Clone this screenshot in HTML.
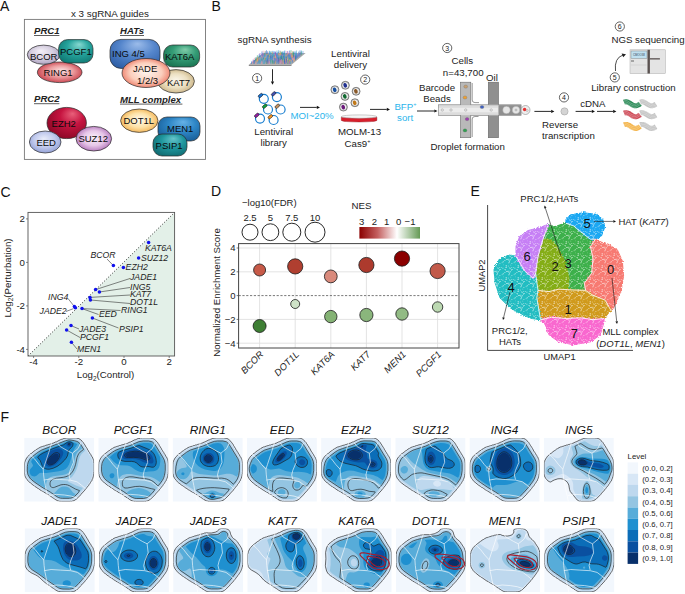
<!DOCTYPE html>
<html><head><meta charset="utf-8"><style>
html,body{margin:0;padding:0;background:#fff;width:685px;height:594px;overflow:hidden}
svg{display:block}
text{font-family:"Liberation Sans",sans-serif}
</style></head><body>
<svg width="685" height="594" viewBox="0 0 685 594">
<defs><radialGradient id="gBCOR" cx="0.5" cy="0.45" r="0.6" fx="0.4" fy="0.3"><stop offset="0" stop-color="#f4f0f8"/><stop offset="0.55" stop-color="#d6cfe0"/><stop offset="1" stop-color="#a89cbc"/></radialGradient>
<radialGradient id="gPCGF1" cx="0.55" cy="0.4" r="0.65" fx="0.6" fy="0.2"><stop offset="0" stop-color="#86d8d0"/><stop offset="0.5" stop-color="#26a49d"/><stop offset="1" stop-color="#107a74"/></radialGradient>
<radialGradient id="gRING1" cx="0.5" cy="0.5" r="0.55" fx="0.55" fy="0.4"><stop offset="0" stop-color="#fbe0e0"/><stop offset="0.5" stop-color="#ec9ea0"/><stop offset="1" stop-color="#c83c48"/></radialGradient>
<radialGradient id="gING" cx="0.55" cy="0.35" r="0.7" fx="0.55" fy="0.15"><stop offset="0" stop-color="#9cbcea"/><stop offset="0.5" stop-color="#5586cc"/><stop offset="1" stop-color="#2f60a8"/></radialGradient>
<radialGradient id="gKAT6A" cx="0.55" cy="0.4" r="0.65" fx="0.6" fy="0.2"><stop offset="0" stop-color="#80ccaa"/><stop offset="0.5" stop-color="#349c76"/><stop offset="1" stop-color="#1a7452"/></radialGradient>
<radialGradient id="gJADE" cx="0.5" cy="0.5" r="0.55" fx="0.5" fy="0.45"><stop offset="0" stop-color="#fff6f0"/><stop offset="0.6" stop-color="#fbcfbd"/><stop offset="1" stop-color="#ec7662"/></radialGradient>
<radialGradient id="gKAT7" cx="0.5" cy="0.5" r="0.55" fx="0.5" fy="0.45"><stop offset="0" stop-color="#fbf6ea"/><stop offset="0.55" stop-color="#ece0c2"/><stop offset="1" stop-color="#c8b080"/></radialGradient>
<radialGradient id="gEZH2" cx="0.6" cy="0.35" r="0.65" fx="0.65" fy="0.2"><stop offset="0" stop-color="#e8607a"/><stop offset="0.45" stop-color="#c61440"/><stop offset="1" stop-color="#900828"/></radialGradient>
<radialGradient id="gEED" cx="0.5" cy="0.45" r="0.6" fx="0.45" fy="0.35"><stop offset="0" stop-color="#e8ecfa"/><stop offset="0.55" stop-color="#c2cbee"/><stop offset="1" stop-color="#8c9ad2"/></radialGradient>
<radialGradient id="gSUZ12" cx="0.5" cy="0.5" r="0.55" fx="0.5" fy="0.45"><stop offset="0" stop-color="#fbf0fb"/><stop offset="0.55" stop-color="#e6c6e8"/><stop offset="1" stop-color="#b070b8"/></radialGradient>
<radialGradient id="gDOT1L" cx="0.5" cy="0.5" r="0.55" fx="0.5" fy="0.45"><stop offset="0" stop-color="#fffaf0"/><stop offset="0.55" stop-color="#fde2a8"/><stop offset="1" stop-color="#f2b04e"/></radialGradient>
<radialGradient id="gMEN1" cx="0.55" cy="0.4" r="0.65" fx="0.6" fy="0.2"><stop offset="0" stop-color="#66b2e6"/><stop offset="0.5" stop-color="#2e86c6"/><stop offset="1" stop-color="#185e98"/></radialGradient>
<radialGradient id="gPSIP1" cx="0.55" cy="0.4" r="0.65" fx="0.6" fy="0.2"><stop offset="0" stop-color="#66c4ca"/><stop offset="0.5" stop-color="#1f979e"/><stop offset="1" stop-color="#106c72"/></radialGradient>
<radialGradient id="gCell" cx="0.5" cy="0.5" r="0.5" fx="0.5" fy="0.5"><stop offset="0" stop-color="#ffffff"/><stop offset="0.6" stop-color="#f0f0f0"/><stop offset="1" stop-color="#a0a0a0"/></radialGradient>
<linearGradient id="gNES" x1="0" x2="1" y1="0" y2="0"><stop offset="0" stop-color="#8b0000"/><stop offset="0.3" stop-color="#c46060"/><stop offset="0.62" stop-color="#ffffff"/><stop offset="1" stop-color="#659a55"/></linearGradient>
<pattern id="spk" width="12" height="12" patternUnits="userSpaceOnUse"><rect x="3.9" y="1.8" width="0.8" height="0.5" fill="#fff"/><rect x="6.4" y="4.4" width="0.5" height="0.7" fill="#fff"/><rect x="0.4" y="5.2" width="0.5" height="0.5" fill="#fff"/><rect x="5.1" y="9.9" width="0.5" height="0.6" fill="#fff"/><rect x="7.5" y="11.4" width="0.7" height="0.7" fill="#fff"/><rect x="11.7" y="0.6" width="0.8" height="0.6" fill="#fff"/><rect x="1.7" y="1.4" width="0.6" height="0.8" fill="#fff"/><rect x="2.2" y="7" width="0.8" height="0.6" fill="#fff"/><rect x="6.6" y="0.8" width="0.5" height="0.6" fill="#fff"/><rect x="8.2" y="5.1" width="0.6" height="0.7" fill="#fff"/><rect x="5.4" y="3.6" width="0.8" height="0.8" fill="#fff"/><rect x="2.9" y="6.9" width="0.7" height="0.9" fill="#fff"/><rect x="8.8" y="3.5" width="0.9" height="0.5" fill="#fff"/><rect x="5" y="9.1" width="0.6" height="0.7" fill="#fff"/><rect x="0.5" y="8" width="0.8" height="0.7" fill="#fff"/><rect x="10.5" y="3.8" width="0.8" height="0.7" fill="#fff"/><rect x="7" y="5.5" width="0.8" height="0.9" fill="#fff"/><rect x="5.7" y="8" width="0.5" height="0.8" fill="#fff"/><rect x="7.8" y="11.9" width="0.8" height="0.6" fill="#fff"/><rect x="4.6" y="8" width="0.5" height="0.7" fill="#fff"/><rect x="2" y="1.4" width="0.5" height="0.8" fill="#fff"/><rect x="1.6" y="3" width="0.7" height="0.8" fill="#fff"/><rect x="1" y="5.4" width="0.7" height="0.9" fill="#fff"/><rect x="9.8" y="10.4" width="0.6" height="0.7" fill="#fff"/><rect x="4.3" y="10.6" width="0.9" height="0.6" fill="#fff"/><rect x="2.1" y="2.8" width="0.6" height="0.7" fill="#fff"/><rect x="7.1" y="3.2" width="0.5" height="0.7" fill="#fff"/><rect x="4.4" y="6.8" width="0.9" height="0.8" fill="#fff"/><rect x="6.2" y="7.4" width="0.8" height="0.5" fill="#fff"/><rect x="10.8" y="9.4" width="0.8" height="0.8" fill="#fff"/></pattern>
<clipPath id="eclip"><path d="M538 228.2L547.8 224.5L553.9 227L561.2 224.5L566 223.3L566 219.6L571 214.8L583.2 212.8L595.4 214.3L602.7 219.6L604.7 227L601.5 235.5L595.4 239.2L599 241.6L607.6 244L617.4 250.2L622.2 261.1L623.5 275.8L621 290.4L616.1 302.6L611.3 311.2L608.8 312.4L602.7 317.3L603.9 322.2L600.3 334.4L590.5 341.7L573.4 344.6L558.8 341.7L549 334.4L545.4 324.6L540.5 319.7L531.9 318.5L522.2 314.8L510 307.5L500.2 297.7L495.3 283.1L494.1 269.7L499 259.9L510 255L516.1 256.3L516.1 246.5L519.7 236.7L528.3 230.6Z"/></clipPath>
<filter id="efz" x="-5%" y="-5%" width="110%" height="110%"><feTurbulence type="fractalNoise" baseFrequency="0.8" numOctaves="2" seed="4" result="n"/><feDisplacementMap in="SourceGraphic" in2="n" scale="3.2" xChannelSelector="R" yChannelSelector="G"/></filter>
<clipPath id="fc0"><rect x="24.3" y="437.9" width="69.8" height="63.6"/></clipPath>
<clipPath id="fc1"><rect x="98.5" y="437.9" width="69.8" height="63.6"/></clipPath>
<clipPath id="fc2"><rect x="172.8" y="437.9" width="69.8" height="63.6"/></clipPath>
<clipPath id="fc3"><rect x="247" y="437.9" width="69.8" height="63.6"/></clipPath>
<clipPath id="fc4"><rect x="321.2" y="437.9" width="69.8" height="63.6"/></clipPath>
<clipPath id="fc5"><rect x="395.5" y="437.9" width="69.8" height="63.6"/></clipPath>
<clipPath id="fc6"><rect x="469.7" y="437.9" width="69.8" height="63.6"/></clipPath>
<clipPath id="fc7"><rect x="543.9" y="437.9" width="69.8" height="63.6"/></clipPath>
<clipPath id="fc8"><rect x="24.8" y="528.5" width="69.8" height="63.6"/></clipPath>
<clipPath id="fc9"><rect x="99" y="528.5" width="69.8" height="63.6"/></clipPath>
<clipPath id="fc10"><rect x="173.3" y="528.5" width="69.8" height="63.6"/></clipPath>
<clipPath id="fc11"><rect x="247.5" y="528.5" width="69.8" height="63.6"/></clipPath>
<clipPath id="fc12"><rect x="321.7" y="528.5" width="69.8" height="63.6"/></clipPath>
<clipPath id="fc13"><rect x="396" y="528.5" width="69.8" height="63.6"/></clipPath>
<clipPath id="fc14"><rect x="470.2" y="528.5" width="69.8" height="63.6"/></clipPath>
<clipPath id="fc15"><rect x="544.4" y="528.5" width="69.8" height="63.6"/></clipPath></defs>
<text x="0" y="11" font-size="14" text-anchor="start" fill="#111">A</text>
<text x="211.5" y="11" font-size="14" text-anchor="start" fill="#111">B</text>
<text x="0.5" y="197" font-size="14" text-anchor="start" fill="#111">C</text>
<text x="211" y="196" font-size="14" text-anchor="start" fill="#111">D</text>
<text x="470.5" y="196" font-size="14" text-anchor="start" fill="#111">E</text>
<text x="0.5" y="421.6" font-size="14" text-anchor="start" fill="#111">F</text>
<rect x="24.4" y="19.4" width="181.1" height="140" fill="none" stroke="#777" stroke-width="0.9"/>
<text x="71" y="17" font-size="9.8" text-anchor="start" fill="#222">x 3 sgRNA guides</text>
<text x="34" y="34" font-size="9.6" text-anchor="start" fill="#222" font-style="italic" font-weight="bold">PRC1</text>
<line x1="34" y1="35.5" x2="59.4" y2="35.5" stroke="#333" stroke-width="0.8"/>
<text x="120" y="34" font-size="9.6" text-anchor="start" fill="#222" font-style="italic" font-weight="bold">HATs</text>
<line x1="120" y1="35.5" x2="144" y2="35.5" stroke="#333" stroke-width="0.8"/>
<text x="34" y="102.2" font-size="9.6" text-anchor="start" fill="#222" font-style="italic" font-weight="bold">PRC2</text>
<line x1="34" y1="103.7" x2="59.4" y2="103.7" stroke="#333" stroke-width="0.8"/>
<text x="120" y="102.6" font-size="9.6" text-anchor="start" fill="#222" font-style="italic" font-weight="bold">MLL complex</text>
<line x1="120" y1="104.1" x2="182.4" y2="104.1" stroke="#333" stroke-width="0.8"/>
<ellipse cx="59.7" cy="72.3" rx="22.3" ry="10.3" fill="url(#gRING1)" stroke="#2a2a2a" stroke-width="0.7"/>
<ellipse cx="43.6" cy="54.7" rx="16.3" ry="9.6" fill="url(#gBCOR)" stroke="#2a2a2a" stroke-width="0.7"/>
<rect x="58.6" y="39.6" width="34.4" height="23.4" rx="9" fill="url(#gPCGF1)" stroke="#2a2a2a" stroke-width="0.7"/>
<text x="30" y="60" font-size="9.5" text-anchor="start" fill="#0a0a0a">BCOR</text>
<text x="60" y="55" font-size="9.5" text-anchor="start" fill="#0a0a0a">PCGF1</text>
<text x="43.6" y="76" font-size="9.5" text-anchor="start" fill="#0a0a0a">RING1</text>
<rect x="110" y="39.4" width="50" height="29" rx="11" fill="url(#gING)" stroke="#2a2a2a" stroke-width="0.7"/>
<rect x="163.6" y="45" width="36" height="22" rx="9" fill="url(#gKAT6A)" stroke="#2a2a2a" stroke-width="0.7"/>
<ellipse cx="176" cy="81.3" rx="18.4" ry="11.7" fill="url(#gKAT7)" stroke="#2a2a2a" stroke-width="0.7"/>
<ellipse cx="146" cy="73" rx="24" ry="14.5" fill="url(#gJADE)" stroke="#2a2a2a" stroke-width="0.7"/>
<text x="112" y="57" font-size="9.5" text-anchor="start" fill="#0a0a0a">ING 4/5</text>
<text x="165" y="60" font-size="9.5" text-anchor="start" fill="#0a0a0a">KAT6A</text>
<text x="133" y="72" font-size="9.5" text-anchor="start" fill="#0a0a0a">JADE</text>
<text x="137" y="83.6" font-size="9.5" text-anchor="start" fill="#0a0a0a">1/2/3</text>
<text x="167" y="86.4" font-size="9.5" text-anchor="start" fill="#0a0a0a">KAT7</text>
<ellipse cx="66.7" cy="123" rx="19.7" ry="15.6" fill="url(#gEZH2)" stroke="#2a2a2a" stroke-width="0.7"/>
<ellipse cx="45.2" cy="142" rx="15.8" ry="11" fill="url(#gEED)" stroke="#2a2a2a" stroke-width="0.7"/>
<ellipse cx="93.8" cy="138.7" rx="17.8" ry="12.3" fill="url(#gSUZ12)" stroke="#2a2a2a" stroke-width="0.7"/>
<text x="51.6" y="127" font-size="9.5" text-anchor="start" fill="#0a0a0a">EZH2</text>
<text x="36.4" y="146" font-size="9.5" text-anchor="start" fill="#0a0a0a">EED</text>
<text x="78.4" y="142" font-size="9.5" text-anchor="start" fill="#0a0a0a">SUZ12</text>
<ellipse cx="139.3" cy="120.7" rx="18.7" ry="11.7" fill="url(#gDOT1L)" stroke="#2a2a2a" stroke-width="0.7"/>
<rect x="158" y="117" width="42" height="24" rx="9" fill="url(#gMEN1)" stroke="#2a2a2a" stroke-width="0.7"/>
<rect x="153" y="134" width="34" height="22" rx="9" fill="url(#gPSIP1)" stroke="#2a2a2a" stroke-width="0.7"/>
<text x="123.4" y="124" font-size="9.5" text-anchor="start" fill="#0a0a0a">DOT1L</text>
<text x="167" y="131.6" font-size="9.5" text-anchor="start" fill="#0a0a0a">MEN1</text>
<text x="155.6" y="149" font-size="9.5" text-anchor="start" fill="#0a0a0a">PSIP1</text>
<text x="237.6" y="42.6" font-size="9.8" text-anchor="start" fill="#222">sgRNA synthesis</text>
<path d="M248.8 64.7L291.5 64.7L305.7 53.1L263 53.1Z" fill="#a9a9a9"/>
<path d="M248.8 64.7L291.5 64.7L291.5 66L248.8 66Z" fill="#8a8a8a"/>
<line x1="262.9" y1="54.2" x2="263.1" y2="50.8" stroke="#e890b0" stroke-width="0.6"/><line x1="265" y1="54.2" x2="265.2" y2="50.9" stroke="#f0a050" stroke-width="0.6"/><line x1="266.3" y1="54.2" x2="266.5" y2="50.3" stroke="#2c6cc0" stroke-width="0.6"/><line x1="267.5" y1="54.2" x2="267.7" y2="51.3" stroke="#2c6cc0" stroke-width="0.6"/><line x1="269.3" y1="54.2" x2="269.5" y2="50.8" stroke="#3aa0d0" stroke-width="0.6"/><line x1="270.9" y1="54.2" x2="271.1" y2="51.4" stroke="#2ea070" stroke-width="0.6"/><line x1="272.6" y1="54.2" x2="272.8" y2="50.9" stroke="#3b7dd8" stroke-width="0.6"/><line x1="273.9" y1="54.2" x2="274.1" y2="51.5" stroke="#3b7dd8" stroke-width="0.6"/><line x1="275.1" y1="54.2" x2="275.3" y2="51.6" stroke="#4a90e0" stroke-width="0.6"/><line x1="276.8" y1="54.2" x2="277" y2="50.6" stroke="#3aa0d0" stroke-width="0.6"/><line x1="278.5" y1="54.2" x2="278.7" y2="50.3" stroke="#3aa0d0" stroke-width="0.6"/><line x1="280" y1="54.2" x2="280.2" y2="50.8" stroke="#2ea070" stroke-width="0.6"/><line x1="281.7" y1="54.2" x2="281.9" y2="51.5" stroke="#2ea070" stroke-width="0.6"/><line x1="282.9" y1="54.2" x2="283.1" y2="51.2" stroke="#3aa0d0" stroke-width="0.6"/><line x1="284.6" y1="54.2" x2="284.8" y2="50.4" stroke="#3aa0d0" stroke-width="0.6"/><line x1="285.9" y1="54.2" x2="286.1" y2="51.1" stroke="#e890b0" stroke-width="0.6"/><line x1="287.5" y1="54.2" x2="287.7" y2="51" stroke="#9050c0" stroke-width="0.6"/><line x1="289.3" y1="54.2" x2="289.5" y2="50.6" stroke="#3b7dd8" stroke-width="0.6"/><line x1="290.8" y1="54.2" x2="291" y2="50.2" stroke="#2ea070" stroke-width="0.6"/><line x1="292.2" y1="54.2" x2="292.4" y2="51.1" stroke="#f0a050" stroke-width="0.6"/><line x1="293.7" y1="54.2" x2="293.9" y2="51.3" stroke="#4a90e0" stroke-width="0.6"/><line x1="294.9" y1="54.2" x2="295.1" y2="51.5" stroke="#2c6cc0" stroke-width="0.6"/><line x1="296.2" y1="54.2" x2="296.4" y2="50.5" stroke="#3aa0d0" stroke-width="0.6"/><line x1="298.4" y1="54.2" x2="298.6" y2="51.6" stroke="#3aa0d0" stroke-width="0.6"/><line x1="299.8" y1="54.2" x2="300" y2="50.4" stroke="#3b7dd8" stroke-width="0.6"/><line x1="301.2" y1="54.2" x2="301.4" y2="50.5" stroke="#3aa0d0" stroke-width="0.6"/><line x1="302.8" y1="54.2" x2="303" y2="51.1" stroke="#4a90e0" stroke-width="0.6"/><line x1="261.7" y1="55.4" x2="261.9" y2="51.4" stroke="#4a90e0" stroke-width="0.6"/><line x1="262.8" y1="55.4" x2="263" y2="52.7" stroke="#3b7dd8" stroke-width="0.6"/><line x1="265.1" y1="55.4" x2="265.3" y2="51.5" stroke="#4a90e0" stroke-width="0.6"/><line x1="266.3" y1="55.4" x2="266.5" y2="52.6" stroke="#3b7dd8" stroke-width="0.6"/><line x1="268.1" y1="55.4" x2="268.3" y2="52.3" stroke="#e890b0" stroke-width="0.6"/><line x1="269.6" y1="55.4" x2="269.8" y2="51.6" stroke="#3aa0d0" stroke-width="0.6"/><line x1="270.7" y1="55.4" x2="270.9" y2="51.6" stroke="#3aa0d0" stroke-width="0.6"/><line x1="272.4" y1="55.4" x2="272.6" y2="52" stroke="#f0a050" stroke-width="0.6"/><line x1="273.9" y1="55.4" x2="274.1" y2="51.5" stroke="#4a90e0" stroke-width="0.6"/><line x1="275.3" y1="55.4" x2="275.5" y2="51.8" stroke="#9050c0" stroke-width="0.6"/><line x1="277.2" y1="55.4" x2="277.4" y2="52.2" stroke="#4a90e0" stroke-width="0.6"/><line x1="278.4" y1="55.4" x2="278.6" y2="52.1" stroke="#3b7dd8" stroke-width="0.6"/><line x1="280.1" y1="55.4" x2="280.3" y2="51.4" stroke="#e890b0" stroke-width="0.6"/><line x1="281" y1="55.4" x2="281.2" y2="52" stroke="#2ea070" stroke-width="0.6"/><line x1="282.6" y1="55.4" x2="282.8" y2="51.9" stroke="#2c6cc0" stroke-width="0.6"/><line x1="284.3" y1="55.4" x2="284.5" y2="51.5" stroke="#4a90e0" stroke-width="0.6"/><line x1="286.1" y1="55.4" x2="286.3" y2="52.8" stroke="#3b7dd8" stroke-width="0.6"/><line x1="287.8" y1="55.4" x2="288" y2="52.8" stroke="#e890b0" stroke-width="0.6"/><line x1="288.8" y1="55.4" x2="289" y2="52.2" stroke="#e890b0" stroke-width="0.6"/><line x1="290.3" y1="55.4" x2="290.5" y2="52.6" stroke="#e890b0" stroke-width="0.6"/><line x1="292.3" y1="55.4" x2="292.5" y2="52.5" stroke="#3aa0d0" stroke-width="0.6"/><line x1="293.2" y1="55.4" x2="293.4" y2="51.7" stroke="#2ea070" stroke-width="0.6"/><line x1="294.9" y1="55.4" x2="295.1" y2="52.5" stroke="#4a90e0" stroke-width="0.6"/><line x1="296.4" y1="55.4" x2="296.6" y2="52.6" stroke="#3aa0d0" stroke-width="0.6"/><line x1="298.2" y1="55.4" x2="298.4" y2="52.7" stroke="#e890b0" stroke-width="0.6"/><line x1="300" y1="55.4" x2="300.2" y2="51.9" stroke="#9050c0" stroke-width="0.6"/><line x1="301.1" y1="55.4" x2="301.3" y2="51.6" stroke="#2ea070" stroke-width="0.6"/><line x1="259.8" y1="56.6" x2="260" y2="53" stroke="#9050c0" stroke-width="0.6"/><line x1="262" y1="56.6" x2="262.2" y2="53.4" stroke="#9050c0" stroke-width="0.6"/><line x1="263.4" y1="56.6" x2="263.6" y2="54" stroke="#9050c0" stroke-width="0.6"/><line x1="264.6" y1="56.6" x2="264.8" y2="52.9" stroke="#2ea070" stroke-width="0.6"/><line x1="266.5" y1="56.6" x2="266.7" y2="53.6" stroke="#f0a050" stroke-width="0.6"/><line x1="268" y1="56.6" x2="268.2" y2="53.6" stroke="#2ea070" stroke-width="0.6"/><line x1="269.2" y1="56.6" x2="269.4" y2="53.3" stroke="#4a90e0" stroke-width="0.6"/><line x1="270.8" y1="56.6" x2="271" y2="53.2" stroke="#4a90e0" stroke-width="0.6"/><line x1="272.3" y1="56.6" x2="272.5" y2="53.5" stroke="#3aa0d0" stroke-width="0.6"/><line x1="273.6" y1="56.6" x2="273.8" y2="54" stroke="#3aa0d0" stroke-width="0.6"/><line x1="275.4" y1="56.6" x2="275.6" y2="52.7" stroke="#9050c0" stroke-width="0.6"/><line x1="276.5" y1="56.6" x2="276.7" y2="53.4" stroke="#4a90e0" stroke-width="0.6"/><line x1="278.4" y1="56.6" x2="278.6" y2="52.8" stroke="#f0a050" stroke-width="0.6"/><line x1="280.2" y1="56.6" x2="280.4" y2="52.7" stroke="#f0a050" stroke-width="0.6"/><line x1="281.7" y1="56.6" x2="281.9" y2="54" stroke="#9050c0" stroke-width="0.6"/><line x1="283.3" y1="56.6" x2="283.5" y2="52.8" stroke="#3b7dd8" stroke-width="0.6"/><line x1="284.1" y1="56.6" x2="284.3" y2="53" stroke="#2ea070" stroke-width="0.6"/><line x1="286" y1="56.6" x2="286.2" y2="53.7" stroke="#3b7dd8" stroke-width="0.6"/><line x1="287.5" y1="56.6" x2="287.7" y2="53.5" stroke="#f0a050" stroke-width="0.6"/><line x1="288.9" y1="56.6" x2="289.1" y2="53.7" stroke="#2c6cc0" stroke-width="0.6"/><line x1="290.8" y1="56.6" x2="291" y2="54" stroke="#9050c0" stroke-width="0.6"/><line x1="291.8" y1="56.6" x2="292" y2="53.3" stroke="#f0a050" stroke-width="0.6"/><line x1="293.3" y1="56.6" x2="293.5" y2="52.9" stroke="#2ea070" stroke-width="0.6"/><line x1="295.4" y1="56.6" x2="295.6" y2="54" stroke="#3aa0d0" stroke-width="0.6"/><line x1="296.3" y1="56.6" x2="296.5" y2="53.7" stroke="#4a90e0" stroke-width="0.6"/><line x1="298.2" y1="56.6" x2="298.4" y2="53.3" stroke="#3b7dd8" stroke-width="0.6"/><line x1="299.6" y1="56.6" x2="299.8" y2="53" stroke="#3b7dd8" stroke-width="0.6"/><line x1="259" y1="57.9" x2="259.2" y2="54.2" stroke="#3b7dd8" stroke-width="0.6"/><line x1="259.9" y1="57.9" x2="260.1" y2="55.2" stroke="#3b7dd8" stroke-width="0.6"/><line x1="262" y1="57.9" x2="262.2" y2="55.1" stroke="#2c6cc0" stroke-width="0.6"/><line x1="263.1" y1="57.9" x2="263.3" y2="54.8" stroke="#e890b0" stroke-width="0.6"/><line x1="264.7" y1="57.9" x2="264.9" y2="54.7" stroke="#4a90e0" stroke-width="0.6"/><line x1="266.2" y1="57.9" x2="266.4" y2="55" stroke="#e890b0" stroke-width="0.6"/><line x1="267.7" y1="57.9" x2="267.9" y2="55.1" stroke="#3b7dd8" stroke-width="0.6"/><line x1="269.5" y1="57.9" x2="269.7" y2="54.7" stroke="#f0a050" stroke-width="0.6"/><line x1="270.9" y1="57.9" x2="271.1" y2="55.2" stroke="#2c6cc0" stroke-width="0.6"/><line x1="272.4" y1="57.9" x2="272.6" y2="54.2" stroke="#3aa0d0" stroke-width="0.6"/><line x1="274" y1="57.9" x2="274.2" y2="55.2" stroke="#3aa0d0" stroke-width="0.6"/><line x1="275" y1="57.9" x2="275.2" y2="54.4" stroke="#e890b0" stroke-width="0.6"/><line x1="276.8" y1="57.9" x2="277" y2="54.3" stroke="#2c6cc0" stroke-width="0.6"/><line x1="278" y1="57.9" x2="278.2" y2="55" stroke="#4a90e0" stroke-width="0.6"/><line x1="280.1" y1="57.9" x2="280.3" y2="55.2" stroke="#3aa0d0" stroke-width="0.6"/><line x1="281.2" y1="57.9" x2="281.4" y2="55.1" stroke="#3b7dd8" stroke-width="0.6"/><line x1="283.3" y1="57.9" x2="283.5" y2="54.7" stroke="#4a90e0" stroke-width="0.6"/><line x1="284.2" y1="57.9" x2="284.4" y2="54.3" stroke="#3aa0d0" stroke-width="0.6"/><line x1="286.1" y1="57.9" x2="286.3" y2="54.2" stroke="#f0a050" stroke-width="0.6"/><line x1="287.8" y1="57.9" x2="288" y2="54.3" stroke="#2c6cc0" stroke-width="0.6"/><line x1="288.8" y1="57.9" x2="289" y2="54.2" stroke="#3b7dd8" stroke-width="0.6"/><line x1="290.6" y1="57.9" x2="290.8" y2="54.5" stroke="#3aa0d0" stroke-width="0.6"/><line x1="291.8" y1="57.9" x2="292" y2="55.2" stroke="#f0a050" stroke-width="0.6"/><line x1="293.2" y1="57.9" x2="293.4" y2="55.1" stroke="#2c6cc0" stroke-width="0.6"/><line x1="295.4" y1="57.9" x2="295.6" y2="53.9" stroke="#4a90e0" stroke-width="0.6"/><line x1="296.9" y1="57.9" x2="297.1" y2="55.2" stroke="#9050c0" stroke-width="0.6"/><line x1="297.8" y1="57.9" x2="298" y2="54.2" stroke="#3b7dd8" stroke-width="0.6"/><line x1="257.2" y1="59.1" x2="257.4" y2="55.3" stroke="#2ea070" stroke-width="0.6"/><line x1="259" y1="59.1" x2="259.2" y2="56.1" stroke="#2ea070" stroke-width="0.6"/><line x1="260.3" y1="59.1" x2="260.5" y2="55.8" stroke="#3aa0d0" stroke-width="0.6"/><line x1="261.5" y1="59.1" x2="261.7" y2="55.6" stroke="#e890b0" stroke-width="0.6"/><line x1="263.3" y1="59.1" x2="263.5" y2="55.1" stroke="#3aa0d0" stroke-width="0.6"/><line x1="264.8" y1="59.1" x2="265" y2="55.1" stroke="#3aa0d0" stroke-width="0.6"/><line x1="266.6" y1="59.1" x2="266.8" y2="55.1" stroke="#3aa0d0" stroke-width="0.6"/><line x1="268" y1="59.1" x2="268.2" y2="55.4" stroke="#2c6cc0" stroke-width="0.6"/><line x1="269.1" y1="59.1" x2="269.3" y2="55.9" stroke="#2ea070" stroke-width="0.6"/><line x1="270.6" y1="59.1" x2="270.8" y2="55.8" stroke="#2c6cc0" stroke-width="0.6"/><line x1="272.7" y1="59.1" x2="272.9" y2="55.8" stroke="#2c6cc0" stroke-width="0.6"/><line x1="274" y1="59.1" x2="274.2" y2="55.3" stroke="#2ea070" stroke-width="0.6"/><line x1="275.2" y1="59.1" x2="275.4" y2="56.2" stroke="#e890b0" stroke-width="0.6"/><line x1="277.3" y1="59.1" x2="277.5" y2="55.3" stroke="#4a90e0" stroke-width="0.6"/><line x1="278.6" y1="59.1" x2="278.8" y2="55.3" stroke="#4a90e0" stroke-width="0.6"/><line x1="280.3" y1="59.1" x2="280.5" y2="56" stroke="#4a90e0" stroke-width="0.6"/><line x1="281.5" y1="59.1" x2="281.7" y2="55.9" stroke="#2ea070" stroke-width="0.6"/><line x1="283.1" y1="59.1" x2="283.3" y2="56.1" stroke="#2c6cc0" stroke-width="0.6"/><line x1="284.7" y1="59.1" x2="284.9" y2="56.3" stroke="#2c6cc0" stroke-width="0.6"/><line x1="286.2" y1="59.1" x2="286.4" y2="56.2" stroke="#3b7dd8" stroke-width="0.6"/><line x1="287.5" y1="59.1" x2="287.7" y2="55.5" stroke="#3aa0d0" stroke-width="0.6"/><line x1="289.3" y1="59.1" x2="289.5" y2="55.2" stroke="#3b7dd8" stroke-width="0.6"/><line x1="290.6" y1="59.1" x2="290.8" y2="56.2" stroke="#9050c0" stroke-width="0.6"/><line x1="292.2" y1="59.1" x2="292.4" y2="55.4" stroke="#f0a050" stroke-width="0.6"/><line x1="294" y1="59.1" x2="294.2" y2="55.3" stroke="#9050c0" stroke-width="0.6"/><line x1="295.5" y1="59.1" x2="295.7" y2="55.4" stroke="#2ea070" stroke-width="0.6"/><line x1="296.4" y1="59.1" x2="296.6" y2="55.5" stroke="#3b7dd8" stroke-width="0.6"/><line x1="256" y1="60.3" x2="256.2" y2="57.3" stroke="#3b7dd8" stroke-width="0.6"/><line x1="257.1" y1="60.3" x2="257.3" y2="57.1" stroke="#f0a050" stroke-width="0.6"/><line x1="258.4" y1="60.3" x2="258.6" y2="57.3" stroke="#4a90e0" stroke-width="0.6"/><line x1="259.9" y1="60.3" x2="260.1" y2="57.1" stroke="#e890b0" stroke-width="0.6"/><line x1="261.4" y1="60.3" x2="261.6" y2="57.2" stroke="#3aa0d0" stroke-width="0.6"/><line x1="263.2" y1="60.3" x2="263.4" y2="57.6" stroke="#2c6cc0" stroke-width="0.6"/><line x1="264.7" y1="60.3" x2="264.9" y2="56.9" stroke="#f0a050" stroke-width="0.6"/><line x1="266.6" y1="60.3" x2="266.8" y2="57.6" stroke="#3aa0d0" stroke-width="0.6"/><line x1="267.5" y1="60.3" x2="267.7" y2="56.5" stroke="#4a90e0" stroke-width="0.6"/><line x1="269" y1="60.3" x2="269.2" y2="56.4" stroke="#e890b0" stroke-width="0.6"/><line x1="271" y1="60.3" x2="271.2" y2="57.2" stroke="#2c6cc0" stroke-width="0.6"/><line x1="272.2" y1="60.3" x2="272.4" y2="56.8" stroke="#4a90e0" stroke-width="0.6"/><line x1="273.6" y1="60.3" x2="273.8" y2="56.4" stroke="#e890b0" stroke-width="0.6"/><line x1="275.6" y1="60.3" x2="275.8" y2="56.9" stroke="#f0a050" stroke-width="0.6"/><line x1="277.1" y1="60.3" x2="277.3" y2="57" stroke="#3b7dd8" stroke-width="0.6"/><line x1="278.6" y1="60.3" x2="278.8" y2="56.8" stroke="#2ea070" stroke-width="0.6"/><line x1="280.1" y1="60.3" x2="280.3" y2="56.7" stroke="#2ea070" stroke-width="0.6"/><line x1="281.2" y1="60.3" x2="281.4" y2="56.5" stroke="#2c6cc0" stroke-width="0.6"/><line x1="282.7" y1="60.3" x2="282.9" y2="56.4" stroke="#2ea070" stroke-width="0.6"/><line x1="284.9" y1="60.3" x2="285.1" y2="56.8" stroke="#3aa0d0" stroke-width="0.6"/><line x1="286.1" y1="60.3" x2="286.3" y2="56.8" stroke="#2c6cc0" stroke-width="0.6"/><line x1="287.6" y1="60.3" x2="287.8" y2="56.6" stroke="#f0a050" stroke-width="0.6"/><line x1="288.8" y1="60.3" x2="289" y2="57.4" stroke="#3aa0d0" stroke-width="0.6"/><line x1="290.5" y1="60.3" x2="290.7" y2="57.3" stroke="#3aa0d0" stroke-width="0.6"/><line x1="291.8" y1="60.3" x2="292" y2="57.5" stroke="#2c6cc0" stroke-width="0.6"/><line x1="293.7" y1="60.3" x2="293.9" y2="57.4" stroke="#e890b0" stroke-width="0.6"/><line x1="295.5" y1="60.3" x2="295.7" y2="56.4" stroke="#2c6cc0" stroke-width="0.6"/><line x1="254.2" y1="61.5" x2="254.4" y2="57.8" stroke="#e890b0" stroke-width="0.6"/><line x1="255.7" y1="61.5" x2="255.9" y2="57.5" stroke="#2ea070" stroke-width="0.6"/><line x1="257" y1="61.5" x2="257.2" y2="58.8" stroke="#f0a050" stroke-width="0.6"/><line x1="258.8" y1="61.5" x2="259" y2="57.6" stroke="#f0a050" stroke-width="0.6"/><line x1="260" y1="61.5" x2="260.2" y2="58.7" stroke="#3aa0d0" stroke-width="0.6"/><line x1="261.9" y1="61.5" x2="262.1" y2="58.4" stroke="#2ea070" stroke-width="0.6"/><line x1="263.4" y1="61.5" x2="263.6" y2="58.7" stroke="#3aa0d0" stroke-width="0.6"/><line x1="265.1" y1="61.5" x2="265.3" y2="58.2" stroke="#2ea070" stroke-width="0.6"/><line x1="266.4" y1="61.5" x2="266.6" y2="58.6" stroke="#4a90e0" stroke-width="0.6"/><line x1="267.8" y1="61.5" x2="268" y2="58.5" stroke="#2c6cc0" stroke-width="0.6"/><line x1="269.7" y1="61.5" x2="269.9" y2="57.6" stroke="#3aa0d0" stroke-width="0.6"/><line x1="270.7" y1="61.5" x2="270.9" y2="57.7" stroke="#4a90e0" stroke-width="0.6"/><line x1="272.5" y1="61.5" x2="272.7" y2="57.6" stroke="#4a90e0" stroke-width="0.6"/><line x1="274.3" y1="61.5" x2="274.5" y2="58" stroke="#3b7dd8" stroke-width="0.6"/><line x1="275.5" y1="61.5" x2="275.7" y2="57.9" stroke="#3b7dd8" stroke-width="0.6"/><line x1="276.7" y1="61.5" x2="276.9" y2="57.9" stroke="#9050c0" stroke-width="0.6"/><line x1="278.5" y1="61.5" x2="278.7" y2="58.2" stroke="#2c6cc0" stroke-width="0.6"/><line x1="279.8" y1="61.5" x2="280" y2="57.8" stroke="#9050c0" stroke-width="0.6"/><line x1="281.2" y1="61.5" x2="281.4" y2="58.2" stroke="#2c6cc0" stroke-width="0.6"/><line x1="282.7" y1="61.5" x2="282.9" y2="58.5" stroke="#2ea070" stroke-width="0.6"/><line x1="284.3" y1="61.5" x2="284.5" y2="57.8" stroke="#3b7dd8" stroke-width="0.6"/><line x1="285.7" y1="61.5" x2="285.9" y2="58.1" stroke="#f0a050" stroke-width="0.6"/><line x1="287.6" y1="61.5" x2="287.8" y2="58.9" stroke="#e890b0" stroke-width="0.6"/><line x1="289" y1="61.5" x2="289.2" y2="57.7" stroke="#2ea070" stroke-width="0.6"/><line x1="290.3" y1="61.5" x2="290.5" y2="57.7" stroke="#3b7dd8" stroke-width="0.6"/><line x1="292.3" y1="61.5" x2="292.5" y2="57.9" stroke="#e890b0" stroke-width="0.6"/><line x1="294.1" y1="61.5" x2="294.3" y2="58.6" stroke="#f0a050" stroke-width="0.6"/><line x1="253" y1="62.7" x2="253.2" y2="59.5" stroke="#9050c0" stroke-width="0.6"/><line x1="254.2" y1="62.7" x2="254.4" y2="60" stroke="#3b7dd8" stroke-width="0.6"/><line x1="255.7" y1="62.7" x2="255.9" y2="59" stroke="#2ea070" stroke-width="0.6"/><line x1="257.2" y1="62.7" x2="257.4" y2="59.5" stroke="#f0a050" stroke-width="0.6"/><line x1="258.8" y1="62.7" x2="259" y2="59.5" stroke="#2c6cc0" stroke-width="0.6"/><line x1="260.1" y1="62.7" x2="260.3" y2="59.5" stroke="#3aa0d0" stroke-width="0.6"/><line x1="261.8" y1="62.7" x2="262" y2="59.5" stroke="#3b7dd8" stroke-width="0.6"/><line x1="263.5" y1="62.7" x2="263.7" y2="59.6" stroke="#e890b0" stroke-width="0.6"/><line x1="264.8" y1="62.7" x2="265" y2="59.6" stroke="#3aa0d0" stroke-width="0.6"/><line x1="266.1" y1="62.7" x2="266.3" y2="60.1" stroke="#9050c0" stroke-width="0.6"/><line x1="267.7" y1="62.7" x2="267.9" y2="59.6" stroke="#2c6cc0" stroke-width="0.6"/><line x1="269.4" y1="62.7" x2="269.6" y2="59.9" stroke="#3b7dd8" stroke-width="0.6"/><line x1="270.7" y1="62.7" x2="270.9" y2="59.6" stroke="#2ea070" stroke-width="0.6"/><line x1="272.5" y1="62.7" x2="272.7" y2="59.9" stroke="#2ea070" stroke-width="0.6"/><line x1="273.9" y1="62.7" x2="274.1" y2="59.9" stroke="#3b7dd8" stroke-width="0.6"/><line x1="275.4" y1="62.7" x2="275.6" y2="59.7" stroke="#3b7dd8" stroke-width="0.6"/><line x1="277.2" y1="62.7" x2="277.4" y2="60.1" stroke="#3aa0d0" stroke-width="0.6"/><line x1="278.1" y1="62.7" x2="278.3" y2="59.4" stroke="#9050c0" stroke-width="0.6"/><line x1="279.8" y1="62.7" x2="280" y2="59.6" stroke="#9050c0" stroke-width="0.6"/><line x1="281.3" y1="62.7" x2="281.5" y2="59.3" stroke="#e890b0" stroke-width="0.6"/><line x1="283.4" y1="62.7" x2="283.6" y2="59.3" stroke="#4a90e0" stroke-width="0.6"/><line x1="284.4" y1="62.7" x2="284.6" y2="59" stroke="#2c6cc0" stroke-width="0.6"/><line x1="286.3" y1="62.7" x2="286.5" y2="58.8" stroke="#2c6cc0" stroke-width="0.6"/><line x1="287.4" y1="62.7" x2="287.6" y2="59.8" stroke="#e890b0" stroke-width="0.6"/><line x1="289.2" y1="62.7" x2="289.4" y2="59.7" stroke="#f0a050" stroke-width="0.6"/><line x1="290.3" y1="62.7" x2="290.5" y2="59.5" stroke="#f0a050" stroke-width="0.6"/><line x1="292.3" y1="62.7" x2="292.5" y2="60.1" stroke="#3b7dd8" stroke-width="0.6"/><line x1="251.4" y1="64" x2="251.6" y2="61.3" stroke="#3b7dd8" stroke-width="0.6"/><line x1="252.7" y1="64" x2="252.9" y2="61.1" stroke="#e890b0" stroke-width="0.6"/><line x1="254" y1="64" x2="254.2" y2="60" stroke="#2c6cc0" stroke-width="0.6"/><line x1="255.6" y1="64" x2="255.8" y2="60.7" stroke="#e890b0" stroke-width="0.6"/><line x1="257.6" y1="64" x2="257.8" y2="61.3" stroke="#4a90e0" stroke-width="0.6"/><line x1="259" y1="64" x2="259.2" y2="60.5" stroke="#3aa0d0" stroke-width="0.6"/><line x1="260" y1="64" x2="260.2" y2="60.9" stroke="#3aa0d0" stroke-width="0.6"/><line x1="261.5" y1="64" x2="261.7" y2="60.8" stroke="#e890b0" stroke-width="0.6"/><line x1="263.4" y1="64" x2="263.6" y2="60.3" stroke="#3aa0d0" stroke-width="0.6"/><line x1="264.6" y1="64" x2="264.8" y2="60.3" stroke="#3aa0d0" stroke-width="0.6"/><line x1="266.7" y1="64" x2="266.9" y2="60.6" stroke="#2ea070" stroke-width="0.6"/><line x1="267.8" y1="64" x2="268" y2="60.8" stroke="#9050c0" stroke-width="0.6"/><line x1="269.4" y1="64" x2="269.6" y2="60.4" stroke="#e890b0" stroke-width="0.6"/><line x1="270.8" y1="64" x2="271" y2="61.1" stroke="#3aa0d0" stroke-width="0.6"/><line x1="272.8" y1="64" x2="273" y2="61.3" stroke="#2ea070" stroke-width="0.6"/><line x1="274.2" y1="64" x2="274.4" y2="61.3" stroke="#2c6cc0" stroke-width="0.6"/><line x1="275.2" y1="64" x2="275.4" y2="60.4" stroke="#f0a050" stroke-width="0.6"/><line x1="276.9" y1="64" x2="277.1" y2="60.5" stroke="#3b7dd8" stroke-width="0.6"/><line x1="278.8" y1="64" x2="279" y2="60.1" stroke="#2c6cc0" stroke-width="0.6"/><line x1="280" y1="64" x2="280.2" y2="60.1" stroke="#e890b0" stroke-width="0.6"/><line x1="282" y1="64" x2="282.2" y2="61.4" stroke="#9050c0" stroke-width="0.6"/><line x1="283" y1="64" x2="283.2" y2="60" stroke="#f0a050" stroke-width="0.6"/><line x1="284.5" y1="64" x2="284.7" y2="60.9" stroke="#2c6cc0" stroke-width="0.6"/><line x1="285.8" y1="64" x2="286" y2="60.5" stroke="#9050c0" stroke-width="0.6"/><line x1="287.8" y1="64" x2="288" y2="60" stroke="#2ea070" stroke-width="0.6"/><line x1="289.2" y1="64" x2="289.4" y2="61.3" stroke="#9050c0" stroke-width="0.6"/><line x1="290.5" y1="64" x2="290.7" y2="61.1" stroke="#3aa0d0" stroke-width="0.6"/>
<line x1="272.5" y1="69.2" x2="272.5" y2="81.6" stroke="#111" stroke-width="0.9"/><path d="M272.5 84.8L270.9 81.6L274.1 81.6Z" fill="#111"/>
<circle cx="257.1" cy="78.2" r="4.6" fill="#fff" stroke="#222" stroke-width="0.7"/>
<text x="257.1" y="80.7" font-size="7" text-anchor="middle" fill="#222">1</text>
<circle cx="263.8" cy="98.8" r="4.5" fill="none" stroke="#1a7fd0" stroke-width="1.2"/>
<rect x="258" y="94.2" width="5" height="2.7" rx="1.2" fill="#1a70d0" stroke="#111" stroke-width="0.5" transform="rotate(-40 260.5 95.5)"/>
<circle cx="276.9" cy="97.1" r="4.5" fill="none" stroke="#1a7fd0" stroke-width="1.2"/>
<rect x="271.1" y="92.5" width="5" height="2.7" rx="1.2" fill="#4050b0" stroke="#111" stroke-width="0.5" transform="rotate(-40 273.6 93.8)"/>
<circle cx="268" cy="109.5" r="4.5" fill="none" stroke="#1a7fd0" stroke-width="1.2"/>
<rect x="262.2" y="104.9" width="5" height="2.7" rx="1.2" fill="#10a040" stroke="#111" stroke-width="0.5" transform="rotate(-40 264.7 106.2)"/>
<circle cx="280.6" cy="109.5" r="4.5" fill="none" stroke="#1a7fd0" stroke-width="1.2"/>
<rect x="274.8" y="104.9" width="5" height="2.7" rx="1.2" fill="#c09060" stroke="#111" stroke-width="0.5" transform="rotate(-40 277.3 106.2)"/>
<circle cx="260" cy="118.6" r="4.5" fill="none" stroke="#1a7fd0" stroke-width="1.2"/>
<rect x="254.2" y="114" width="5" height="2.7" rx="1.2" fill="#9020a0" stroke="#111" stroke-width="0.5" transform="rotate(-40 256.7 115.3)"/>
<circle cx="273.6" cy="120" r="4.5" fill="none" stroke="#1a7fd0" stroke-width="1.2"/>
<rect x="267.8" y="115.4" width="5" height="2.7" rx="1.2" fill="#f09020" stroke="#111" stroke-width="0.5" transform="rotate(-40 270.3 116.7)"/>
<line x1="300" y1="107.4" x2="316.8" y2="107.4" stroke="#111" stroke-width="0.9"/><path d="M320 107.4L316.8 109L316.8 105.8Z" fill="#111"/>
<text x="290.4" y="119.4" font-size="9.7" text-anchor="start" fill="#2bb5ec">MOI~20%</text>
<text x="273.7" y="135" font-size="9.7" text-anchor="middle" fill="#222">Lentiviral</text>
<text x="273.7" y="146.4" font-size="9.7" text-anchor="middle" fill="#222">library</text>
<text x="350.5" y="57" font-size="9.7" text-anchor="middle" fill="#222">Lentiviral</text>
<text x="350.5" y="68.4" font-size="9.7" text-anchor="middle" fill="#222">delivery</text>
<circle cx="365.2" cy="79.6" r="4.6" fill="#fff" stroke="#222" stroke-width="0.7"/>
<text x="365.2" y="82.1" font-size="7" text-anchor="middle" fill="#222">2</text>
<circle cx="334.9" cy="89.7" r="4" fill="url(#gCell)" stroke="#444" stroke-width="0.5"/>
<ellipse cx="334.7" cy="89.7" rx="1.8" ry="2.4" fill="#1850a0" transform="rotate(-20 334.9 89.7)"/>
<circle cx="345.4" cy="85.3" r="4" fill="url(#gCell)" stroke="#444" stroke-width="0.5"/>
<ellipse cx="345.2" cy="85.3" rx="1.8" ry="2.4" fill="#203090" transform="rotate(-20 345.4 85.3)"/>
<circle cx="356.1" cy="91.3" r="4" fill="url(#gCell)" stroke="#444" stroke-width="0.5"/>
<ellipse cx="355.9" cy="91.3" rx="1.8" ry="2.4" fill="#8a5a2a" transform="rotate(-20 356.1 91.3)"/>
<circle cx="345" cy="96.4" r="4" fill="url(#gCell)" stroke="#444" stroke-width="0.5"/>
<ellipse cx="344.8" cy="96.4" rx="1.8" ry="2.4" fill="#106a30" transform="rotate(-20 345 96.4)"/>
<circle cx="354.9" cy="102.7" r="4" fill="url(#gCell)" stroke="#444" stroke-width="0.5"/>
<ellipse cx="354.7" cy="102.7" rx="1.8" ry="2.4" fill="#c07818" transform="rotate(-20 354.9 102.7)"/>
<circle cx="343.4" cy="107.1" r="4" fill="url(#gCell)" stroke="#444" stroke-width="0.5"/>
<ellipse cx="343.2" cy="107.1" rx="1.8" ry="2.4" fill="#6a1a7a" transform="rotate(-20 343.4 107.1)"/>
<path d="M341.3 117.2L341.3 120.4A17.8 1.6 0 0 0 376.9 120.4L376.9 117.2Z" fill="#d81f2c" stroke="#8a1a20" stroke-width="0.4"/>
<ellipse cx="359.1" cy="116.6" rx="17.8" ry="1.7" fill="#f6f6f6" stroke="#999" stroke-width="0.5"/>
<line x1="370" y1="109.4" x2="386.8" y2="109.4" stroke="#111" stroke-width="0.9"/><path d="M390 109.4L386.8 111L386.8 107.8Z" fill="#111"/>
<text x="359.5" y="135" font-size="9.7" text-anchor="middle" fill="#222">MOLM-13</text>
<text x="357.5" y="147" font-size="9.7" text-anchor="middle" fill="#222">Cas9<tspan font-size="5.5" dy="-4">+</tspan></text>
<text x="394.4" y="110" font-size="9.7" text-anchor="start" fill="#2bb5ec">BFP<tspan font-size="5.5" dy="-4">+</tspan></text>
<text x="405.2" y="121" font-size="9.7" text-anchor="middle" fill="#2bb5ec">sort</text>
<line x1="417" y1="111" x2="434.3" y2="111" stroke="#111" stroke-width="0.9"/><path d="M437.5 111L434.3 112.6L434.3 109.4Z" fill="#111"/>
<circle cx="447.2" cy="48" r="4.6" fill="#fff" stroke="#222" stroke-width="0.7"/>
<text x="447.2" y="50.5" font-size="7" text-anchor="middle" fill="#222">3</text>
<text x="462.3" y="64.4" font-size="9.7" text-anchor="middle" fill="#222">Cells</text>
<text x="463.2" y="76" font-size="9.7" text-anchor="middle" fill="#222">n=43,700</text>
<text x="486" y="80.6" font-size="9.7" text-anchor="start" fill="#222">Oil</text>
<text x="437" y="90.6" font-size="9.7" text-anchor="middle" fill="#222">Barcode</text>
<text x="437" y="102" font-size="9.7" text-anchor="middle" fill="#222">Beads</text>
<rect x="460.5" y="82.2" width="10.3" height="55.5" fill="#b9b9b9" stroke="#6a6a6a" stroke-width="0.6"/>
<rect x="488.3" y="82.2" width="10.2" height="55.5" fill="#8f8f8f" stroke="#666" stroke-width="0.6"/>
<rect x="438.6" y="104.8" width="82.5" height="10.5" fill="#dcdcdc" stroke="#777" stroke-width="0.6"/>
<rect x="498.5" y="105.1" width="22.5" height="9.9" fill="#8f8f8f"/>
<rect x="438.9" y="107.8" width="59" height="4.5" fill="#ececec"/>
<rect x="461" y="104.6" width="9.3" height="0.8" fill="#dcdcdc"/><rect x="461" y="114.8" width="9.3" height="0.8" fill="#dcdcdc"/>
<rect x="488.8" y="104.6" width="9.2" height="0.8" fill="#bdbdbd"/><rect x="488.8" y="114.8" width="9.2" height="0.8" fill="#bdbdbd"/>
<circle cx="442.3" cy="110" r="1.2" fill="#e8e8e8" stroke="#888" stroke-width="0.4"/>
<circle cx="451" cy="110" r="1.2" fill="#e8e8e8" stroke="#888" stroke-width="0.4"/>
<circle cx="465.7" cy="110" r="1.2" fill="#e8e8e8" stroke="#888" stroke-width="0.4"/>
<circle cx="491.2" cy="110" r="1.2" fill="#e8e8e8" stroke="#888" stroke-width="0.4"/>
<circle cx="506.5" cy="110" r="3.8" fill="#e6e6e6" stroke="#999" stroke-width="0.4"/>
<circle cx="516" cy="110" r="3.8" fill="#e6e6e6" stroke="#999" stroke-width="0.4"/>
<circle cx="516" cy="110" r="1.1" fill="#ccc" stroke="#888" stroke-width="0.3"/>
<circle cx="525.5" cy="110" r="4.5" fill="#eee" stroke="#777" stroke-width="0.5"/>
<circle cx="524.6" cy="109.5" r="1.7" fill="#e83030"/><circle cx="527.2" cy="110.5" r="1.1" fill="#ddd" stroke="#888" stroke-width="0.3"/>
<ellipse cx="465.7" cy="86.6" rx="1.9" ry="1.6" fill="#c8a070" stroke="#666" stroke-width="0.3"/>
<ellipse cx="465" cy="97.5" rx="1.9" ry="1.6" fill="#f0a030" stroke="#666" stroke-width="0.3"/>
<ellipse cx="467.1" cy="119.1" rx="1.9" ry="1.6" fill="#a040b0" stroke="#666" stroke-width="0.3"/>
<ellipse cx="465" cy="130.4" rx="1.9" ry="1.6" fill="#30a050" stroke="#666" stroke-width="0.3"/>
<ellipse cx="482" cy="107" rx="1.9" ry="1.6" fill="#4060c0" stroke="#666" stroke-width="0.3"/>
<path d="M472.2 83L472.2 100Q472.2 102.6 475 102.6L479 102.6" fill="none" stroke="#333" stroke-width="0.5"/>
<path d="M472.2 137L472.2 119Q472.2 116.5 475 116.5L478.5 116.5" fill="none" stroke="#333" stroke-width="0.5"/>
<text x="467.7" y="150" font-size="9.7" text-anchor="middle" fill="#222">Droplet formation</text>
<line x1="534.4" y1="111.4" x2="551.2" y2="111.4" stroke="#111" stroke-width="0.9"/><path d="M554.4 111.4L551.2 113L551.2 109.8Z" fill="#111"/>
<circle cx="564" cy="97.4" r="4.6" fill="#fff" stroke="#222" stroke-width="0.7"/>
<text x="564" y="99.9" font-size="7" text-anchor="middle" fill="#222">4</text>
<circle cx="564.5" cy="111.4" r="3.6" fill="#d4d4d4" stroke="#999" stroke-width="0.5"/>
<line x1="575.6" y1="111.4" x2="591.8" y2="111.4" stroke="#111" stroke-width="0.9"/><path d="M595 111.4L591.8 113L591.8 109.8Z" fill="#111"/>
<line x1="597" y1="111.4" x2="613.2" y2="111.4" stroke="#111" stroke-width="0.9"/><path d="M616.4 111.4L613.2 113L613.2 109.8Z" fill="#111"/>
<text x="592.8" y="107" font-size="9.7" text-anchor="middle" fill="#222">cDNA</text>
<text x="542" y="128" font-size="9.7" text-anchor="start" fill="#222">Reverse</text>
<text x="542" y="139.4" font-size="9.7" text-anchor="start" fill="#222">transcription</text>
<path d="M624 102.2L624.5 102L625 101.9L625.5 101.8L626 101.8L626.5 101.8L627 101.9L627.5 102.1L628 102.2L628.6 102.5L629.1 102.7L629.6 103L630.1 103.4L630.6 103.7L631.1 104L631.6 104.4L632.1 104.7L632.6 105L633.1 105.2L633.6 105.4L634.1 105.6L634.6 105.7L635.1 105.8L635.6 105.8L636.2 105.8L636.7 105.7L637.2 105.5L637.7 105.3L638.2 105.1L638.7 104.8L639.2 104.5L639.7 104.2L640.2 103.8" fill="none" stroke="#2e8c5a" stroke-width="5"/>
<path d="M640.2 102.2L640.7 102L641.2 101.9L641.7 101.8L642.2 101.8L642.7 101.8L643.3 101.9L643.8 102.1L644.3 102.3L644.8 102.5L645.3 102.8L645.8 103.1L646.3 103.4L646.8 103.7L647.3 104.1L647.8 104.4L648.4 104.7L648.9 105L649.4 105.2L649.9 105.5L650.4 105.6L650.9 105.7L651.4 105.8L651.9 105.8L652.4 105.7L652.9 105.6L653.5 105.5L654 105.3L654.5 105L655 104.7L655.5 104.4L656 104.1" fill="none" stroke="#c4c4c4" stroke-width="5"/>
<path d="M624 100.2L624.5 100.2L625 100.2L625.5 100.3L626 100.4L626.5 100.6L627 100.8L627.5 101L628 101.3L628.5 101.6L629 102L629.5 102.3L630 102.6L630.5 102.9L631 103.2L631.5 103.5L632 103.7L632.5 103.9L633 104.1L633.5 104.2L634 104.2L634.5 104.2L635 104.1L635.5 104L636 103.8L636.5 103.6L637 103.4L637.5 103.1L638 102.8L638.5 102.4L639 102.1L639.5 101.8L640 101.5L640.5 101.2L641 100.9L641.5 100.7L642 100.5L642.5 100.3L643 100.2L643.5 100.2L644 100.2L644.5 100.3L645 100.4L645.5 100.6L646 100.8L646.5 101L647 101.3L647.5 101.6L648 102L648.5 102.3L649 102.6L649.5 102.9L650 103.2L650.5 103.5L651 103.7L651.5 103.9L652 104.1L652.5 104.2L653 104.2L653.5 104.2L654 104.1L654.5 104L655 103.8L655.5 103.6L656 103.4" fill="none" stroke="#fff" stroke-width="0.45" opacity="0.6"/>
<path d="M624 101.8L624.5 101.8L625 101.8L625.5 101.9L626 102L626.5 102.2L627 102.4L627.5 102.6L628 102.9L628.5 103.2L629 103.6L629.5 103.9L630 104.2L630.5 104.5L631 104.8L631.5 105.1L632 105.3L632.5 105.5L633 105.7L633.5 105.8L634 105.8L634.5 105.8L635 105.7L635.5 105.6L636 105.4L636.5 105.2L637 105L637.5 104.7L638 104.4L638.5 104L639 103.7L639.5 103.4L640 103.1L640.5 102.8L641 102.5L641.5 102.3L642 102.1L642.5 101.9L643 101.8L643.5 101.8L644 101.8L644.5 101.9L645 102L645.5 102.2L646 102.4L646.5 102.6L647 102.9L647.5 103.2L648 103.6L648.5 103.9L649 104.2L649.5 104.5L650 104.8L650.5 105.1L651 105.3L651.5 105.5L652 105.7L652.5 105.8L653 105.8L653.5 105.8L654 105.7L654.5 105.6L655 105.4L655.5 105.2L656 105" fill="none" stroke="#fff" stroke-width="0.45" opacity="0.6"/>
<path d="M624 103.4L624.5 103.4L625 103.4L625.5 103.5L626 103.6L626.5 103.8L627 104L627.5 104.2L628 104.5L628.5 104.8L629 105.2L629.5 105.5L630 105.8L630.5 106.1L631 106.4L631.5 106.7L632 106.9L632.5 107.1L633 107.3L633.5 107.4L634 107.4L634.5 107.4L635 107.3L635.5 107.2L636 107L636.5 106.8L637 106.6L637.5 106.3L638 106L638.5 105.6L639 105.3L639.5 105L640 104.7L640.5 104.4L641 104.1L641.5 103.9L642 103.7L642.5 103.5L643 103.4L643.5 103.4L644 103.4L644.5 103.5L645 103.6L645.5 103.8L646 104L646.5 104.2L647 104.5L647.5 104.8L648 105.2L648.5 105.5L649 105.8L649.5 106.1L650 106.4L650.5 106.7L651 106.9L651.5 107.1L652 107.3L652.5 107.4L653 107.4L653.5 107.4L654 107.3L654.5 107.2L655 107L655.5 106.8L656 106.6" fill="none" stroke="#fff" stroke-width="0.45" opacity="0.6"/>
<path d="M624 113.1L624.5 112.9L625 112.8L625.5 112.7L626 112.7L626.5 112.7L627 112.8L627.5 113L628 113.1L628.6 113.4L629.1 113.6L629.6 113.9L630.1 114.3L630.6 114.6L631.1 114.9L631.6 115.3L632.1 115.6L632.6 115.9L633.1 116.1L633.6 116.3L634.1 116.5L634.6 116.6L635.1 116.7L635.6 116.7L636.2 116.7L636.7 116.6L637.2 116.4L637.7 116.2L638.2 116L638.7 115.7L639.2 115.4L639.7 115.1L640.2 114.7" fill="none" stroke="#cf4d5a" stroke-width="5"/>
<path d="M640.2 113.1L640.7 112.9L641.2 112.8L641.7 112.7L642.2 112.7L642.7 112.7L643.3 112.8L643.8 113L644.3 113.2L644.8 113.4L645.3 113.7L645.8 114L646.3 114.3L646.8 114.6L647.3 115L647.8 115.3L648.4 115.6L648.9 115.9L649.4 116.1L649.9 116.4L650.4 116.5L650.9 116.6L651.4 116.7L651.9 116.7L652.4 116.6L652.9 116.5L653.5 116.4L654 116.2L654.5 115.9L655 115.6L655.5 115.3L656 115" fill="none" stroke="#c4c4c4" stroke-width="5"/>
<path d="M624 111.1L624.5 111.1L625 111.1L625.5 111.2L626 111.3L626.5 111.5L627 111.7L627.5 111.9L628 112.2L628.5 112.5L629 112.9L629.5 113.2L630 113.5L630.5 113.8L631 114.1L631.5 114.4L632 114.6L632.5 114.8L633 115L633.5 115.1L634 115.1L634.5 115.1L635 115L635.5 114.9L636 114.7L636.5 114.5L637 114.3L637.5 114L638 113.7L638.5 113.3L639 113L639.5 112.7L640 112.4L640.5 112.1L641 111.8L641.5 111.6L642 111.4L642.5 111.2L643 111.1L643.5 111.1L644 111.1L644.5 111.2L645 111.3L645.5 111.5L646 111.7L646.5 111.9L647 112.2L647.5 112.5L648 112.9L648.5 113.2L649 113.5L649.5 113.8L650 114.1L650.5 114.4L651 114.6L651.5 114.8L652 115L652.5 115.1L653 115.1L653.5 115.1L654 115L654.5 114.9L655 114.7L655.5 114.5L656 114.3" fill="none" stroke="#fff" stroke-width="0.45" opacity="0.6"/>
<path d="M624 112.7L624.5 112.7L625 112.7L625.5 112.8L626 112.9L626.5 113.1L627 113.3L627.5 113.5L628 113.8L628.5 114.1L629 114.5L629.5 114.8L630 115.1L630.5 115.4L631 115.7L631.5 116L632 116.2L632.5 116.4L633 116.6L633.5 116.7L634 116.7L634.5 116.7L635 116.6L635.5 116.5L636 116.3L636.5 116.1L637 115.9L637.5 115.6L638 115.3L638.5 114.9L639 114.6L639.5 114.3L640 114L640.5 113.7L641 113.4L641.5 113.2L642 113L642.5 112.8L643 112.7L643.5 112.7L644 112.7L644.5 112.8L645 112.9L645.5 113.1L646 113.3L646.5 113.5L647 113.8L647.5 114.1L648 114.5L648.5 114.8L649 115.1L649.5 115.4L650 115.7L650.5 116L651 116.2L651.5 116.4L652 116.6L652.5 116.7L653 116.7L653.5 116.7L654 116.6L654.5 116.5L655 116.3L655.5 116.1L656 115.9" fill="none" stroke="#fff" stroke-width="0.45" opacity="0.6"/>
<path d="M624 114.3L624.5 114.3L625 114.3L625.5 114.4L626 114.5L626.5 114.7L627 114.9L627.5 115.1L628 115.4L628.5 115.7L629 116.1L629.5 116.4L630 116.7L630.5 117L631 117.3L631.5 117.6L632 117.8L632.5 118L633 118.2L633.5 118.3L634 118.3L634.5 118.3L635 118.2L635.5 118.1L636 117.9L636.5 117.7L637 117.5L637.5 117.2L638 116.9L638.5 116.5L639 116.2L639.5 115.9L640 115.6L640.5 115.3L641 115L641.5 114.8L642 114.6L642.5 114.4L643 114.3L643.5 114.3L644 114.3L644.5 114.4L645 114.5L645.5 114.7L646 114.9L646.5 115.1L647 115.4L647.5 115.7L648 116.1L648.5 116.4L649 116.7L649.5 117L650 117.3L650.5 117.6L651 117.8L651.5 118L652 118.2L652.5 118.3L653 118.3L653.5 118.3L654 118.2L654.5 118.1L655 117.9L655.5 117.7L656 117.5" fill="none" stroke="#fff" stroke-width="0.45" opacity="0.6"/>
<path d="M624 124.8L624.5 124.6L625 124.5L625.5 124.4L626 124.4L626.5 124.4L627 124.5L627.5 124.7L628 124.8L628.6 125.1L629.1 125.3L629.6 125.6L630.1 126L630.6 126.3L631.1 126.6L631.6 127L632.1 127.3L632.6 127.6L633.1 127.8L633.6 128L634.1 128.2L634.6 128.3L635.1 128.4L635.6 128.4L636.2 128.4L636.7 128.3L637.2 128.1L637.7 127.9L638.2 127.7L638.7 127.4L639.2 127.1L639.7 126.8L640.2 126.4" fill="none" stroke="#f4b54c" stroke-width="5"/>
<path d="M640.2 124.8L640.7 124.6L641.2 124.5L641.7 124.4L642.2 124.4L642.7 124.4L643.3 124.5L643.8 124.7L644.3 124.9L644.8 125.1L645.3 125.4L645.8 125.7L646.3 126L646.8 126.3L647.3 126.7L647.8 127L648.4 127.3L648.9 127.6L649.4 127.8L649.9 128.1L650.4 128.2L650.9 128.3L651.4 128.4L651.9 128.4L652.4 128.3L652.9 128.2L653.5 128.1L654 127.9L654.5 127.6L655 127.3L655.5 127L656 126.7" fill="none" stroke="#c4c4c4" stroke-width="5"/>
<path d="M624 122.8L624.5 122.8L625 122.8L625.5 122.9L626 123L626.5 123.2L627 123.4L627.5 123.6L628 123.9L628.5 124.2L629 124.6L629.5 124.9L630 125.2L630.5 125.5L631 125.8L631.5 126.1L632 126.3L632.5 126.5L633 126.7L633.5 126.8L634 126.8L634.5 126.8L635 126.7L635.5 126.6L636 126.4L636.5 126.2L637 126L637.5 125.7L638 125.4L638.5 125L639 124.7L639.5 124.4L640 124.1L640.5 123.8L641 123.5L641.5 123.3L642 123.1L642.5 122.9L643 122.8L643.5 122.8L644 122.8L644.5 122.9L645 123L645.5 123.2L646 123.4L646.5 123.6L647 123.9L647.5 124.2L648 124.6L648.5 124.9L649 125.2L649.5 125.5L650 125.8L650.5 126.1L651 126.3L651.5 126.5L652 126.7L652.5 126.8L653 126.8L653.5 126.8L654 126.7L654.5 126.6L655 126.4L655.5 126.2L656 126" fill="none" stroke="#fff" stroke-width="0.45" opacity="0.6"/>
<path d="M624 124.4L624.5 124.4L625 124.4L625.5 124.5L626 124.6L626.5 124.8L627 125L627.5 125.2L628 125.5L628.5 125.8L629 126.2L629.5 126.5L630 126.8L630.5 127.1L631 127.4L631.5 127.7L632 127.9L632.5 128.1L633 128.3L633.5 128.4L634 128.4L634.5 128.4L635 128.3L635.5 128.2L636 128L636.5 127.8L637 127.6L637.5 127.3L638 127L638.5 126.6L639 126.3L639.5 126L640 125.7L640.5 125.4L641 125.1L641.5 124.9L642 124.7L642.5 124.5L643 124.4L643.5 124.4L644 124.4L644.5 124.5L645 124.6L645.5 124.8L646 125L646.5 125.2L647 125.5L647.5 125.8L648 126.2L648.5 126.5L649 126.8L649.5 127.1L650 127.4L650.5 127.7L651 127.9L651.5 128.1L652 128.3L652.5 128.4L653 128.4L653.5 128.4L654 128.3L654.5 128.2L655 128L655.5 127.8L656 127.6" fill="none" stroke="#fff" stroke-width="0.45" opacity="0.6"/>
<path d="M624 126L624.5 126L625 126L625.5 126.1L626 126.2L626.5 126.4L627 126.6L627.5 126.8L628 127.1L628.5 127.4L629 127.8L629.5 128.1L630 128.4L630.5 128.7L631 129L631.5 129.3L632 129.5L632.5 129.7L633 129.9L633.5 130L634 130L634.5 130L635 129.9L635.5 129.8L636 129.6L636.5 129.4L637 129.2L637.5 128.9L638 128.6L638.5 128.2L639 127.9L639.5 127.6L640 127.3L640.5 127L641 126.7L641.5 126.5L642 126.3L642.5 126.1L643 126L643.5 126L644 126L644.5 126.1L645 126.2L645.5 126.4L646 126.6L646.5 126.8L647 127.1L647.5 127.4L648 127.8L648.5 128.1L649 128.4L649.5 128.7L650 129L650.5 129.3L651 129.5L651.5 129.7L652 129.9L652.5 130L653 130L653.5 130L654 129.9L654.5 129.8L655 129.6L655.5 129.4L656 129.2" fill="none" stroke="#fff" stroke-width="0.45" opacity="0.6"/>
<circle cx="614.8" cy="77.4" r="4.6" fill="#fff" stroke="#222" stroke-width="0.7"/>
<text x="614.8" y="79.9" font-size="7" text-anchor="middle" fill="#222">5</text>
<text x="633.5" y="90.5" font-size="9.7" text-anchor="middle" fill="#222">Library construction</text>
<path d="M615.5 71Q614 58 623 55" fill="none" stroke="#222" stroke-width="0.8"/>
<path d="M626 54.2L621.6 53.6L623.2 57.2Z" fill="#222"/>
<rect x="630" y="49.8" width="35.3" height="23.7" fill="#e4e4e4" stroke="#aaa" stroke-width="0.5"/>
<rect x="631" y="51" width="16" height="7.5" fill="#bfe0f0" stroke="#777" stroke-width="0.4"/>
<rect x="647.5" y="49.8" width="2.4" height="23.7" fill="#5a5250"/>
<rect x="649.9" y="58.2" width="10" height="1.3" fill="#5a5250"/>
<rect x="631" y="60.6" width="3" height="0.8" fill="#444"/>
<line x1="631" y1="65" x2="646.5" y2="65" stroke="#bbb" stroke-width="0.4"/>
<text x="633" y="55.7" font-size="2.8" text-anchor="start" fill="#345">CMOO38</text>
<circle cx="619.8" cy="26.5" r="4.6" fill="#fff" stroke="#222" stroke-width="0.7"/>
<text x="619.8" y="29" font-size="7" text-anchor="middle" fill="#222">6</text>
<text x="611.4" y="43.4" font-size="9.7" text-anchor="start" fill="#222">NGS sequencing</text>
<path d="M28 356L174.6 212.4L174.6 356Z" fill="#e3f0e8"/>
<line x1="28" y1="356" x2="174.6" y2="212.4" stroke="#333" stroke-width="0.7" stroke-dasharray="1.4 1.4"/>
<rect x="28" y="212.4" width="146.6" height="143.6" fill="none" stroke="#555" stroke-width="0.9"/>
<line x1="26" y1="218.9" x2="28" y2="218.9" stroke="#555" stroke-width="0.7"/>
<text x="25" y="222.4" font-size="9.7" text-anchor="end" fill="#222">2</text>
<line x1="26" y1="262.4" x2="28" y2="262.4" stroke="#555" stroke-width="0.7"/>
<text x="25" y="265.9" font-size="9.7" text-anchor="end" fill="#222">0</text>
<line x1="26" y1="305.9" x2="28" y2="305.9" stroke="#555" stroke-width="0.7"/>
<text x="25" y="309.4" font-size="9.7" text-anchor="end" fill="#222">-2</text>
<line x1="26" y1="349.4" x2="28" y2="349.4" stroke="#555" stroke-width="0.7"/>
<text x="25" y="352.9" font-size="9.7" text-anchor="end" fill="#222">-4</text>
<line x1="33.6" y1="356" x2="33.6" y2="358" stroke="#555" stroke-width="0.7"/>
<text x="33.6" y="365.2" font-size="9.7" text-anchor="middle" fill="#222">-4</text>
<line x1="78.8" y1="356" x2="78.8" y2="358" stroke="#555" stroke-width="0.7"/>
<text x="78.8" y="365.2" font-size="9.7" text-anchor="middle" fill="#222">-2</text>
<line x1="124" y1="356" x2="124" y2="358" stroke="#555" stroke-width="0.7"/>
<text x="124" y="365.2" font-size="9.7" text-anchor="middle" fill="#222">0</text>
<line x1="169.2" y1="356" x2="169.2" y2="358" stroke="#555" stroke-width="0.7"/>
<text x="169.2" y="365.2" font-size="9.7" text-anchor="middle" fill="#222">2</text>
<text x="105.5" y="378" font-size="9.7" text-anchor="middle" fill="#222">Log<tspan font-size="6.5" dy="2.5">2</tspan><tspan dy="-2.5">(Control)</tspan></text>
<g transform="translate(10.5 278) rotate(-90)"><text x="0" y="0" font-size="9.7" text-anchor="middle" fill="#222">Log<tspan font-size="6.5" dy="2.5">2</tspan><tspan dy="-2.5">(Perturbation)</tspan></text></g>
<line x1="107" y1="259" x2="113.4" y2="265.6" stroke="#222" stroke-width="0.55"/>
<line x1="95.6" y1="289.6" x2="130" y2="278.5" stroke="#222" stroke-width="0.55"/>
<line x1="99.4" y1="292" x2="130" y2="287.5" stroke="#222" stroke-width="0.55"/>
<line x1="90" y1="297.4" x2="130" y2="295" stroke="#222" stroke-width="0.55"/>
<line x1="90.4" y1="300" x2="130" y2="303.5" stroke="#222" stroke-width="0.55"/>
<line x1="82" y1="308.6" x2="120.5" y2="310.5" stroke="#222" stroke-width="0.55"/>
<line x1="82" y1="308.6" x2="98.5" y2="314.5" stroke="#222" stroke-width="0.55"/>
<line x1="92.4" y1="318" x2="118.5" y2="328" stroke="#222" stroke-width="0.55"/>
<line x1="68" y1="298.5" x2="74.4" y2="306.6" stroke="#222" stroke-width="0.55"/>
<line x1="66" y1="311.5" x2="73.5" y2="308.6" stroke="#222" stroke-width="0.55"/>
<line x1="71" y1="325.6" x2="79" y2="329" stroke="#222" stroke-width="0.55"/>
<line x1="66.6" y1="330" x2="80" y2="337.5" stroke="#222" stroke-width="0.55"/>
<line x1="71.4" y1="342.2" x2="77" y2="349" stroke="#222" stroke-width="0.55"/>
<circle cx="148.6" cy="242.6" r="1.75" fill="#1010ee"/>
<circle cx="138.6" cy="258" r="1.75" fill="#1010ee"/>
<circle cx="123.4" cy="267.4" r="1.75" fill="#1010ee"/>
<circle cx="113.4" cy="265.6" r="1.75" fill="#1010ee"/>
<circle cx="95.6" cy="289.6" r="1.75" fill="#1010ee"/>
<circle cx="99.4" cy="292" r="1.75" fill="#1010ee"/>
<circle cx="90" cy="297.4" r="1.75" fill="#1010ee"/>
<circle cx="90.4" cy="300" r="1.75" fill="#1010ee"/>
<circle cx="74.4" cy="306.6" r="1.75" fill="#1010ee"/>
<circle cx="75.4" cy="307.8" r="1.75" fill="#1010ee"/>
<circle cx="82" cy="308.6" r="1.75" fill="#1010ee"/>
<circle cx="92.4" cy="318" r="1.75" fill="#1010ee"/>
<circle cx="71" cy="325.6" r="1.75" fill="#1010ee"/>
<circle cx="66.6" cy="330" r="1.75" fill="#1010ee"/>
<circle cx="71.4" cy="342.2" r="1.75" fill="#1010ee"/>
<text x="145" y="251" font-size="8.7" text-anchor="start" fill="#222" font-style="italic">KAT6A</text>
<text x="141" y="261" font-size="8.7" text-anchor="start" fill="#222" font-style="italic">SUZ12</text>
<text x="125.6" y="270.4" font-size="8.7" text-anchor="start" fill="#222" font-style="italic">EZH2</text>
<text x="90.4" y="257.6" font-size="8.7" text-anchor="start" fill="#222" font-style="italic">BCOR</text>
<text x="130" y="280.4" font-size="8.7" text-anchor="start" fill="#222" font-style="italic">JADE1</text>
<text x="130" y="289.6" font-size="8.7" text-anchor="start" fill="#222" font-style="italic">ING5</text>
<text x="130" y="297" font-size="8.7" text-anchor="start" fill="#222" font-style="italic">KAT7</text>
<text x="130" y="305.4" font-size="8.7" text-anchor="start" fill="#222" font-style="italic">DOT1L</text>
<text x="121" y="313" font-size="8.7" text-anchor="start" fill="#222" font-style="italic">RING1</text>
<text x="99" y="317" font-size="8.7" text-anchor="start" fill="#222" font-style="italic">EED</text>
<text x="119" y="331.6" font-size="8.7" text-anchor="start" fill="#222" font-style="italic">PSIP1</text>
<text x="48" y="300.4" font-size="8.7" text-anchor="start" fill="#222" font-style="italic">ING4</text>
<text x="39.6" y="314" font-size="8.7" text-anchor="start" fill="#222" font-style="italic">JADE2</text>
<text x="79" y="331.6" font-size="8.7" text-anchor="start" fill="#222" font-style="italic">JADE3</text>
<text x="80" y="340.4" font-size="8.7" text-anchor="start" fill="#222" font-style="italic">PCGF1</text>
<text x="77" y="351.6" font-size="8.7" text-anchor="start" fill="#222" font-style="italic">MEN1</text>
<rect x="238.6" y="243.6" width="220.4" height="104.4" fill="#fff"/>
<line x1="238.6" y1="248" x2="459" y2="248" stroke="#dcdcdc" stroke-width="0.8"/>
<line x1="238.6" y1="271.8" x2="459" y2="271.8" stroke="#dcdcdc" stroke-width="0.8"/>
<line x1="238.6" y1="319.4" x2="459" y2="319.4" stroke="#dcdcdc" stroke-width="0.8"/>
<line x1="238.6" y1="343.2" x2="459" y2="343.2" stroke="#dcdcdc" stroke-width="0.8"/>
<line x1="259.6" y1="243.6" x2="259.6" y2="348" stroke="#dcdcdc" stroke-width="0.8"/>
<line x1="295.2" y1="243.6" x2="295.2" y2="348" stroke="#dcdcdc" stroke-width="0.8"/>
<line x1="330.8" y1="243.6" x2="330.8" y2="348" stroke="#dcdcdc" stroke-width="0.8"/>
<line x1="366.4" y1="243.6" x2="366.4" y2="348" stroke="#dcdcdc" stroke-width="0.8"/>
<line x1="402" y1="243.6" x2="402" y2="348" stroke="#dcdcdc" stroke-width="0.8"/>
<line x1="437.6" y1="243.6" x2="437.6" y2="348" stroke="#dcdcdc" stroke-width="0.8"/>
<line x1="238.6" y1="295.6" x2="459" y2="295.6" stroke="#555" stroke-width="0.8" stroke-dasharray="2.2 1.6"/>
<rect x="238.6" y="243.6" width="220.4" height="104.4" fill="none" stroke="#444" stroke-width="1"/>
<line x1="236.6" y1="248" x2="238.6" y2="248" stroke="#444" stroke-width="0.7"/>
<text x="235.6" y="251.4" font-size="9.5" text-anchor="end" fill="#222">4</text>
<line x1="236.6" y1="271.8" x2="238.6" y2="271.8" stroke="#444" stroke-width="0.7"/>
<text x="235.6" y="275.2" font-size="9.5" text-anchor="end" fill="#222">2</text>
<line x1="236.6" y1="295.6" x2="238.6" y2="295.6" stroke="#444" stroke-width="0.7"/>
<text x="235.6" y="299" font-size="9.5" text-anchor="end" fill="#222">0</text>
<line x1="236.6" y1="319.4" x2="238.6" y2="319.4" stroke="#444" stroke-width="0.7"/>
<text x="235.6" y="322.8" font-size="9.5" text-anchor="end" fill="#222">−2</text>
<line x1="236.6" y1="343.2" x2="238.6" y2="343.2" stroke="#444" stroke-width="0.7"/>
<text x="235.6" y="346.6" font-size="9.5" text-anchor="end" fill="#222">−4</text>
<circle cx="259.6" cy="270" r="6.0" fill="#c75a48" stroke="#1a1a1a" stroke-width="0.8"/>
<circle cx="295.2" cy="266.4" r="7.6" fill="#b03f30" stroke="#1a1a1a" stroke-width="0.8"/>
<circle cx="330.8" cy="276.4" r="6.4" fill="#d98a7c" stroke="#1a1a1a" stroke-width="0.8"/>
<circle cx="366.4" cy="265" r="7.6" fill="#ad3a2d" stroke="#1a1a1a" stroke-width="0.8"/>
<circle cx="402" cy="258.6" r="7.6" fill="#8b0000" stroke="#1a1a1a" stroke-width="0.8"/>
<circle cx="437.6" cy="271" r="7.6" fill="#c25a4a" stroke="#1a1a1a" stroke-width="0.8"/>
<circle cx="259.6" cy="326" r="6.5" fill="#3e7f34" stroke="#1a1a1a" stroke-width="0.8"/>
<circle cx="295.2" cy="304" r="4.5" fill="#cfe3c8" stroke="#1a1a1a" stroke-width="0.8"/>
<circle cx="330.8" cy="316.6" r="6.2" fill="#84b274" stroke="#1a1a1a" stroke-width="0.8"/>
<circle cx="366.4" cy="315" r="6.6" fill="#8ab67c" stroke="#1a1a1a" stroke-width="0.8"/>
<circle cx="402" cy="314" r="6.2" fill="#92bb84" stroke="#1a1a1a" stroke-width="0.8"/>
<circle cx="437.6" cy="307" r="5.2" fill="#bcd9b2" stroke="#1a1a1a" stroke-width="0.8"/>
<text x="264.1" y="355" font-size="9.5" text-anchor="end" font-style="italic" fill="#222" transform="rotate(-45 264.1 355)">BCOR</text>
<text x="299.7" y="355" font-size="9.5" text-anchor="end" font-style="italic" fill="#222" transform="rotate(-45 299.7 355)">DOT1L</text>
<text x="335.3" y="355" font-size="9.5" text-anchor="end" font-style="italic" fill="#222" transform="rotate(-45 335.3 355)">KAT6A</text>
<text x="370.9" y="355" font-size="9.5" text-anchor="end" font-style="italic" fill="#222" transform="rotate(-45 370.9 355)">KAT7</text>
<text x="406.5" y="355" font-size="9.5" text-anchor="end" font-style="italic" fill="#222" transform="rotate(-45 406.5 355)">MEN1</text>
<text x="442.1" y="355" font-size="9.5" text-anchor="end" font-style="italic" fill="#222" transform="rotate(-45 442.1 355)">PCGF1</text>
<g transform="translate(219.5 292.5) rotate(-90)"><text x="0" y="0" font-size="9.7" text-anchor="middle" fill="#222">Normalized Enrichment Score</text></g>
<text x="242" y="205.6" font-size="9.5" text-anchor="start" fill="#222">−log10(FDR)</text>
<circle cx="250" cy="232.2" r="8" fill="#fff" stroke="#111" stroke-width="0.9"/>
<text x="250" y="221" font-size="9.5" text-anchor="middle" fill="#222">2.5</text>
<circle cx="270.4" cy="232.2" r="8.4" fill="#fff" stroke="#111" stroke-width="0.9"/>
<text x="270.4" y="221" font-size="9.5" text-anchor="middle" fill="#222">5</text>
<circle cx="291.8" cy="232.2" r="9" fill="#fff" stroke="#111" stroke-width="0.9"/>
<text x="291.8" y="221" font-size="9.5" text-anchor="middle" fill="#222">7.5</text>
<circle cx="315" cy="232.2" r="10" fill="#fff" stroke="#111" stroke-width="0.9"/>
<text x="315" y="221" font-size="9.5" text-anchor="middle" fill="#222">10</text>
<text x="351.6" y="209" font-size="9.7" text-anchor="start" fill="#222">NES</text>
<rect x="359.4" y="227" width="60.6" height="11.6" fill="url(#gNES)"/>
<text x="361.6" y="225" font-size="9.5" text-anchor="middle" fill="#222">3</text>
<text x="374.4" y="225" font-size="9.5" text-anchor="middle" fill="#222">2</text>
<text x="386.6" y="225" font-size="9.5" text-anchor="middle" fill="#222">1</text>
<text x="398.6" y="225" font-size="9.5" text-anchor="middle" fill="#222">0</text>
<text x="410" y="225" font-size="9.5" text-anchor="middle" fill="#222">−1</text>
<g filter="url(#efz)"><path d="M547.8 224.5L553.9 227L561.2 224.5L566 223.3L573.4 225.7L580.7 231.8L590.5 239.2L595.4 239.2L590.5 246.5L593 258.7L591.7 273.3L584.4 283.1L585.6 290.4L584.4 290.4L571 289.9L558.8 289.2L549 291.6L538 290.4L535.6 273.3L538 256.3L542.9 239.2L547.8 225.7Z" fill="#3cb04c" stroke="#3cb04c" stroke-width="1.2" stroke-linejoin="round"/><path d="M542.9 239.2L551 240L558 248L565 262L569 278L568 289.5L558.8 289.2L549 291.6L538 290.4L535.6 273.3L538 256.3Z" fill="#84ad18" stroke="#84ad18" stroke-width="1.2" stroke-linejoin="round"/><path d="M566 223.3L566 219.6L571 214.8L583.2 212.8L595.4 214.3L602.7 219.6L604.7 227L601.5 235.5L595.4 239.2L590.5 239.2L580.7 231.8L573.4 225.7Z" fill="#1aa8f2" stroke="#1aa8f2" stroke-width="1.2" stroke-linejoin="round"/><path d="M595.4 239.2L599 241.6L607.6 244L617.4 250.2L622.2 261.1L623.5 275.8L621 290.4L616.1 302.6L611.3 311.2L605.2 300.2L593 295.3L585.6 290.4L584.4 283.1L591.7 273.3L593 258.7L590.5 246.5Z" fill="#f77a72" stroke="#f77a72" stroke-width="1.2" stroke-linejoin="round"/><path d="M538 290.4L549 291.6L558.8 289.2L571 289.9L584.4 290.4L585.6 290.4L593 295.3L605.2 300.2L611.3 311.2L608.8 312.4L604 318.5L593 319.7L580.7 317.8L566.1 318.5L551.5 317.3L540.5 319.7L536.8 297.7Z" fill="#d09a1c" stroke="#d09a1c" stroke-width="1.2" stroke-linejoin="round"/><path d="M540.5 319.7L551.5 317.3L566.1 318.5L580.7 317.8L593 319.7L604 318.5L603.9 322.2L600.3 334.4L590.5 341.7L573.4 344.6L558.8 341.7L549 334.4L545.4 324.6Z" fill="#f968cf" stroke="#f968cf" stroke-width="1.2" stroke-linejoin="round"/><path d="M540.5 319.7L531.9 318.5L522.2 314.8L510 307.5L500.2 297.7L495.3 283.1L494.1 269.7L499 259.9L510 255L516.1 256.3L524.6 270.9L533.2 278.2L535.6 273.3L538 290.4L536.8 297.7Z" fill="#22bdc2" stroke="#22bdc2" stroke-width="1.2" stroke-linejoin="round"/><path d="M538 228.2L547.8 224.5L547.8 225.7L542.9 239.2L538 256.3L535.6 273.3L533.2 278.2L524.6 270.9L516.1 256.3L516.1 246.5L519.7 236.7L528.3 230.6Z" fill="#c67ff5" stroke="#c67ff5" stroke-width="1.2" stroke-linejoin="round"/></g>
<path d="M538 228.2L547.8 224.5L553.9 227L561.2 224.5L566 223.3L566 219.6L571 214.8L583.2 212.8L595.4 214.3L602.7 219.6L604.7 227L601.5 235.5L595.4 239.2L599 241.6L607.6 244L617.4 250.2L622.2 261.1L623.5 275.8L621 290.4L616.1 302.6L611.3 311.2L608.8 312.4L602.7 317.3L603.9 322.2L600.3 334.4L590.5 341.7L573.4 344.6L558.8 341.7L549 334.4L545.4 324.6L540.5 319.7L531.9 318.5L522.2 314.8L510 307.5L500.2 297.7L495.3 283.1L494.1 269.7L499 259.9L510 255L516.1 256.3L516.1 246.5L519.7 236.7L528.3 230.6Z" fill="url(#spk)"/>
<path d="M566 223.3L573.4 225.7L580.7 231.8L590.5 239.2L595.4 239.2" fill="none" stroke="#fff" stroke-width="0.9" stroke-linejoin="round" opacity="0.9"/>
<path d="M595.4 239.2L590.5 246.5L593 258.7L591.7 273.3L584.4 283.1L585.6 290.4" fill="none" stroke="#fff" stroke-width="0.9" stroke-linejoin="round" opacity="0.9"/>
<path d="M585.6 290.4L593 295.3L605.2 300.2L611.3 311.2" fill="none" stroke="#fff" stroke-width="0.9" stroke-linejoin="round" opacity="0.9"/>
<path d="M538 290.4L549 291.6L558.8 289.2L571 289.9L585.6 290.4" fill="none" stroke="#fff" stroke-width="0.9" stroke-linejoin="round" opacity="0.9"/>
<path d="M540.5 319.7L551.5 317.3L566.1 318.5L580.7 317.8L593 319.7L604 318.5" fill="none" stroke="#fff" stroke-width="0.9" stroke-linejoin="round" opacity="0.9"/>
<path d="M547.8 225.7L542.9 239.2L538 256.3L535.6 273.3L538 290.4L536.8 297.7L540.5 319.7" fill="none" stroke="#fff" stroke-width="0.9" stroke-linejoin="round" opacity="0.9"/>
<path d="M516.1 256.3L524.6 270.9L533.2 278.2L535.6 273.3" fill="none" stroke="#fff" stroke-width="0.9" stroke-linejoin="round" opacity="0.9"/>
<text x="587" y="228.2" font-size="13" text-anchor="middle" fill="#111">5</text>
<text x="527" y="260.6" font-size="13" text-anchor="middle" fill="#111">6</text>
<text x="555" y="270.6" font-size="13" text-anchor="middle" fill="#111">2</text>
<text x="568" y="267.6" font-size="13" text-anchor="middle" fill="#111">3</text>
<text x="511" y="292.2" font-size="13" text-anchor="middle" fill="#111">4</text>
<text x="610.6" y="273.6" font-size="13" text-anchor="middle" fill="#111">0</text>
<text x="568" y="313.6" font-size="13" text-anchor="middle" fill="#111">1</text>
<text x="574.4" y="338.2" font-size="13" text-anchor="middle" fill="#111">7</text>
<line x1="487.6" y1="205" x2="487.6" y2="350.4" stroke="#333" stroke-width="0.9"/>
<line x1="487.6" y1="350.4" x2="633" y2="350.4" stroke="#333" stroke-width="0.9"/>
<text x="559.6" y="360" font-size="9.3" text-anchor="middle" fill="#222">UMAP1</text>
<g transform="translate(484.6 275.5) rotate(-90)"><text x="0" y="0" font-size="9.3" text-anchor="middle" fill="#222">UMAP2</text></g>
<text x="549.3" y="202" font-size="9.5" text-anchor="middle" fill="#222">PRC1/2,HATs</text>
<line x1="561" y1="256" x2="545.3" y2="208" stroke="#111" stroke-width="0.6"/><path d="M544.5 205.5L546.5 207.6L544.1 208.4Z" fill="#111"/>
<line x1="594" y1="221.4" x2="613.4" y2="221.4" stroke="#111" stroke-width="0.6"/><path d="M616 221.4L613.4 222.7L613.4 220.1Z" fill="#111"/>
<text x="618.4" y="225" font-size="9.5" text-anchor="start" fill="#222">HAT (<tspan font-style="italic">KAT7</tspan>)</text>
<line x1="510" y1="292" x2="503.6" y2="317.5" stroke="#111" stroke-width="0.6"/><path d="M503 320L502.4 317.2L504.9 317.8Z" fill="#111"/>
<text x="509.8" y="333.6" font-size="9.5" text-anchor="middle" fill="#222">PRC1/2,</text>
<text x="510" y="345" font-size="9.5" text-anchor="middle" fill="#222">HATs</text>
<line x1="612" y1="278" x2="616.7" y2="321.4" stroke="#111" stroke-width="0.6"/><path d="M617 324L615.4 321.6L618 321.3Z" fill="#111"/>
<text x="630.5" y="335" font-size="9.5" text-anchor="middle" fill="#222">MLL complex</text>
<text x="630.5" y="347" font-size="9.5" text-anchor="middle" fill="#222">(<tspan font-style="italic">DOT1L</tspan>, <tspan font-style="italic">MEN1</tspan>)</text>
<rect x="24.3" y="437.9" width="69.8" height="63.6" fill="#f2f7fd"/>
<g clip-path="url(#fc0)"><path d="M70 501.4L61.5 501.4L61.3 501.3L59.5 501.3L59.3 501L58.5 501L58.3 500.8L57.8 500.8L55.3 499.5L54.8 499L53.8 498.5L53 497.8L52.8 497.8L50.8 496.3L50.5 496.3L48.5 494.8L46.5 493.8L46 493.3L45.3 493L44.8 492.5L44 492.3L43.5 491.8L42.8 491.5L42.3 491L41.5 490.8L41 490.3L40.3 490L38.3 488.5L38 488.5L36 487L35.8 487L35 486.3L34.8 486.3L34.3 485.8L33.3 485.3L30.6 483L30.3 483L27.2 479.9L27.2 479.6L26.2 478.4L24.9 475.9L24.7 474.1L24.4 473.9L24.4 472.4L24.3 472.1L24.4 463.6L24.7 463.4L24.7 462.4L24.9 462.1L25.2 460.9L26.7 457.9L27.4 457.1L27.4 456.9L30.3 454L30.6 454L31.6 453L31.8 453L34.5 450.8L35.5 450.3L36.3 449.5L37.8 448.8L38.3 448.3L40.8 447L42 446.7L42.3 446.5L42.8 446.5L43 446.2L43.5 446.2L43.8 446L44.3 446L45.3 445.5L46 445.4L47 444.9L47.8 444.9L48.8 444.4L49.5 444.4L49.8 444.2L50.3 444.2L50.5 443.9L51 443.9L51.3 443.7L53.3 443.1L55.8 441.9L56.3 441.9L60.5 439.7L61 439.7L61.8 439.2L62.3 439.2L63.8 438.5L64.5 438.5L64.8 438.2L65.8 438.2L66 438L68 437.9L75.3 437.9L76.8 438L77 438.3L77.8 438.3L78 438.5L78.5 438.5L80 439.3L82.2 441.1L82.2 441.4L83.4 442.6L83.4 442.9L84.9 444.9L85.9 446.9L86.4 447.4L86.7 448.1L87.2 448.6L87.7 449.9L88.2 450.4L88.4 451.1L89.4 452.4L89.7 453.1L90.7 454.4L91.7 456.4L92.2 456.9L92.9 458.4L92.9 458.9L93.4 459.6L93.4 460.1L93.7 460.4L93.7 461.4L93.9 461.6L93.9 463.1L94.1 463.4L94.1 471.6L93.9 471.9L93.9 473.9L93.7 474.1L93.7 475.4L93.4 475.6L93.4 476.4L93.2 476.6L92.9 477.9L92.7 478.1L92.7 478.6L92.2 479.4L92.2 479.9L91.7 480.9L91.2 481.4L90.9 482.1L90.4 482.6L89.9 483.6L89.2 484.4L88.7 485.4L86.9 487.4L86.9 487.6L86.2 488.4L86.2 488.6L84.9 489.9L84.9 490.1L81.2 494.1L81.2 494.4L76.5 499L76.3 499L75.5 499.8L73.5 500.8L73 500.8L72.8 501L72 501L71.8 501.3L70.3 501.3L70 501.4Z" fill="#d8e7f6" fill-rule="evenodd"/><path d="M69.8 500.2L69.3 500.3L62.3 500.3L61.5 500.1L60 500.1L58.3 499.6L55.8 498.3L49.3 493.8L40.8 488.8L36.3 485.8L30.8 481.8L28.4 479.4L27.3 477.7L26.1 475.4L25.4 471.4L25.4 466.1L25.6 465.6L25.9 462.9L26.4 461.4L27.8 458.6L28.7 457.4L30.8 455.3L35 452L38.8 449.4L41.3 448.1L45.8 446.4L53.5 443.9L63.5 439.8L66.5 438.9L68.5 438.7L74.8 438.9L75.3 439.2L76.3 439.2L78 439.7L79 440.2L80.9 441.6L82.2 443.1L83.7 445.4L87.5 451.9L91 457.6L92.4 460.9L92.9 464.1L92.9 470.9L92.7 471.6L92.4 474.9L90.9 479.4L89.7 481.6L87.4 484.9L83.7 489.6L80.3 493.3L79.9 493.9L76 497.8L75 498.5L73 499.6L71.3 500.1L69.8 500.2Z" fill="#bed8ee" fill-rule="evenodd"/><path d="M69.3 498.9L62.5 499L60.5 498.8L58.5 498.2L56.5 497.2L50 492.6L41.6 487.6L34.6 482.9L31.6 480.6L29.6 478.6L27.5 475.1L26.7 471.1L26.7 466.6L27 464.6L27.7 461.9L28.8 459.6L29.8 458.1L31.6 456.4L35.8 453.1L38.3 451.3L41.5 449.4L46 447.6L54 444.8L64.5 440.6L66.8 439.9L69 439.5L74.3 440.1L77.5 441L78.8 441.6L81.1 443.9L84.2 448.9L85 450.6L84.8 451.1L83 452.4L81.5 453.9L80 456.4L79.1 458.9L78 464.6L77.2 467.4L76.1 470.4L74.7 473.1L72.5 476.3L71 477.8L68.6 479.9L68 480.9L68.2 481.4L68.8 481.9L72 483.6L76 485.4L82.5 487.8L82.7 488.1L82.5 488.6L78.8 493.1L75.3 496.7L74 497.6L72.5 498.3L69.3 498.9Z" fill="#94c5e2" fill-rule="evenodd"/><path d="M46 488.3L45 488.1L42.5 486.6L35.5 481.9L32.3 479.5L30.7 477.9L29.4 476.1L28.7 474.6L28.2 472.6L28 470.9L28 466.9L28.7 463.1L30.1 460.1L30.9 458.9L33.7 456.4L39 452.4L42 450.6L48 448.1L62.3 442.8L67 440.7L69 440.3L70.8 440.5L74 441.3L77.9 442.6L80 444.8L81.6 447.1L82 448.4L78.5 451L77.3 452.4L76.4 453.9L75.2 457.1L73.2 465.6L72.2 468.1L71 470.2L70 471.5L68.8 472.6L67.3 473.6L65.8 474.3L62.8 475L53.3 476.3L50.8 477.1L49 478.1L47.5 479.6L46.6 481.6L46.1 484.1L46 488.3ZM68.8 497.7L62.8 497.7L59.6 497.1L56.7 495.6L54.8 494.1L54 493.3L55.5 492.1L58.2 488.9L60.3 487.4L61.8 486.8L63.3 486.5L65 486.4L66.5 486.7L68 487.3L69.3 488.1L70.6 489.4L73 492.4L74 493.2L75.5 493.9L75.3 494.4L74.5 495.4L73.3 496.4L71.5 497.2L68.8 497.7Z" fill="#57acd9" fill-rule="evenodd"/><path d="M34.3 476.4L32.3 476.1L31.3 475.5L30.6 474.8L29.8 473.1L29.6 470.6L30.4 468.9L32.6 466.4L33 465.6L32.7 464.4L31.2 461.9L31.4 460.9L32 459.8L33.1 458.6L37.5 455.1L39.8 453.5L42.5 451.8L50 448.6L62.8 443.8L67.3 441.5L69 441.1L70.8 441.3L74 442.4L77 443.9L77.3 444.4L77.2 444.6L74.5 448.7L73.2 451.4L70.3 461.1L69 464.5L67.5 467.1L65.8 468.8L64.5 469.6L63 470.3L58.8 471.2L46.5 473L44 473.1L41 472.8L40 472.9L39.3 473.3L36.5 475.7L35.3 476.2L34.3 476.4Z" fill="#1f90d0" fill-rule="evenodd"/><path d="M49.5 469.2L47.5 469.2L45.8 468.9L44.3 468.1L43.2 467.1L42.1 465.4L40.2 460.6L37.7 457.4L37.7 457.1L38.2 456.4L40.4 454.6L43 453L53 448.6L63.3 444.9L67.3 442.3L69 441.8L69.8 441.8L71.1 442.1L72.6 442.9L73 443.4L73.1 443.9L72.7 445.9L71.5 447.5L68.9 449.9L68.5 450.9L67.9 454.1L67.4 455.9L66.2 458.1L64.6 460.1L61 463.6L57.2 466.4L53.3 468.2L49.5 469.2Z" fill="#0b6db8" fill-rule="evenodd"/><path d="M69.3 446.7L68.3 446.7L67.3 446.2L66.7 445.4L66.5 444.4L66.6 443.9L67.4 443.1L69.5 442.5L70.5 442.8L71.2 443.1L71.5 443.6L71.5 444.1L71.3 445L70.8 445.8L70 446.4L69.3 446.7ZM50.3 466.7L48.3 466.7L46.8 466.1L45.7 464.9L45.1 463.1L45.2 461.4L45.7 459.4L48.9 452.1L50.4 451.1L53.1 449.9L57.3 448.4L59 448.6L61.1 449.4L62 450.1L62.6 450.9L63.1 451.9L63.3 452.9L62.9 455.1L61.7 457.6L59.1 461.1L56.2 463.9L53.3 465.7L50.3 466.7Z" fill="#0a50a0" fill-rule="evenodd"/><path d="M51.3 464.4L50.3 464.5L49.3 464.3L48.5 463.9L48 463.1L47.8 462.1L48 461.1L48.9 458.9L51 456.3L53.5 454.4L55.8 453.6L56.8 453.5L57.8 453.9L58.5 454.7L58.8 456.1L58.5 457.6L57.7 459.4L56.4 461.1L54.8 462.7L53 463.8L51.3 464.4Z" fill="#08306b" fill-rule="evenodd"/><path d="M70 501.4L61.5 501.4L61.3 501.3L59.5 501.3L59.3 501L58.5 501L58.3 500.8L57.8 500.8L55.3 499.5L54.8 499L53.8 498.5L53 497.8L52.8 497.8L50.8 496.3L50.5 496.3L48.5 494.8L46.5 493.8L46 493.3L45.3 493L44.8 492.5L44 492.3L43.5 491.8L42.8 491.5L42.3 491L41.5 490.8L41 490.3L40.3 490L38.3 488.5L38 488.5L36 487L35.8 487L35 486.3L34.8 486.3L34.3 485.8L33.3 485.3L30.6 483L30.3 483L27.2 479.9L27.2 479.6L26.2 478.4L24.9 475.9L24.7 474.1L24.4 473.9L24.4 472.4L24.3 472.1L24.4 463.6L24.7 463.4L24.7 462.4L24.9 462.1L25.2 460.9L26.7 457.9L27.4 457.1L27.4 456.9L30.3 454L30.6 454L31.6 453L31.8 453L34.5 450.8L35.5 450.3L36.3 449.5L37.8 448.8L38.3 448.3L40.8 447L42 446.7L42.3 446.5L42.8 446.5L43 446.2L43.5 446.2L43.8 446L44.3 446L45.3 445.5L46 445.4L47 444.9L47.8 444.9L48.8 444.4L49.5 444.4L49.8 444.2L50.3 444.2L50.5 443.9L51 443.9L51.3 443.7L53.3 443.1L55.8 441.9L56.3 441.9L60.5 439.7L61 439.7L61.8 439.2L62.3 439.2L63.8 438.5L64.5 438.5L64.8 438.2L65.8 438.2L66 438L68 437.9L75.3 437.9L76.8 438L77 438.3L77.8 438.3L78 438.5L78.5 438.5L80 439.3L82.2 441.1L82.2 441.4L83.4 442.6L83.4 442.9L84.9 444.9L85.9 446.9L86.4 447.4L86.7 448.1L87.2 448.6L87.7 449.9L88.2 450.4L88.4 451.1L89.4 452.4L89.7 453.1L90.7 454.4L91.7 456.4L92.2 456.9L92.9 458.4L92.9 458.9L93.4 459.6L93.4 460.1L93.7 460.4L93.7 461.4L93.9 461.6L93.9 463.1L94.1 463.4L94.1 471.6L93.9 471.9L93.9 473.9L93.7 474.1L93.7 475.4L93.4 475.6L93.4 476.4L93.2 476.6L92.9 477.9L92.7 478.1L92.7 478.6L92.2 479.4L92.2 479.9L91.7 480.9L91.2 481.4L90.9 482.1L90.4 482.6L89.9 483.6L89.2 484.4L88.7 485.4L86.9 487.4L86.9 487.6L86.2 488.4L86.2 488.6L84.9 489.9L84.9 490.1L81.2 494.1L81.2 494.4L76.5 499L76.3 499L75.5 499.8L73.5 500.8L73 500.8L72.8 501L72 501L71.8 501.3L70.3 501.3L70 501.4Z" fill="none" stroke="#1a1a1a" stroke-width="0.65"/><path d="M69.5 498.2L69 498.3L62.5 498.3L60.5 498.1L58.8 497.6L57 496.7L50.3 492.1L42 487.2L35 482.4L32 480.1L30.1 478.2L28.1 474.9L27.6 472.9L27.3 470.9L27.4 466.6L27.6 464.6L28.3 462.1L29.4 459.9L30.3 458.6L32 456.9L36.3 453.6L38.8 451.8L41.8 450L65.5 440.8L67 440.3L69 439.9L71 440.1L74.3 440.7L76.8 441.4L78.3 442.1L80.6 444.4L82.8 447.9L83.5 449.1L83.4 449.6L80.1 452.1L79 453.4L78.1 454.9L77 457.7L75.6 464.4L74.6 467.6L73 471L71 473.7L68.8 475.5L66 476.7L63.3 477.3L56.3 478.2L53 479.2L51.6 480.1L50.7 481.1L50.2 482.4L50 483.9L50.1 485.1L50.6 486.4L51.3 487.1L52.3 487.5L53.3 487.6L54.5 487.3L58.8 485.6L61 484.8L63.3 484.5L65.3 484.5L67.3 484.9L69.3 485.6L75.3 489L79.5 490.6L78.3 492.7L74.8 496.2L73.8 496.9L72.4 497.6L70.8 498.1L69.5 498.2Z" fill="none" stroke="#1a1a1a" stroke-width="0.65"/><path d="M49.5 469.2L47.5 469.2L45.8 468.9L44.3 468.1L43.2 467.1L42.1 465.4L40.2 460.6L37.7 457.4L37.7 457.1L38.2 456.4L40.4 454.6L43 453L53 448.6L63.3 444.9L67.3 442.3L69 441.8L69.8 441.8L71.1 442.1L72.6 442.9L73 443.4L73.1 443.9L72.7 445.9L71.5 447.5L68.9 449.9L68.5 450.9L67.9 454.1L67.4 455.9L66.2 458.1L64.6 460.1L61 463.6L57.2 466.4L53.3 468.2L49.5 469.2Z" fill="none" stroke="#1a1a1a" stroke-width="0.65"/><path d="M69.3 445L68.5 444.8L68.2 444.1L68.5 443.6L69.3 443.4L69.9 443.6L70 444.1L69.8 444.7L69.3 445ZM50.8 464.9L49.5 464.9L48.5 464.6L47.8 463.9L47.4 463.1L47.3 462.1L47.5 460.9L48.7 458.4L51.3 455.3L54 453.3L55.3 452.8L56.5 452.5L57.5 452.6L58.5 453L59.4 454.1L59.6 455.6L59.1 457.6L58 459.6L56.4 461.6L54.8 463.1L52.8 464.3L50.8 464.9Z" fill="none" stroke="#1a1a1a" stroke-width="0.65"/><path d="M51.8 442.9L50.6 446.3L48.8 452.4L46.6 458.9L44.8 464.4L43.2 469.2L43.6 474.9L44.3 480.7L45.3 485.4L46.1 489.9L47.8 496.7L48.8 501.9" fill="none" stroke="#fff" stroke-width="0.7" opacity="0.9" stroke-linejoin="round"/><path d="M28.3 452.9L34.6 458.9L38.8 464.4L43.2 469.2" fill="none" stroke="#fff" stroke-width="0.7" opacity="0.9" stroke-linejoin="round"/><path d="M57.3 442.4L59.8 446.3L67.8 450.9L72.4 453.2L78.1 448.6L80.8 442.9" fill="none" stroke="#fff" stroke-width="0.7" opacity="0.9" stroke-linejoin="round"/><path d="M72.4 453.2L73.5 462.3L70.1 470.4L69 475L70.1 479.5" fill="none" stroke="#fff" stroke-width="0.7" opacity="0.9" stroke-linejoin="round"/><path d="M43.8 480.1L50.6 478.9L59.8 479.5L70.1 480.1L77 481.8L81.6 485.3L85.3 488.4" fill="none" stroke="#fff" stroke-width="0.7" opacity="0.9" stroke-linejoin="round"/><path d="M48.3 495.6L56.3 494.4L64.4 495L71.3 496.1L77 497.9" fill="none" stroke="#fff" stroke-width="0.7" opacity="0.9" stroke-linejoin="round"/></g>
<text x="59.2" y="433.6" font-size="11.8" text-anchor="middle" fill="#111" font-style="italic">BCOR</text>
<rect x="98.5" y="437.9" width="69.8" height="63.6" fill="#f2f7fd"/>
<g clip-path="url(#fc1)"><path d="M144.3 501.4L135.8 501.4L135.5 501.3L133.8 501.3L133.5 501L132.8 501L132.5 500.8L132 500.8L129.5 499.5L128.3 498.5L128 498.5L127.3 497.8L127 497.8L125 496.3L124.8 496.3L122.8 494.8L120.8 493.8L120.3 493.3L119.5 493L119 492.5L118.3 492.3L117.8 491.8L117 491.5L116.5 491L115.8 490.8L115.3 490.3L114.5 490L112.5 488.5L112.3 488.5L111.8 488L111.5 488L111 487.5L110 487L109.3 486.3L109 486.3L108.5 485.8L107.5 485.3L104.8 483L104.5 483L101.4 479.9L100.9 478.9L100.4 478.4L99.2 475.9L98.9 474.1L98.7 473.9L98.7 472.4L98.5 472.1L98.7 463.6L98.9 463.4L98.9 462.4L99.2 462.1L99.4 460.9L100.9 457.9L101.7 457.1L101.7 456.9L104.5 454L104.8 454L105.8 453L106 453L108.8 450.8L109.8 450.3L110.5 449.5L112 448.8L112.5 448.3L115 447L115.5 447L115.8 446.8L116.3 446.8L116.5 446.5L117 446.5L117.3 446.3L117.8 446.3L118 446L118.5 446L119.5 445.5L120.3 445.5L121.3 445L122 445L123 444.5L123.8 444.5L124.8 444L125.3 444L125.5 443.8L126 443.8L126.3 443.5L126.8 443.5L127 443.3L127.5 443.3L130 442L130.5 442L134.8 439.8L135.3 439.8L136 439.3L136.5 439.3L138 438.5L138.8 438.5L139 438.3L140 438.3L140.3 438L142 438L142.3 437.9L149.5 437.9L149.8 438L151 438L151.3 438.3L152 438.3L152.3 438.5L152.8 438.5L154.3 439.3L156.4 441.1L156.4 441.4L157.7 442.6L158.2 443.6L159.2 444.9L159.4 445.6L159.9 446.1L160.2 446.9L161.4 448.6L161.9 449.9L162.4 450.4L162.7 451.1L163.7 452.4L163.9 453.1L164.9 454.4L165.9 456.4L166.4 456.9L167.2 458.4L167.2 458.9L167.7 459.6L167.7 460.1L167.9 460.4L167.9 461.4L168.2 461.6L168.2 463.1L168.3 463.4L168.3 471.6L168.2 471.9L168.2 473.9L167.9 474.1L167.9 475.4L167.7 475.6L167.7 476.4L167.4 476.6L167.2 477.9L166.9 478.1L166.9 478.6L166.4 479.4L166.4 479.9L165.9 480.9L165.4 481.4L165.2 482.1L164.7 482.6L164.2 483.6L163.4 484.4L162.9 485.4L161.2 487.4L161.2 487.6L160.4 488.4L160.4 488.6L159.2 489.9L159.2 490.1L155.4 494.1L155.4 494.4L150.8 499L150.5 499L149.8 499.8L147.8 500.8L147.3 500.8L147 501L146.3 501L146 501.3L144.5 501.3L144.3 501.4Z" fill="#d8e7f6" fill-rule="evenodd"/><path d="M144 500.2L143.5 500.4L136.3 500.4L135.8 500.2L134.3 500.1L132.5 499.6L130 498.4L123.5 493.8L115 488.8L108 484L105 481.8L102.7 479.4L101.5 477.7L100.4 475.4L99.6 471.6L99.6 466.1L99.8 465.6L100.1 462.9L100.6 461.4L102 458.6L102.9 457.4L106.3 454.3L111 450.8L113.2 449.4L115.5 448.2L118.5 447.2L128 444.3L131 443.1L135.3 441L138.5 439.7L142.8 439L149 439L152.3 439.7L153.8 440.5L155.2 441.6L157.9 445.4L165.3 457.6L166.7 460.9L167 463.4L167.2 463.9L167.2 471.1L167 471.6L166.7 474.9L165.2 479.4L162.9 483.1L159.2 488.1L154.5 493.3L154.2 493.9L150.3 497.8L149.3 498.6L147.3 499.6L145.5 500.1L144 500.2Z" fill="#bed8ee" fill-rule="evenodd"/><path d="M144 498.9L143.3 499.1L136.8 499.1L134.5 498.8L132.8 498.3L130.8 497.4L124.1 492.6L115.8 487.6L107.8 482.2L105.8 480.7L103.8 478.6L101.7 475.1L100.9 471.1L100.9 466.6L101.4 463.4L101.9 461.9L103.1 459.4L104 458.1L107 455.4L111.8 451.9L114.1 450.4L115.8 449.5L119.8 448.1L129.8 445L135.5 442.4L138.8 441.1L143.3 440.3L148.5 440.3L151.3 440.9L152.6 441.4L154 442.5L155.3 443.9L164.2 458.4L165.3 461.1L165.9 464.4L165.9 470.6L165.3 474.6L163.8 479.1L161.8 482.4L159.8 485.1L153.1 493.1L149.5 496.8L147 498.3L145.3 498.8L144 498.9ZM133.3 482.1L132.8 481.9L132.3 482.1L133.3 482.1Z" fill="#94c5e2" fill-rule="evenodd"/><path d="M116.8 486.3L115 485.4L112.2 483.6L106.5 479.7L104.8 477.8L103 474.6L102.3 470.9L102.3 466.9L102.5 464.9L103.2 462.1L104.2 460.1L105.2 458.9L106.5 457.6L110.9 454.1L113.3 452.4L116.3 450.6L120.5 449L130.3 446.1L138.8 442.5L143.5 441.6L148.3 441.6L150.8 442.1L152.3 442.8L154.2 444.6L155.8 447L163 459L164 461.5L164.5 464.6L164.5 470.4L164.3 472.6L163.8 475.1L162.6 478.6L160.8 481.3L159.8 482.1L156.5 479.7L154.4 478.4L152.2 477.4L150 476.7L147.5 476.4L139.8 475.8L130.8 473.9L126.8 473.9L124.5 474.4L122.5 475L121.1 475.9L120.1 476.9L119 478.6L117.8 481.4L117.2 483.6L117 486.1L116.8 486.3ZM142.3 497.9L137 497.9L134.8 497.7L133.3 497.2L131.6 496.4L130 495.4L127.5 493.4L126.9 492.6L129.5 490.6L132.3 489.3L135.5 488.4L138.8 488.1L142 488.5L145 489.4L147.4 490.6L150.8 493.1L150.6 493.6L149.5 494.9L147.5 496.6L146.5 497.1L145 497.6L142.3 497.9Z" fill="#57acd9" fill-rule="evenodd"/><path d="M143.8 472.2L140.5 472L137.6 471.1L134.9 469.6L131 466.7L129.3 465.9L127.3 465.6L120.8 465.3L119 464.9L117.3 464.3L115.3 463.1L113.5 461.6L110 457.4L110 456.9L111.8 455.2L114 453.4L116.8 451.7L120.8 450.1L129.3 447.7L132.5 446.6L139.3 443.7L143.8 443L148 443L151 443.6L153 445.4L154.6 447.6L157 451.4L160.1 457.1L160.3 458.6L160.3 461.4L159.7 465.4L159 467.4L158 468.9L157 469.9L155.5 470.8L153.5 471.3L149 471.4L143.8 472.2ZM112.5 478.2L111.5 478.3L110.5 477.9L109.9 477.1L109.5 476.1L109.6 475.1L110 474.2L110.8 473.5L111.8 473.2L112.8 473.3L113.5 473.6L114 474.2L114.4 475.1L114.3 476.1L114 477L113.5 477.6L112.5 478.2Z" fill="#1f90d0" fill-rule="evenodd"/><path d="M153.3 467.2L151.8 467.2L148 466.5L143.8 467L142 466.9L140 466L136.5 462.9L134.3 461.8L131.5 461.4L125 461.4L122 460.8L120 459.6L118.4 457.9L117.8 455.9L117.8 454.6L118 453.6L118.5 452.6L119.1 452.1L122.3 450.6L131.2 448.1L137 446L138.5 445.6L139.5 445.6L147.3 448.7L149.8 449.9L152.1 451.6L154 453.9L155 455.9L155.8 458.1L156.2 460.4L156.3 462.4L156 464.1L155.4 465.6L154.5 466.6L153.3 467.2Z" fill="#0b6db8" fill-rule="evenodd"/><path d="M152.5 463.2L151.3 463.4L144.5 462.5L143 461.9L139.3 460.1L136 459.3L132.5 459L127 459.3L124.8 459L123.3 458.4L122.2 457.4L121.6 456.1L121.7 454.9L122.5 453.3L124.4 451.9L127 450.7L130.8 449.7L133.5 449.2L136 449.2L138.8 449.5L142 450.2L145.5 451.3L148 452.3L149.8 453.4L151.3 454.9L152.6 457.1L153.4 459.9L153.5 461.1L153.3 462.1L153 462.8L152.5 463.2Z" fill="#0a50a0" fill-rule="evenodd"/><path d="M147.5 459L145.5 459L141.5 457.7L139 457.2L134 456.9L127.5 456.9L126 456.3L125.6 455.6L125.6 455.1L126 454.4L126.9 453.6L130 452.5L134.3 451.7L138 451.9L140.2 452.4L143.2 453.4L145.8 454.4L147.1 455.1L148.2 456.1L148.7 457.4L148.5 458.4L147.5 459Z" fill="#08306b" fill-rule="evenodd"/><path d="M144.3 501.4L135.8 501.4L135.5 501.3L133.8 501.3L133.5 501L132.8 501L132.5 500.8L132 500.8L129.5 499.5L128.3 498.5L128 498.5L127.3 497.8L127 497.8L125 496.3L124.8 496.3L122.8 494.8L120.8 493.8L120.3 493.3L119.5 493L119 492.5L118.3 492.3L117.8 491.8L117 491.5L116.5 491L115.8 490.8L115.3 490.3L114.5 490L112.5 488.5L112.3 488.5L111.8 488L111.5 488L111 487.5L110 487L109.3 486.3L109 486.3L108.5 485.8L107.5 485.3L104.8 483L104.5 483L101.4 479.9L100.9 478.9L100.4 478.4L99.2 475.9L98.9 474.1L98.7 473.9L98.7 472.4L98.5 472.1L98.7 463.6L98.9 463.4L98.9 462.4L99.2 462.1L99.4 460.9L100.9 457.9L101.7 457.1L101.7 456.9L104.5 454L104.8 454L105.8 453L106 453L108.8 450.8L109.8 450.3L110.5 449.5L112 448.8L112.5 448.3L115 447L115.5 447L115.8 446.8L116.3 446.8L116.5 446.5L117 446.5L117.3 446.3L117.8 446.3L118 446L118.5 446L119.5 445.5L120.3 445.5L121.3 445L122 445L123 444.5L123.8 444.5L124.8 444L125.3 444L125.5 443.8L126 443.8L126.3 443.5L126.8 443.5L127 443.3L127.5 443.3L130 442L130.5 442L134.8 439.8L135.3 439.8L136 439.3L136.5 439.3L138 438.5L138.8 438.5L139 438.3L140 438.3L140.3 438L142 438L142.3 437.9L149.5 437.9L149.8 438L151 438L151.3 438.3L152 438.3L152.3 438.5L152.8 438.5L154.3 439.3L156.4 441.1L156.4 441.4L157.7 442.6L158.2 443.6L159.2 444.9L159.4 445.6L159.9 446.1L160.2 446.9L161.4 448.6L161.9 449.9L162.4 450.4L162.7 451.1L163.7 452.4L163.9 453.1L164.9 454.4L165.9 456.4L166.4 456.9L167.2 458.4L167.2 458.9L167.7 459.6L167.7 460.1L167.9 460.4L167.9 461.4L168.2 461.6L168.2 463.1L168.3 463.4L168.3 471.6L168.2 471.9L168.2 473.9L167.9 474.1L167.9 475.4L167.7 475.6L167.7 476.4L167.4 476.6L167.2 477.9L166.9 478.1L166.9 478.6L166.4 479.4L166.4 479.9L165.9 480.9L165.4 481.4L165.2 482.1L164.7 482.6L164.2 483.6L163.4 484.4L162.9 485.4L161.2 487.4L161.2 487.6L160.4 488.4L160.4 488.6L159.2 489.9L159.2 490.1L155.4 494.1L155.4 494.4L150.8 499L150.5 499L149.8 499.8L147.8 500.8L147.3 500.8L147 501L146.3 501L146 501.3L144.5 501.3L144.3 501.4Z" fill="none" stroke="#1a1a1a" stroke-width="0.65"/><path d="M143.3 498.5L136.8 498.5L134.8 498.3L132.5 497.5L130.3 496.3L123.3 491.4L116.3 487.2L107.3 481L106.1 480.1L104.3 478.2L102.4 474.9L101.6 471.1L101.6 466.6L102.1 463.4L102.5 462.1L103.8 459.6L104.5 458.6L107.5 455.9L112.3 452.3L114.5 450.9L116 450.1L120.5 448.4L130 445.6L135.8 443L139 441.7L143.3 441L148.5 441L151 441.5L152.5 442.1L154.8 444.3L162.1 456.1L163.7 458.9L164.5 460.9L165.2 464.4L165.2 470.6L165 471.6L164.9 472.9L164.4 475.4L163.8 477.4L163.2 478.9L162.3 480.4L159.3 484.6L157.8 485.9L155.4 483.4L153.3 481.6L151.3 480.4L148.9 479.4L146.3 478.8L139.5 478L133 476.9L129.5 476.8L126.5 477.4L124.3 478.6L123 480.4L122.5 481.6L122.3 482.9L122.4 484.9L122.9 486.4L123.8 487.5L125 488L127.3 488L135.3 486.5L139.8 486.3L144.8 487L151.8 488.8L154.6 489.4L154.7 489.6L154.4 490.4L152.5 492.8L149.2 496.1L148 497.1L146.8 497.7L143.3 498.5Z" fill="none" stroke="#1a1a1a" stroke-width="0.65"/><path d="M153.3 467.2L151.8 467.2L148 466.5L143.8 467L142 466.9L140 466L136.5 462.9L134.3 461.8L131.5 461.4L125 461.4L122 460.8L120 459.6L118.4 457.9L117.8 455.9L117.8 454.6L118 453.6L118.5 452.6L119.1 452.1L122.3 450.6L131.2 448.1L137 446L138.5 445.6L139.5 445.6L147.3 448.7L149.8 449.9L152.1 451.6L154 453.9L155 455.9L155.8 458.1L156.2 460.4L156.3 462.4L156 464.1L155.4 465.6L154.5 466.6L153.3 467.2Z" fill="none" stroke="#1a1a1a" stroke-width="0.65"/><path d="M148 459.9L146.8 460L145.5 459.8L141 458.2L138.3 457.7L133.8 457.4L128.5 457.5L126.8 457.4L125.8 457.1L125 456.6L124.6 455.9L124.6 455.1L125.1 454.1L126.1 453.4L127.6 452.6L130 451.9L134.8 451.2L136.8 451.3L139 451.6L145.1 453.4L146.8 454.1L148.3 455.1L149.5 456.6L149.9 458.1L149.7 458.9L149.3 459.4L148 459.9Z" fill="none" stroke="#1a1a1a" stroke-width="0.65"/><path d="M126 442.9L124.8 446.3L123 452.4L120.8 458.9L119 464.4L117.4 469.2L117.8 474.9L118.5 480.7L119.5 485.4L120.3 489.9L122 496.7L123 501.9" fill="none" stroke="#fff" stroke-width="0.7" opacity="0.9" stroke-linejoin="round"/><path d="M102.5 452.9L108.8 458.9L113 464.4L117.4 469.2" fill="none" stroke="#fff" stroke-width="0.7" opacity="0.9" stroke-linejoin="round"/><path d="M131.5 442.4L134 446.3L142 450.9L146.6 453.2L152.3 448.6L155 442.9" fill="none" stroke="#fff" stroke-width="0.7" opacity="0.9" stroke-linejoin="round"/><path d="M146.6 453.2L147.7 462.3L144.3 470.4L143.2 475L144.3 479.5" fill="none" stroke="#fff" stroke-width="0.7" opacity="0.9" stroke-linejoin="round"/><path d="M118 480.1L124.8 478.9L134 479.5L144.3 480.1L151.2 481.8L155.8 485.3L159.5 488.4" fill="none" stroke="#fff" stroke-width="0.7" opacity="0.9" stroke-linejoin="round"/><path d="M122.5 495.6L130.5 494.4L138.6 495L145.5 496.1L151.2 497.9" fill="none" stroke="#fff" stroke-width="0.7" opacity="0.9" stroke-linejoin="round"/></g>
<text x="133.4" y="433.6" font-size="11.8" text-anchor="middle" fill="#111" font-style="italic">PCGF1</text>
<rect x="172.8" y="437.9" width="69.8" height="63.6" fill="#f2f7fd"/>
<g clip-path="url(#fc2)"><path d="M218.5 501.4L210 501.4L208 501.3L207.8 501L207 501L206.8 500.8L206.3 500.8L203.8 499.5L203.3 499L202.3 498.5L201.5 497.8L200.5 497.3L200 496.8L199.8 496.8L199.3 496.3L199 496.3L198.5 495.8L198.3 495.8L197.8 495.3L197.5 495.3L197 494.8L196.3 494.5L195.8 494L195 493.8L194.5 493.3L193.8 493L193.3 492.5L192.5 492.3L192 491.8L191.3 491.5L189.5 490.3L188.8 490L186 488L185.8 488L184.5 487L184.3 487L183.5 486.3L183.3 486.3L182.8 485.8L181.8 485.3L179 483L178.8 483L175.6 479.9L175.6 479.6L174.6 478.4L173.4 475.9L173.1 474.1L172.9 473.9L172.7 472.1L172.9 463.6L173.1 463.4L173.1 462.4L173.6 461.4L173.6 460.9L175.1 457.9L175.9 457.1L175.9 456.9L178.8 454L179 454L180 453L180.3 453L183 450.8L183.3 450.8L184.8 449.5L186.3 448.8L186.8 448.3L189.3 447L189.8 447L190 446.8L190.5 446.8L190.8 446.5L191.3 446.5L191.5 446.3L192 446.3L192.3 446L192.8 446L193.8 445.5L194.5 445.5L195.5 445L196.3 445L197.3 444.5L198 444.5L198.3 444.3L199.5 444L199.8 443.8L201 443.5L201.3 443.3L201.8 443.3L204.3 442L204.8 442L209 439.8L209.5 439.8L210.3 439.3L210.8 439.3L212.3 438.5L213 438.5L213.3 438.3L214.3 438.3L214.5 438L216.3 438L216.5 437.9L223.8 437.9L224 438L225.3 438L225.5 438.3L226.3 438.3L226.5 438.5L227 438.5L228.5 439.3L230.6 441.1L230.6 441.4L231.9 442.6L231.9 442.9L233.4 444.9L233.6 445.6L234.1 446.1L234.4 446.9L235.6 448.6L236.1 449.9L236.6 450.4L236.9 451.1L237.9 452.4L238.1 453.1L239.1 454.4L240.1 456.4L240.6 456.9L241.4 458.4L241.4 458.9L241.9 459.6L241.9 460.1L242.1 460.4L242.1 461.4L242.4 461.6L242.4 463.1L242.5 463.4L242.5 471.6L242.4 471.9L242.4 473.9L242.1 474.1L242.1 475.4L241.9 475.6L241.9 476.4L241.6 476.6L241.4 477.9L241.1 478.1L241.1 478.6L240.6 479.4L240.6 479.9L240.1 480.9L239.6 481.4L239.4 482.1L238.4 483.4L238.4 483.6L237.6 484.4L237.1 485.4L235.4 487.4L235.4 487.6L234.6 488.4L234.6 488.6L233.4 489.9L233.4 490.1L229.6 494.1L229.6 494.4L225 499L224.8 499L224 499.8L222 500.8L221.5 500.8L221.3 501L220.5 501L220.3 501.3L218.8 501.3L218.5 501.4Z" fill="#d8e7f6" fill-rule="evenodd"/><path d="M213.8 500.7L210.5 500.6L209.9 500.4L208.5 500.2L206.8 499.6L204.4 498.4L197.8 493.8L189.3 488.8L179.3 481.9L176.7 479.4L175.6 477.9L174.4 475.4L173.7 471.6L173.8 466.4L174.1 465.6L174.1 464.1L174.9 461.4L176.3 458.6L177.1 457.4L180.5 454.3L185.3 450.7L187.8 449.2L189.8 448.2L194.3 446.7L198.3 445.6L202.3 444.3L205.3 443L209.5 441L212.8 439.7L215 439.2L216.5 439.2L217 439L223.3 439L226.5 439.7L228 440.5L229.4 441.6L230.6 443.1L232.1 445.4L239.7 457.9L240.9 460.9L241.2 463.4L241.4 463.9L241.4 470.9L241.2 471.6L241.2 473.4L240.7 475.9L239.4 479.4L237.1 483.1L232.1 489.6L228.8 493.3L228.4 493.9L224.5 497.8L223.3 498.6L220.8 499.8L218.5 500.1L218 500.4L213.8 500.7Z" fill="#bed8ee" fill-rule="evenodd"/><path d="M214.8 499.7L212.8 499.9L210.8 499.8L208.8 499.2L207 498.4L198.4 492.6L190 487.6L179.8 480.7L177.6 478.6L176.5 477.1L175.5 475.1L175.1 473.1L174.9 471.1L175.1 466.6L175.7 463.4L176.1 461.9L177.4 459.4L178.3 458.1L181.3 455.4L186 451.9L188.3 450.4L190.3 449.4L194 448.1L202.8 445.4L212.5 441.2L215.5 440.5L217.5 440.3L222.8 440.3L225.5 440.9L226.8 441.4L228.3 442.5L229.5 443.9L238.5 458.6L239.5 461.1L240.1 464.4L240.1 470.6L239.9 471.6L239.8 472.9L239.4 475.4L238.6 477.6L238 479.1L237 480.9L232.3 487.4L227.2 493.1L223.8 496.6L222.3 497.6L221 498.3L219.5 498.7L214.8 499.7Z" fill="#94c5e2" fill-rule="evenodd"/><path d="M183.8 479.2L181.3 479.1L180 478.7L179 478.1L177.5 476.3L176.9 474.9L176.7 473.9L176.8 472.6L177.3 471.4L178.1 470.4L179.2 469.4L181.5 468.3L186 467.5L186.7 466.9L186.6 465.6L185.8 463.9L181.4 457.6L182 456.6L187.5 452.4L190.5 450.7L203 446.7L212.8 442.5L215.5 441.9L217.8 441.6L222.5 441.6L225 442.1L226.3 442.6L228.4 444.6L230 447.1L237.2 459.1L238 461.1L238.6 464.6L238.6 470.4L238 474.4L237 476.8L232.8 474.5L229.8 473.7L226.3 473.8L217.8 475.4L213.3 475.5L199.3 473.9L196.8 473.2L192.8 471.6L191.5 471.4L191 471.4L190.5 471.9L189.2 475.1L187.7 477.1L186 478.4L183.8 479.2ZM214 498.9L212.5 499.1L211.3 499L209 498.3L205.8 496.1L203.5 494.1L203.3 493.6L205.3 493L209.5 490.9L211 490.5L212.5 490.4L215.3 490.9L220 493L224 493.7L224 494.1L223 495.4L221.8 496.4L220.8 496.9L214 498.9Z" fill="#57acd9" fill-rule="evenodd"/><path d="M215.5 470.9L213.8 471L211.5 470.8L205 469.4L201.3 468L198.3 466L196.9 464.6L195.5 462.9L194.5 461.1L193.6 459.1L193.1 457.4L192.8 455.4L192.8 453.4L193.2 451.6L195 450.6L203.5 447.8L213.6 443.6L215.8 443.2L218 443.1L220.5 443.4L221 443.8L222.4 445.1L223.3 446.4L224 447.9L224.3 449.4L224.5 451.9L224.3 456.4L223.8 462.1L222.6 465.6L221 468.1L219.9 469.1L218.5 470L217 470.6L215.5 470.9ZM183.3 475.2L182.2 475.1L181.4 474.4L181.3 473.4L182 472.6L183.3 472.5L183.8 472.6L184.3 473.1L184.5 473.6L184.3 474.4L183.9 474.9L183.3 475.2ZM213.8 498.2L212.3 498.4L211 498.2L209.4 497.4L208.8 496.9L208.6 496.4L208.8 495.1L209.3 494.1L210 493.3L211.3 492.7L212.8 492.6L214.3 493L215.3 493.9L216 495.4L216 496.9L215.2 497.6L213.8 498.2Z" fill="#1f90d0" fill-rule="evenodd"/><path d="M212.3 466.4L210.3 466.6L208.3 466.5L206.5 466.1L204.8 465.4L203.3 464.5L202 463.3L201 461.9L200.4 460.4L200.2 458.9L200.2 457.1L200.6 455.4L201.4 453.6L202.5 451.9L204 450.3L205.5 449.2L207 448.6L208.5 448.4L210.3 448.6L212 449.1L213.8 450L215.3 451.1L216.5 452.3L217.5 453.9L218.1 455.4L218.5 457.4L218.5 459.4L218.2 461.1L217.5 462.9L216.7 464.1L215.5 465.2L214 466L212.3 466.4ZM213.3 497.5L211.8 497.5L211.2 497.4L210.6 496.9L210.4 496.4L210.4 495.6L210.7 494.9L211.3 494.4L212 494.1L212.8 494.1L213.5 494.4L214 494.9L214.3 495.6L214.3 496.6L213.9 497.1L213.3 497.5Z" fill="#0b6db8" fill-rule="evenodd"/><path d="M210 463.9L207.8 464L205.5 463.2L204 461.9L202.9 459.9L202.8 457.6L203.6 455.6L205 454L207 453L209.3 452.8L211.5 453.6L213.2 455.1L214.2 457.1L214.3 459.4L213.6 461.4L212.9 462.4L212 463.1L210 463.9Z" fill="#0a50a0" fill-rule="evenodd"/><path d="M208.8 461.9L207.5 461.8L206.3 461.3L205.4 460.4L204.9 459.1L205 457.9L205.6 456.6L206.5 455.8L207.8 455.4L209 455.4L210.3 456L211.1 456.9L211.6 458.1L211.6 459.4L211 460.6L210 461.5L208.8 461.9Z" fill="#08306b" fill-rule="evenodd"/><path d="M218.5 501.4L210 501.4L208 501.3L207.8 501L207 501L206.8 500.8L206.3 500.8L203.8 499.5L203.3 499L202.3 498.5L201.5 497.8L200.5 497.3L200 496.8L199.8 496.8L199.3 496.3L199 496.3L198.5 495.8L198.3 495.8L197.8 495.3L197.5 495.3L197 494.8L196.3 494.5L195.8 494L195 493.8L194.5 493.3L193.8 493L193.3 492.5L192.5 492.3L192 491.8L191.3 491.5L189.5 490.3L188.8 490L186 488L185.8 488L184.5 487L184.3 487L183.5 486.3L183.3 486.3L182.8 485.8L181.8 485.3L179 483L178.8 483L175.6 479.9L175.6 479.6L174.6 478.4L173.4 475.9L173.1 474.1L172.9 473.9L172.7 472.1L172.9 463.6L173.1 463.4L173.1 462.4L173.6 461.4L173.6 460.9L175.1 457.9L175.9 457.1L175.9 456.9L178.8 454L179 454L180 453L180.3 453L183 450.8L183.3 450.8L184.8 449.5L186.3 448.8L186.8 448.3L189.3 447L189.8 447L190 446.8L190.5 446.8L190.8 446.5L191.3 446.5L191.5 446.3L192 446.3L192.3 446L192.8 446L193.8 445.5L194.5 445.5L195.5 445L196.3 445L197.3 444.5L198 444.5L198.3 444.3L199.5 444L199.8 443.8L201 443.5L201.3 443.3L201.8 443.3L204.3 442L204.8 442L209 439.8L209.5 439.8L210.3 439.3L210.8 439.3L212.3 438.5L213 438.5L213.3 438.3L214.3 438.3L214.5 438L216.3 438L216.5 437.9L223.8 437.9L224 438L225.3 438L225.5 438.3L226.3 438.3L226.5 438.5L227 438.5L228.5 439.3L230.6 441.1L230.6 441.4L231.9 442.6L231.9 442.9L233.4 444.9L233.6 445.6L234.1 446.1L234.4 446.9L235.6 448.6L236.1 449.9L236.6 450.4L236.9 451.1L237.9 452.4L238.1 453.1L239.1 454.4L240.1 456.4L240.6 456.9L241.4 458.4L241.4 458.9L241.9 459.6L241.9 460.1L242.1 460.4L242.1 461.4L242.4 461.6L242.4 463.1L242.5 463.4L242.5 471.6L242.4 471.9L242.4 473.9L242.1 474.1L242.1 475.4L241.9 475.6L241.9 476.4L241.6 476.6L241.4 477.9L241.1 478.1L241.1 478.6L240.6 479.4L240.6 479.9L240.1 480.9L239.6 481.4L239.4 482.1L238.4 483.4L238.4 483.6L237.6 484.4L237.1 485.4L235.4 487.4L235.4 487.6L234.6 488.4L234.6 488.6L233.4 489.9L233.4 490.1L229.6 494.1L229.6 494.4L225 499L224.8 499L224 499.8L222 500.8L221.5 500.8L221.3 501L220.5 501L220.3 501.3L218.8 501.3L218.5 501.4Z" fill="none" stroke="#1a1a1a" stroke-width="0.65"/><path d="M233.3 484.2L230.9 481.9L228.8 480.3L226.6 479.1L224.5 478.5L221.8 478.1L214 478.2L204 477.4L197 477.6L193.8 478.1L191.8 479.2L186.8 483.5L186.5 483.7L186 483.7L183.5 482.4L179.8 479.9L178.1 478.4L177 476.9L176.2 475.1L175.7 472.9L175.6 471.1L176 466.6L177 462L178.1 459.6L178.8 458.6L180.5 456.9L186.5 452.3L190.3 450.1L202.8 446.1L206 444.8L210 442.9L214.3 441.4L217.5 441L222.8 441L226 441.7L226.8 442.1L227.9 443.1L229 444.4L230.5 446.6L237.8 458.6L238.8 460.9L239.2 462.6L239.4 464.4L239.4 470.6L238.7 475.4L237.4 478.9L236.5 480.4L234.3 483.4L233.3 484.2ZM213.5 499.4L210.8 499.3L209 498.8L207.3 497.9L198.1 491.6L196.8 490.6L196.5 490.1L199.8 489.1L203 488.4L206.3 488L210.8 487.7L214.3 487.7L219.8 488.1L229.2 489.1L228.6 490.4L226.8 492.7L223.3 496.1L222.3 496.9L220.3 497.8L213.5 499.4Z" fill="none" stroke="#1a1a1a" stroke-width="0.65"/><path d="M212.3 466.4L210.3 466.6L208.3 466.5L206.5 466.1L204.8 465.4L203.3 464.5L202 463.3L201 461.9L200.4 460.4L200.2 458.9L200.2 457.1L200.6 455.4L201.4 453.6L202.5 451.9L204 450.3L205.5 449.2L207 448.6L208.5 448.4L210.3 448.6L212 449.1L213.8 450L215.3 451.1L216.5 452.3L217.5 453.9L218.1 455.4L218.5 457.4L218.5 459.4L218.2 461.1L217.5 462.9L216.7 464.1L215.5 465.2L214 466L212.3 466.4ZM213.3 497.5L211.8 497.5L211.2 497.4L210.6 496.9L210.4 496.4L210.4 495.6L210.7 494.9L211.3 494.4L212 494.1L212.8 494.1L213.5 494.4L214 494.9L214.3 495.6L214.3 496.6L213.9 497.1L213.3 497.5Z" fill="none" stroke="#1a1a1a" stroke-width="0.65"/><path d="M209.5 462.2L208 462.4L206.5 461.9L205.5 461.1L204.7 459.9L204.5 458.4L204.9 456.9L205.8 455.8L207 455L208.5 454.8L210 455.2L211.2 456.1L212 457.4L212.2 458.9L211.8 460.4L210.8 461.6L209.5 462.2Z" fill="none" stroke="#1a1a1a" stroke-width="0.65"/><path d="M200.3 442.9L199.1 446.3L197.3 452.4L195.1 458.9L193.3 464.4L191.7 469.2L192.1 474.9L192.8 480.7L193.8 485.4L194.6 489.9L196.3 496.7L197.3 501.9" fill="none" stroke="#fff" stroke-width="0.7" opacity="0.9" stroke-linejoin="round"/><path d="M176.8 452.9L183.1 458.9L187.3 464.4L191.7 469.2" fill="none" stroke="#fff" stroke-width="0.7" opacity="0.9" stroke-linejoin="round"/><path d="M205.8 442.4L208.3 446.3L216.3 450.9L220.9 453.2L226.6 448.6L229.3 442.9" fill="none" stroke="#fff" stroke-width="0.7" opacity="0.9" stroke-linejoin="round"/><path d="M220.9 453.2L222 462.3L218.6 470.4L217.5 475L218.6 479.5" fill="none" stroke="#fff" stroke-width="0.7" opacity="0.9" stroke-linejoin="round"/><path d="M192.3 480.1L199.1 478.9L208.3 479.5L218.6 480.1L225.5 481.8L230.1 485.3L233.8 488.4" fill="none" stroke="#fff" stroke-width="0.7" opacity="0.9" stroke-linejoin="round"/><path d="M196.8 495.6L204.8 494.4L212.9 495L219.8 496.1L225.5 497.9" fill="none" stroke="#fff" stroke-width="0.7" opacity="0.9" stroke-linejoin="round"/></g>
<text x="207.7" y="433.6" font-size="11.8" text-anchor="middle" fill="#111" font-style="italic">RING1</text>
<rect x="247" y="437.9" width="69.8" height="63.6" fill="#f2f7fd"/>
<g clip-path="url(#fc3)"><path d="M292.7 501.4L284.2 501.4L284 501.3L282.2 501.3L282 501L281.2 501L281 500.8L280.5 500.8L278 499.5L277.5 499L276.5 498.5L275.7 497.8L274.7 497.3L274.2 496.8L274 496.8L271.2 494.8L269.2 493.8L268.7 493.3L268 493L267.5 492.5L266.7 492.3L266.2 491.8L265.5 491.5L265 491L264.2 490.8L263.7 490.3L263 490L261 488.5L260.7 488.5L259.5 487.5L258.5 487L257.7 486.3L257.5 486.3L257 485.8L256 485.3L253.2 483L253 483L249.9 479.9L249.4 478.9L248.9 478.4L247.6 475.9L247.6 475.1L247.4 474.9L247.4 474.1L247.1 473.9L247 472.1L247.1 463.6L247.4 463.4L247.4 462.4L247.9 461.4L247.9 460.9L249.4 457.9L250.1 457.1L250.1 456.9L253 454L253.2 454L254.2 453L254.5 453L257.2 450.8L258.2 450.3L259 449.5L260.5 448.8L261 448.3L263.5 447L264 447L264.2 446.8L264.7 446.8L265 446.5L266.2 446.3L266.5 446L267 446L268 445.5L268.7 445.5L269.7 445L270.5 445L271.5 444.5L272.2 444.5L272.5 444.3L273 444.3L273.2 444L273.7 444L274 443.8L274.5 443.8L274.7 443.5L276 443.3L278.5 442L279 442L283.2 439.8L283.7 439.8L284.5 439.3L285 439.3L286.5 438.5L287.2 438.5L287.5 438.3L288.5 438.3L288.7 438L290.5 438L290.7 437.9L298 437.9L298.2 438L299.5 438L299.7 438.3L300.5 438.3L300.7 438.5L301.2 438.5L302.7 439.3L304.9 441.1L304.9 441.4L306.1 442.6L306.6 443.6L307.6 444.9L307.9 445.6L308.4 446.1L309.4 448.1L309.9 448.6L311.1 451.1L312.1 452.4L312.4 453.1L313.4 454.4L314.4 456.4L314.9 456.9L315.6 458.4L315.6 458.9L316.1 459.6L316.1 460.1L316.4 460.4L316.4 461.4L316.6 461.6L316.6 463.1L316.8 463.4L316.8 471.6L316.6 471.9L316.6 473.9L316.4 474.1L316.4 475.4L316.1 475.6L316.1 476.4L315.9 476.6L315.6 477.9L315.4 478.1L315.4 478.6L314.9 479.4L314.9 479.9L314.4 480.9L313.9 481.4L313.6 482.1L313.1 482.6L312.6 483.6L311.9 484.4L311.4 485.4L309.6 487.4L309.6 487.6L308.9 488.4L308.9 488.6L307.6 489.9L307.6 490.1L303.9 494.1L303.9 494.4L299.2 499L299 499L298.2 499.8L296.2 500.8L295.7 500.8L295.5 501L294.7 501L294.5 501.3L293 501.3L292.7 501.4Z" fill="#d8e7f6" fill-rule="evenodd"/><path d="M292.5 500.2L292 500.3L285 500.3L284.2 500.1L282.7 500.1L281 499.6L278.5 498.3L272 493.8L263.5 488.8L259 485.8L253.5 481.8L251.1 479.4L250 477.7L248.8 475.4L247.9 471.6L247.9 466.1L248.1 465.6L248.6 462.9L249.1 461.4L250.5 458.6L251.4 457.4L254.7 454.3L259.5 450.8L261.7 449.4L264 448.3L276.5 444.4L279.5 443.1L283.7 441L287 439.7L291.2 439L297.5 439L300.7 439.8L302.2 440.5L303.6 441.6L304.9 443.1L306.4 445.4L310.1 451.9L313.7 457.6L315.1 460.9L315.4 463.4L315.6 463.9L315.6 471.1L315.4 471.6L315.1 474.9L313.6 479.4L311.4 483.1L307.6 488.1L303 493.3L302.6 493.9L298.7 497.8L297.7 498.5L295.7 499.5L294 500L292.5 500.2Z" fill="#bed8ee" fill-rule="evenodd"/><path d="M292 498.9L285.2 499L283.2 498.8L281.2 498.3L278.5 496.8L272.6 492.6L264.3 487.6L257.3 482.9L254.2 480.6L252.3 478.6L251.1 476.9L250.2 475.1L249 471.4L248.8 467.9L249 466.4L250.3 461.9L251.6 459.4L252.5 458.2L255.5 455.4L260.3 451.9L262.5 450.5L264.5 449.5L277 445.6L286.7 441.3L289.7 440.6L291.7 440.3L297 440.3L299.5 440.8L301 441.4L302.5 442.5L303.7 443.9L312.7 458.4L313.8 461.1L314.3 464.4L314.3 470.6L313.8 474.6L312.3 479.1L310.2 482.4L306.5 487.4L301.5 493.1L298 496.6L296.7 497.5L295.2 498.3L292 498.9Z" fill="#94c5e2" fill-rule="evenodd"/><path d="M268.5 487.9L268.2 488.1L267.7 488L265.2 486.6L258.2 481.9L255 479.5L253.4 477.9L252.2 476.1L251.3 474.6L250 471.1L249.7 468.6L250 466.6L251.7 462.1L252.7 460.1L255 457.6L259.4 454.1L263.2 451.6L265 450.8L277.5 446.9L280.7 445.5L284.5 443.6L287.2 442.5L292 441.6L296.7 441.6L299.2 442.1L300.5 442.6L302.6 444.6L304.2 447.1L311.5 458.9L312.5 461.4L313 464.6L313 470.4L312.7 472.6L312.3 475.1L311.5 477.4L311 478.6L309.2 481.5L308 483L307.5 483.3L304 480.8L301.5 479.4L298.7 478.1L296.2 477.2L293.5 476.7L282 475.2L279.2 475.1L276.7 475.3L274.7 475.8L273 476.6L271.6 477.6L270.6 478.9L269.8 480.4L269.3 482.1L268.5 487.9ZM297.2 488.4L296 488.2L295 487.6L294.3 486.4L294.1 485.1L294.4 483.9L295.2 482.7L296.5 481.9L297.7 481.7L298.7 482L299.7 482.9L300.2 483.9L300.3 485.1L300 486.4L299.3 487.4L298.2 488.1L297.2 488.4ZM283 495.2L281.7 495.4L280.5 495.2L279.2 494.7L278.4 493.9L277.9 492.9L277.9 491.9L278.2 490.9L279.1 489.9L280.5 489.2L282.2 489.1L283.8 489.6L285 490.6L285.5 491.9L285.3 493.4L284.5 494.4L283 495.2Z" fill="#57acd9" fill-rule="evenodd"/><path d="M310.5 474.5L307.5 473.1L304 472.3L298.7 471.8L291.7 471.9L288.2 471.6L285.6 470.9L280.7 469.1L279 468.6L277.2 468.7L271.7 469.4L270.1 469.4L268.7 469.1L266.7 468.1L262.2 464.6L259.5 461.8L256.9 458.6L256.8 458.4L257.4 457.6L260.2 455.3L262.5 453.6L265.2 452.1L277.7 448.2L281.2 446.7L285 444.8L287.7 443.7L292.2 443L296.5 443L299 443.4L299.9 443.9L301.7 445.6L306.6 453.6L309 457.1L310.7 460.1L311.2 461.7L311.7 464.9L311.5 470.1L311.2 472.4L310.7 474.2L310.5 474.5ZM253.5 473.4L252.7 473.6L251.9 472.6L251 470.9L250.7 469.4L250.7 468.1L251 466.9L252 464.9L252.7 464.1L254.5 464.5L255.7 465.4L256.5 466.6L256.9 468.1L256.8 469.9L256.1 471.4L255 472.6L253.5 473.4Z" fill="#1f90d0" fill-rule="evenodd"/><path d="M276.2 464.9L274.5 465L273.3 464.4L272.7 463.1L272.9 461.4L273.6 459.6L274.8 457.4L280.9 448.6L285 446.4L288.2 445.3L289.5 445.1L291 445.9L291.7 446.7L292.2 447.7L292.5 448.9L292.5 450.4L292.3 452.1L291.7 454.4L291 456.1L290.2 457.4L288.7 458.6L281 463L278.2 464.3L276.2 464.9ZM303 467.4L300.7 467.4L298.7 466.6L296.7 465.1L295.5 463.4L295.1 461.6L295.5 459.9L296.7 458.4L298.5 457.2L301 456.6L303.5 457L304.7 457.5L305.7 458.3L306.5 459.1L307.1 460.1L307.5 461.4L307.5 462.6L307.3 463.9L306.8 464.9L306.1 465.9L305.2 466.6L304.2 467.1L303 467.4Z" fill="#0b6db8" fill-rule="evenodd"/><path d="M277.7 462.5L276.7 462.6L276 462.4L275.5 461.9L275.3 461.1L275.5 460.1L275.9 458.9L277.7 456.1L280 453.7L282.5 451.9L283.7 451.4L284.7 451.2L285.5 451.2L286.2 451.6L286.7 452.6L286.7 453.9L286 455.6L284.8 457.4L283.2 459.1L281.4 460.6L279.5 461.8L277.7 462.5ZM302.5 465.2L301.2 465L300.2 464.5L299.5 463.6L299.1 462.6L299.2 461.4L299.7 460.4L300.7 459.6L301.7 459.3L303 459.4L304 459.9L304.7 460.7L305.2 461.9L305.1 463.1L304.5 464.1L303.5 464.9L302.5 465.2Z" fill="#0a50a0" fill-rule="evenodd"/><path d="M278.7 460.2L278 460L277.8 459.1L278.2 457.9L279 456.8L280.2 455.5L281.5 454.6L282.7 454.2L283.4 454.4L283.7 454.9L283.6 455.6L282.5 457.6L280.6 459.4L278.7 460.2Z" fill="#08306b" fill-rule="evenodd"/><path d="M292.7 501.4L284.2 501.4L284 501.3L282.2 501.3L282 501L281.2 501L281 500.8L280.5 500.8L278 499.5L277.5 499L276.5 498.5L275.7 497.8L274.7 497.3L274.2 496.8L274 496.8L271.2 494.8L269.2 493.8L268.7 493.3L268 493L267.5 492.5L266.7 492.3L266.2 491.8L265.5 491.5L265 491L264.2 490.8L263.7 490.3L263 490L261 488.5L260.7 488.5L259.5 487.5L258.5 487L257.7 486.3L257.5 486.3L257 485.8L256 485.3L253.2 483L253 483L249.9 479.9L249.4 478.9L248.9 478.4L247.6 475.9L247.6 475.1L247.4 474.9L247.4 474.1L247.1 473.9L247 472.1L247.1 463.6L247.4 463.4L247.4 462.4L247.9 461.4L247.9 460.9L249.4 457.9L250.1 457.1L250.1 456.9L253 454L253.2 454L254.2 453L254.5 453L257.2 450.8L258.2 450.3L259 449.5L260.5 448.8L261 448.3L263.5 447L264 447L264.2 446.8L264.7 446.8L265 446.5L266.2 446.3L266.5 446L267 446L268 445.5L268.7 445.5L269.7 445L270.5 445L271.5 444.5L272.2 444.5L272.5 444.3L273 444.3L273.2 444L273.7 444L274 443.8L274.5 443.8L274.7 443.5L276 443.3L278.5 442L279 442L283.2 439.8L283.7 439.8L284.5 439.3L285 439.3L286.5 438.5L287.2 438.5L287.5 438.3L288.5 438.3L288.7 438L290.5 438L290.7 437.9L298 437.9L298.2 438L299.5 438L299.7 438.3L300.5 438.3L300.7 438.5L301.2 438.5L302.7 439.3L304.9 441.1L304.9 441.4L306.1 442.6L306.6 443.6L307.6 444.9L307.9 445.6L308.4 446.1L309.4 448.1L309.9 448.6L311.1 451.1L312.1 452.4L312.4 453.1L313.4 454.4L314.4 456.4L314.9 456.9L315.6 458.4L315.6 458.9L316.1 459.6L316.1 460.1L316.4 460.4L316.4 461.4L316.6 461.6L316.6 463.1L316.8 463.4L316.8 471.6L316.6 471.9L316.6 473.9L316.4 474.1L316.4 475.4L316.1 475.6L316.1 476.4L315.9 476.6L315.6 477.9L315.4 478.1L315.4 478.6L314.9 479.4L314.9 479.9L314.4 480.9L313.9 481.4L313.6 482.1L313.1 482.6L312.6 483.6L311.9 484.4L311.4 485.4L309.6 487.4L309.6 487.6L308.9 488.4L308.9 488.6L307.6 489.9L307.6 490.1L303.9 494.1L303.9 494.4L299.2 499L299 499L298.2 499.8L296.2 500.8L295.7 500.8L295.5 501L294.7 501L294.5 501.3L293 501.3L292.7 501.4Z" fill="none" stroke="#1a1a1a" stroke-width="0.65"/><path d="M272.7 491.5L269.7 490.2L264.7 487.2L257.7 482.4L254.5 479.9L252.7 478.2L251.7 476.6L250.7 474.9L249.4 471.1L249.2 468.6L249.4 466.6L250.5 463.4L252.2 459.6L254.7 456.9L260.7 452.4L263 451L264.7 450.1L277.2 446.2L287 441.9L289.7 441.2L291.7 441L296.7 441L299.5 441.5L301 442.1L303.2 444.4L304.8 446.6L312.1 458.6L313.2 461.4L313.7 464.4L313.7 470.6L312.9 475.4L311.5 479.1L307.8 484.6L306 486.4L305.7 486.5L304 485.4L303 485.3L302.5 485.7L301 487.9L300 489L298.5 489.9L297 490.2L295.7 490L294.7 489.5L293.7 488.6L293.1 487.4L292.8 486.1L292.8 484.6L294 480.6L293.9 480.1L293.3 479.6L290.5 478.9L283 478L279.7 478L277.2 478.4L275.7 479.1L274.6 479.9L273.7 481L273.1 482.4L272.7 483.9L272.5 485.9L272.6 488.6L272.9 491.4L272.7 491.5ZM286.2 497.9L283.2 497.9L282.2 497.7L280.5 497.1L279 496.4L276.3 494.4L274.5 492.6L275.1 491.1L275.9 490.1L277 489.1L278.3 488.4L279.7 487.9L281 487.7L282.5 487.7L284 488.1L285.2 488.7L286.5 489.6L287.3 490.6L287.9 491.9L288.2 493.1L288.2 494.6L287.8 495.9L287 497.3L286.2 497.9Z" fill="none" stroke="#1a1a1a" stroke-width="0.65"/><path d="M276.2 464.9L274.5 465L273.3 464.4L272.7 463.1L272.9 461.4L273.6 459.6L274.8 457.4L280.9 448.6L285 446.4L288.2 445.3L289.5 445.1L291 445.9L291.7 446.7L292.2 447.7L292.5 448.9L292.5 450.4L292.3 452.1L291.7 454.4L291 456.1L290.2 457.4L288.7 458.6L281 463L278.2 464.3L276.2 464.9ZM303 467.4L300.7 467.4L298.7 466.6L296.7 465.1L295.5 463.4L295.1 461.6L295.5 459.9L296.7 458.4L298.5 457.2L301 456.6L303.5 457L304.7 457.5L305.7 458.3L306.5 459.1L307.1 460.1L307.5 461.4L307.5 462.6L307.3 463.9L306.8 464.9L306.1 465.9L305.2 466.6L304.2 467.1L303 467.4Z" fill="none" stroke="#1a1a1a" stroke-width="0.65"/><path d="M278.5 460.7L277.5 460.5L277.2 459.6L277.7 458.1L278.7 456.6L280.2 455.1L281.7 454L283 453.6L284 453.8L284.3 454.4L284.2 455.4L283.8 456.4L282.9 457.6L280.7 459.7L279.5 460.4L278.5 460.7Z" fill="none" stroke="#1a1a1a" stroke-width="0.65"/><path d="M274.5 442.9L273.3 446.3L271.5 452.4L269.3 458.9L267.5 464.4L265.9 469.2L266.3 474.9L267 480.7L268 485.4L268.8 489.9L270.5 496.7L271.5 501.9" fill="none" stroke="#fff" stroke-width="0.7" opacity="0.9" stroke-linejoin="round"/><path d="M251 452.9L257.3 458.9L261.5 464.4L265.9 469.2" fill="none" stroke="#fff" stroke-width="0.7" opacity="0.9" stroke-linejoin="round"/><path d="M280 442.4L282.5 446.3L290.5 450.9L295.1 453.2L300.8 448.6L303.5 442.9" fill="none" stroke="#fff" stroke-width="0.7" opacity="0.9" stroke-linejoin="round"/><path d="M295.1 453.2L296.2 462.3L292.8 470.4L291.7 475L292.8 479.5" fill="none" stroke="#fff" stroke-width="0.7" opacity="0.9" stroke-linejoin="round"/><path d="M266.5 480.1L273.3 478.9L282.5 479.5L292.8 480.1L299.7 481.8L304.3 485.3L308 488.4" fill="none" stroke="#fff" stroke-width="0.7" opacity="0.9" stroke-linejoin="round"/><path d="M271 495.6L279 494.4L287.1 495L294 496.1L299.7 497.9" fill="none" stroke="#fff" stroke-width="0.7" opacity="0.9" stroke-linejoin="round"/></g>
<text x="281.9" y="433.6" font-size="11.8" text-anchor="middle" fill="#111" font-style="italic">EED</text>
<rect x="321.2" y="437.9" width="69.8" height="63.6" fill="#f2f7fd"/>
<g clip-path="url(#fc4)"><path d="M367 501.4L358.5 501.4L358.2 501.3L356.5 501.3L356.2 501L355.5 501L355.2 500.8L354.7 500.8L352.2 499.5L351 498.5L350.7 498.5L350 497.8L349 497.3L348.5 496.8L348.2 496.8L347.7 496.3L347.5 496.3L347 495.8L346.7 495.8L346.2 495.3L346 495.3L345.5 494.8L343.5 493.8L343 493.3L342.2 493L341.7 492.5L341 492.3L340.5 491.8L339.7 491.5L339.2 491L338.5 490.8L338 490.3L337.2 490L334.5 488L334.2 488L333 487L332.7 487L332 486.3L331.7 486.3L330.5 485.3L330.2 485.3L327.5 483L327.2 483L324.1 479.9L324.1 479.6L323.1 478.4L321.8 475.9L321.5 474.1L321.3 473.9L321.2 472.1L321.3 463.6L321.6 463.4L321.6 462.4L322.1 461.4L322.1 460.9L323.6 457.9L324.3 457.1L324.3 456.9L327.2 454L327.5 454L328.5 453L328.7 453L331.5 450.8L332.5 450.3L333.2 449.5L334.7 448.8L335.2 448.3L337.7 447L338.2 447L338.5 446.8L339 446.8L339.2 446.5L339.7 446.5L340 446.3L340.5 446.2L340.7 446L341.2 446L342.2 445.5L343 445.5L344 445L344.7 445L345.7 444.5L346.5 444.5L346.7 444.2L348 444L348.2 443.7L350.2 443.2L352.7 442L353.2 442L357.5 439.8L358 439.8L358.7 439.3L359.2 439.3L360.7 438.5L361.5 438.5L361.7 438.3L362.7 438.3L363 438L364.7 438L365 437.9L372.2 437.9L372.5 438L373.7 438L374 438.3L374.7 438.3L375 438.5L375.5 438.5L377 439.3L379.1 441.1L379.1 441.4L380.3 442.6L380.3 442.9L381.8 444.9L382.1 445.6L383.3 447.4L383.6 448.1L384.1 448.6L384.6 449.9L385.1 450.4L385.3 451.1L386.3 452.4L386.6 453.1L387.6 454.4L387.8 455.1L389.1 456.9L389.8 458.4L389.8 458.9L390.3 459.6L390.3 460.1L390.6 460.4L390.6 461.4L390.8 461.6L390.8 463.1L391 463.4L391 471.6L390.8 471.9L390.8 473.9L390.6 474.1L390.6 475.4L390.3 475.6L390.3 476.4L390.1 476.6L389.8 477.9L389.6 478.1L389.6 478.6L389.1 479.4L389.1 479.9L388.6 480.9L388.1 481.4L387.8 482.1L386.8 483.4L386.8 483.6L386.1 484.4L385.6 485.4L383.8 487.4L383.8 487.6L383.1 488.4L383.1 488.6L381.8 489.9L381.8 490.1L378.1 494.1L378.1 494.4L373.5 499L373.2 499L372.5 499.8L370.5 500.8L370 500.8L369.7 501L369 501L368.7 501.3L367.2 501.3L367 501.4Z" fill="#d8e7f6" fill-rule="evenodd"/><path d="M366.7 500.2L366.2 500.3L359.2 500.3L358.5 500.1L357 500.1L355.2 499.6L352.7 498.3L346.2 493.8L337.7 488.8L327.7 481.9L325.1 479.4L324 477.9L322.7 475.4L322.1 471.6L322.3 466.1L322.5 465.6L322.8 462.9L323.3 461.4L324.7 458.6L325.6 457.4L329 454.3L333.7 450.7L335.8 449.4L338.2 448.1L342.7 446.6L346.7 445.5L352 443.7L358 440.8L361.2 439.6L363.5 439.1L365 439.1L365.5 438.9L371.7 439L375 439.8L376.5 440.5L377.8 441.6L379.1 443.1L380.6 445.4L384.4 451.9L388 457.6L389.4 460.9L389.7 463.4L389.9 463.9L389.9 471.1L389.7 471.6L389.4 474.9L387.9 479.4L385.6 483.1L381.8 488.1L377.2 493.3L376.8 493.9L373 497.8L372 498.5L370 499.5L368.2 500.1L366.7 500.2Z" fill="#bed8ee" fill-rule="evenodd"/><path d="M366.2 498.9L359.5 499.1L357.2 498.8L355.5 498.3L353.5 497.2L346.9 492.6L338.5 487.6L328.5 480.9L326.1 478.9L325 477.4L323.7 475.1L323.3 473.1L323.1 471.4L323.5 466.6L324.1 463.4L324.6 461.9L325.8 459.4L326.7 458.1L329.7 455.4L334.5 451.8L336.7 450.4L338.5 449.4L343 447.8L352.5 444.8L354.7 443.8L358.2 442L361.5 440.7L366 440.2L371.2 440.3L374 440.9L375.3 441.4L376.7 442.5L378 443.9L386.9 458.4L388 461.1L388.6 464.4L388.6 470.6L388 474.6L386.5 479.1L384.5 482.4L380.7 487.4L375.7 493.1L372.2 496.6L371 497.5L369.5 498.3L366.2 498.9Z" fill="#94c5e2" fill-rule="evenodd"/><path d="M343.7 488.9L342 488.2L339.4 486.6L329 479.7L327 478.2L325.4 476.1L324.7 474.9L324.5 473.9L324.2 471.1L324.8 466.9L325.5 463.5L325.9 462.1L327 460.1L327.9 458.9L330.6 456.4L336 452.4L339 450.6L343.2 448.9L354.5 445.3L358.5 443L361 441.9L364 441.4L371 441.6L373.5 442.1L374.8 442.6L376.8 444.6L378.5 447.1L385.7 459.1L386.7 461.4L387.2 464.6L387.2 470.4L387 472.6L386.5 475.1L385.8 477.4L385.3 478.6L383.8 480.9L381.5 484.1L380.5 484.7L377.2 482.2L374.9 480.6L372.5 479.4L370 478.5L366.7 477.7L356.2 475.9L353.5 475.8L351 476L349.2 476.5L347.7 477.3L346.5 478.4L345.6 479.6L344.6 482.4L344 488.6L343.7 488.9ZM362.2 497.7L359.5 497.8L357.5 497.5L356 496.9L355.1 496.1L354.5 495.1L354.4 493.9L354.8 492.9L355.5 492.1L356.5 491.5L359 490.7L361.7 490.8L364 491.7L364.8 492.4L365.4 493.1L365.7 494.1L365.6 495.1L365 496.1L364.2 496.9L363.3 497.4L362.2 497.7Z" fill="#57acd9" fill-rule="evenodd"/><path d="M335.7 481.9L333.9 481.1L329.8 478.9L328 477.6L326.3 475.6L325.7 474.6L325.5 473.6L325.3 470.9L326 467.1L326.9 463.6L328.1 460.9L330 458.6L336.7 453.4L339.5 451.7L345.2 449.4L355.2 446.2L359 443.9L361.5 442.7L364.2 442.4L370.7 443L373.7 443.6L375 444.6L375.9 445.6L377.2 447.6L383 457.1L384.7 459.9L385.4 461.9L385.9 464.9L385.9 470.1L385.6 472.6L385.2 474.9L384.5 476.9L384 478.1L383 479.6L382.5 479.9L382.2 479.9L377.5 476.8L375.5 475.9L373.2 475.1L370.5 474.5L362.5 473.3L353.5 470.7L349.7 470.4L347.2 470.7L344.5 471.5L342 472.5L340 473.8L338.9 474.9L337.8 476.6L335.7 481.9ZM361 495.7L359.2 495.7L358 495.2L357.3 494.1L357.7 493.1L358.5 492.6L359.7 492.3L361 492.4L362.1 492.9L362.6 493.6L362.6 494.4L362.1 495.1L361 495.7Z" fill="#1f90d0" fill-rule="evenodd"/><path d="M375.5 470.9L373.5 471.1L371.2 471L366 470.1L362.5 468.9L357.9 466.6L355.4 465.6L346 463.5L343 462.6L340.7 461.5L338.9 460.1L337.1 458.1L335.9 456.1L337.3 454.6L340 452.8L345.5 450.5L355.7 447.2L357.5 446.3L360.5 444.2L361.7 443.7L363 443.5L364.5 443.5L370.7 444.3L373 444.8L373.9 445.4L375.1 446.9L378.2 452.2L378.6 453.6L378.2 454.9L378.3 456.1L381.1 460.9L381.6 462.1L381.9 463.6L381.7 466.1L381.2 467.4L380.5 468.4L379.5 469.3L378.5 470L377 470.6L375.5 470.9ZM329.2 476.7L328.2 476.3L327.2 475.2L326.7 474.4L326.3 472.6L326.5 470.9L326.7 470.3L327.2 469.9L328.2 469.6L329.7 469.7L331 470.4L331.8 471.4L332.2 472.6L332.1 474.1L331.5 475.3L330.5 476.2L329.2 476.7Z" fill="#0b6db8" fill-rule="evenodd"/><path d="M373 468.4L370.7 468.2L368.5 467.1L366.9 465.6L365.2 463L364.5 462.5L363.2 462.3L358.2 462.4L354.5 462L350.6 461.1L347.6 459.9L345.6 458.4L344.4 456.6L344.2 455.6L344.1 454.6L344.8 452.6L345.4 451.9L347.3 450.9L357.2 447.7L361 445.3L362.2 444.7L364.5 444.6L366.5 445.2L366.8 445.6L366.8 446.1L365.8 449.1L365.8 450.1L366.8 453.6L367.4 457.4L367.7 458.4L368.7 459L372.5 459.5L374.7 460.3L376.5 461.6L377.4 463.4L377.5 465.1L377.1 466.1L376.5 466.9L375 468L373 468.4Z" fill="#0a50a0" fill-rule="evenodd"/><path d="M357.2 459.2L355.2 459.3L353.2 459L351.5 458.5L350.1 457.6L349.2 456.6L348.8 455.4L349 454.1L349.6 453.1L350.5 452.3L351.7 451.6L353 451.1L354.5 450.8L357.2 451L358.5 451.5L359.5 452.1L360.5 453.1L361 454.1L361.3 455.4L361.1 456.4L360.6 457.4L359.8 458.1L358.7 458.8L357.2 459.2ZM373.2 465.5L372.2 465.5L371.3 464.9L371.1 464.1L371.5 463.4L372 463.1L372.7 463L373.5 463.3L373.9 463.6L374.1 464.1L374.1 464.6L373.8 465.1L373.2 465.5Z" fill="#08306b" fill-rule="evenodd"/><path d="M367 501.4L358.5 501.4L358.2 501.3L356.5 501.3L356.2 501L355.5 501L355.2 500.8L354.7 500.8L352.2 499.5L351 498.5L350.7 498.5L350 497.8L349 497.3L348.5 496.8L348.2 496.8L347.7 496.3L347.5 496.3L347 495.8L346.7 495.8L346.2 495.3L346 495.3L345.5 494.8L343.5 493.8L343 493.3L342.2 493L341.7 492.5L341 492.3L340.5 491.8L339.7 491.5L339.2 491L338.5 490.8L338 490.3L337.2 490L334.5 488L334.2 488L333 487L332.7 487L332 486.3L331.7 486.3L330.5 485.3L330.2 485.3L327.5 483L327.2 483L324.1 479.9L324.1 479.6L323.1 478.4L321.8 475.9L321.5 474.1L321.3 473.9L321.2 472.1L321.3 463.6L321.6 463.4L321.6 462.4L322.1 461.4L322.1 460.9L323.6 457.9L324.3 457.1L324.3 456.9L327.2 454L327.5 454L328.5 453L328.7 453L331.5 450.8L332.5 450.3L333.2 449.5L334.7 448.8L335.2 448.3L337.7 447L338.2 447L338.5 446.8L339 446.8L339.2 446.5L339.7 446.5L340 446.3L340.5 446.2L340.7 446L341.2 446L342.2 445.5L343 445.5L344 445L344.7 445L345.7 444.5L346.5 444.5L346.7 444.2L348 444L348.2 443.7L350.2 443.2L352.7 442L353.2 442L357.5 439.8L358 439.8L358.7 439.3L359.2 439.3L360.7 438.5L361.5 438.5L361.7 438.3L362.7 438.3L363 438L364.7 438L365 437.9L372.2 437.9L372.5 438L373.7 438L374 438.3L374.7 438.3L375 438.5L375.5 438.5L377 439.3L379.1 441.1L379.1 441.4L380.3 442.6L380.3 442.9L381.8 444.9L382.1 445.6L383.3 447.4L383.6 448.1L384.1 448.6L384.6 449.9L385.1 450.4L385.3 451.1L386.3 452.4L386.6 453.1L387.6 454.4L387.8 455.1L389.1 456.9L389.8 458.4L389.8 458.9L390.3 459.6L390.3 460.1L390.6 460.4L390.6 461.4L390.8 461.6L390.8 463.1L391 463.4L391 471.6L390.8 471.9L390.8 473.9L390.6 474.1L390.6 475.4L390.3 475.6L390.3 476.4L390.1 476.6L389.8 477.9L389.6 478.1L389.6 478.6L389.1 479.4L389.1 479.9L388.6 480.9L388.1 481.4L387.8 482.1L386.8 483.4L386.8 483.6L386.1 484.4L385.6 485.4L383.8 487.4L383.8 487.6L383.1 488.4L383.1 488.6L381.8 489.9L381.8 490.1L378.1 494.1L378.1 494.4L373.5 499L373.2 499L372.5 499.8L370.5 500.8L370 500.8L369.7 501L369 501L368.7 501.3L367.2 501.3L367 501.4Z" fill="none" stroke="#1a1a1a" stroke-width="0.65"/><path d="M364 498.4L359.5 498.5L357.5 498.2L355.2 497.5L354 496.8L348 492.5L339 487.2L328.7 480.3L326.5 478.4L325.3 476.9L324.3 475.1L323.8 473.1L323.7 471.1L324.1 466.6L324.8 463.4L325.2 462.1L326.4 459.6L327.2 458.6L330.2 455.9L335 452.3L337.2 450.8L338.7 450L342.5 448.6L351.2 445.8L354.4 444.6L358.5 442.4L361 441.4L364 440.9L371.2 441L373.7 441.5L375.2 442.1L377.5 444.4L386.4 458.9L387.4 461.4L387.9 464.4L387.9 470.6L387.6 471.6L387.6 472.9L387.1 475.4L385.7 479.1L382 484.7L380.2 486.9L378.7 488.2L378.4 488.1L375.9 485.1L373.5 483.1L370.7 481.5L367.6 480.4L359.5 478.9L355 478.5L353.2 478.6L351.7 479L350.5 479.5L349.4 480.4L348.7 481.4L348.2 482.6L347.9 484.1L348 485.9L348.3 487.4L348.7 488.6L349.5 489.7L350.5 490.4L351.5 490.6L352.5 490.6L357.7 489.4L361 489.2L364 489.7L369.2 491.3L375.1 491.9L375 492.5L374.3 493.4L371.9 495.9L370.7 496.9L369.2 497.6L367.7 498L364 498.4Z" fill="none" stroke="#1a1a1a" stroke-width="0.65"/><path d="M375.5 470.9L373.5 471.1L371.2 471L366 470.1L362.5 468.9L357.9 466.6L355.4 465.6L346 463.5L343 462.6L340.7 461.5L338.9 460.1L337.1 458.1L335.9 456.1L337.3 454.6L340 452.8L345.5 450.5L355.7 447.2L357.5 446.3L360.5 444.2L361.7 443.7L363 443.5L364.5 443.5L370.7 444.3L373 444.8L373.9 445.4L375.1 446.9L378.2 452.2L378.6 453.6L378.2 454.9L378.3 456.1L381.1 460.9L381.6 462.1L381.9 463.6L381.7 466.1L381.2 467.4L380.5 468.4L379.5 469.3L378.5 470L377 470.6L375.5 470.9ZM329.2 476.7L328.2 476.3L327.2 475.2L326.7 474.4L326.3 472.6L326.5 470.9L326.7 470.3L327.2 469.9L328.2 469.6L329.7 469.7L331 470.4L331.8 471.4L332.2 472.6L332.1 474.1L331.5 475.3L330.5 476.2L329.2 476.7Z" fill="none" stroke="#1a1a1a" stroke-width="0.65"/><path d="M362.5 446.7L361.7 446.9L361.4 446.6L362.5 445.9L363 445.9L363.2 446.1L362.5 446.7ZM356 459.9L353.7 459.7L351.6 459.1L349.7 458.2L348.6 457.1L348 455.9L348 454.4L348.7 452.9L350 451.7L351.2 451L352.7 450.4L354.5 450.1L356.5 450L358 450.3L359.2 450.8L360.4 451.6L361.3 452.6L362 453.9L362.3 455.1L362.2 456.4L361.7 457.6L360.7 458.6L359.5 459.3L358 459.7L356 459.9ZM373.5 466.2L372.7 466.3L371.7 466.2L370.5 465.3L370.1 464.6L370 463.9L370.2 463.3L370.7 462.7L371.7 462.2L372.7 462.2L373.7 462.5L374.6 463.1L375 463.9L375 464.9L374.5 465.7L373.5 466.2Z" fill="none" stroke="#1a1a1a" stroke-width="0.65"/><path d="M348.7 442.9L347.5 446.3L345.7 452.4L343.5 458.9L341.7 464.4L340.1 469.2L340.5 474.9L341.2 480.7L342.2 485.4L343 489.9L344.7 496.7L345.7 501.9" fill="none" stroke="#fff" stroke-width="0.7" opacity="0.9" stroke-linejoin="round"/><path d="M325.2 452.9L331.5 458.9L335.7 464.4L340.1 469.2" fill="none" stroke="#fff" stroke-width="0.7" opacity="0.9" stroke-linejoin="round"/><path d="M354.2 442.4L356.7 446.3L364.7 450.9L369.3 453.2L375 448.6L377.7 442.9" fill="none" stroke="#fff" stroke-width="0.7" opacity="0.9" stroke-linejoin="round"/><path d="M369.3 453.2L370.4 462.3L367 470.4L365.9 475L367 479.5" fill="none" stroke="#fff" stroke-width="0.7" opacity="0.9" stroke-linejoin="round"/><path d="M340.7 480.1L347.5 478.9L356.7 479.5L367 480.1L373.9 481.8L378.5 485.3L382.2 488.4" fill="none" stroke="#fff" stroke-width="0.7" opacity="0.9" stroke-linejoin="round"/><path d="M345.2 495.6L353.2 494.4L361.3 495L368.2 496.1L373.9 497.9" fill="none" stroke="#fff" stroke-width="0.7" opacity="0.9" stroke-linejoin="round"/></g>
<text x="356.1" y="433.6" font-size="11.8" text-anchor="middle" fill="#111" font-style="italic">EZH2</text>
<rect x="395.5" y="437.9" width="69.8" height="63.6" fill="#f2f7fd"/>
<g clip-path="url(#fc5)"><path d="M441.2 501.4L432.7 501.4L432.5 501.3L430.7 501.3L430.5 501L429.7 501L429.5 500.8L429 500.8L426.5 499.5L426 499L425 498.5L424.2 497.8L424 497.8L422 496.3L421.7 496.3L419.7 494.8L417.7 493.8L417.2 493.3L416.5 493L416 492.5L415.2 492.3L414.7 491.8L414 491.5L413.5 491L412.7 490.8L412.2 490.3L411.5 490L410.2 489L410 489L407.2 487L407 487L406.2 486.3L406 486.3L404.7 485.3L404.5 485.3L401.7 483L401.5 483L398.3 479.9L398.3 479.6L397.3 478.4L396.1 475.9L396.1 475.1L395.8 474.9L395.8 474.1L395.6 473.9L395.6 472.4L395.4 472.1L395.6 463.6L395.8 463.4L395.8 462.4L396.3 461.4L396.3 460.9L397.8 457.9L398.6 457.1L398.6 456.9L401.5 454L401.7 454L402.7 453L403 453L405.7 450.8L406.7 450.3L408.2 449L409 448.8L409.5 448.3L412 447L412.5 447L412.7 446.8L413.2 446.8L413.5 446.5L414 446.5L414.2 446.3L414.7 446.3L415 446L416.2 445.8L416.5 445.5L417.2 445.5L418.2 445L419 445L420 444.5L420.7 444.5L421 444.3L421.5 444.3L421.7 444L422.2 444L422.5 443.8L423 443.8L423.2 443.5L424.5 443.3L427 442L427.5 442L431.7 439.8L432.2 439.8L433 439.3L433.5 439.3L435 438.5L435.7 438.5L436 438.3L437 438.3L437.2 438L439 438L439.2 437.9L446.5 437.9L446.7 438L448 438L448.2 438.3L449 438.3L449.2 438.5L449.7 438.5L451.2 439.3L453.3 441.1L453.3 441.4L454.6 442.6L454.6 442.9L455.6 444.1L455.6 444.4L456.1 444.9L456.3 445.6L456.8 446.1L457.8 448.1L458.3 448.6L459.6 451.1L460.6 452.4L460.8 453.1L461.3 453.6L462.1 455.1L462.6 455.6L462.8 456.4L463.3 456.9L464.1 458.4L464.1 458.9L464.6 459.6L464.6 460.1L464.8 460.4L464.8 461.4L465.1 461.6L465.1 463.1L465.2 463.4L465.2 471.6L465.1 471.9L465.1 473.9L464.8 474.1L464.8 475.4L464.6 475.6L464.6 476.4L464.3 476.6L464.1 477.9L463.8 478.1L463.8 478.6L463.3 479.4L463.3 479.9L462.8 480.9L462.3 481.4L462.1 482.1L461.6 482.6L461.1 483.6L460.3 484.4L459.8 485.4L458.1 487.4L458.1 487.6L457.3 488.4L457.3 488.6L456.1 489.9L456.1 490.1L452.3 494.1L452.3 494.4L447.7 499L447.5 499L446.7 499.8L444.7 500.8L444.2 500.8L444 501L443.2 501L443 501.3L441.5 501.3L441.2 501.4Z" fill="#d8e7f6" fill-rule="evenodd"/><path d="M441 500.2L440.5 500.3L433.5 500.3L432.7 500.1L431.2 500.1L429.5 499.6L427 498.3L420.5 493.8L412 488.8L407.5 485.8L402 481.8L399.6 479.4L398.5 477.7L397.3 475.4L396.5 471.6L396.5 466.1L396.7 465.6L397 462.9L397.5 461.4L399 458.6L399.8 457.4L403.2 454.3L408 450.8L410.2 449.4L412.5 448.3L425 444.3L428 443.1L432.2 441L435.5 439.7L439.7 439L446 439L449.2 439.8L450.7 440.5L452.1 441.6L453.3 443.1L454.8 445.4L458.6 451.9L462.2 457.6L463.6 460.9L463.9 463.4L464.1 463.9L464.1 471.1L463.9 471.6L463.6 474.9L462.1 479.4L459.8 483.1L456.1 488.1L451.5 493.3L451.1 493.9L447.2 497.8L446.2 498.5L444.2 499.6L442.5 500.1L441 500.2ZM438.4 486.6L440 485.9L440.8 484.9L441 484.1L441 483.4L440.3 482.1L438.8 481.1L437 480.8L435.2 481L433.8 481.9L433.3 482.6L433.1 483.6L433.5 484.6L434.1 485.4L435.1 486.1L436.2 486.6L437.2 486.8L438.4 486.6Z" fill="#bed8ee" fill-rule="evenodd"/><path d="M440.5 499L433.7 499L430.5 498.5L428.2 497.6L426.2 496.3L418.7 491L411.2 486.6L402.7 480.6L400.7 478.6L398.6 475.1L397.7 471.1L397.8 466.6L398.3 463.4L398.8 461.9L400.1 459.4L401 458.1L404 455.4L408.7 451.9L411 450.5L413 449.5L425.2 445.6L435.2 441.3L438.2 440.6L440.2 440.3L445.5 440.3L448 440.8L449.5 441.4L451 442.5L452.2 443.9L461.1 458.4L462.1 460.6L462.8 464.4L462.8 470.6L462.5 471.6L462.5 472.9L462 475.6L460.8 478.9L458.7 482.4L455 487.2L453.5 488.3L453.2 487.4L452.4 486.1L450.2 483.6L447.2 481.4L443.9 479.6L441 478.6L438.2 477.9L428.2 476.2L424.7 476L423 476.1L421.5 476.5L420 477.1L419 477.9L418.1 478.9L417.5 480.1L416.8 482.9L416.8 485.6L417.4 487.9L418.2 489.1L419.7 489.9L422 489.9L428 488.7L431 488.5L437.7 489.2L443.2 489.3L449.2 490L452.1 489.9L451.7 490.9L449.9 493.1L446.5 496.7L445.2 497.6L443.7 498.3L440.5 499Z" fill="#94c5e2" fill-rule="evenodd"/><path d="M456.5 482.7L451 478.9L446.7 476.8L443.7 475.9L437 474.6L429.5 472.8L426.8 471.9L424.5 470.8L422.1 469.4L413.1 462.9L411 460.9L406.5 456.1L406.5 455.6L408 454.2L409.7 452.9L413.2 450.9L421.8 448.1L425.7 446.7L435.7 442.5L440.5 441.6L445.2 441.6L447.7 442.1L449 442.6L450.1 443.6L451.6 445.4L458.5 456.6L460.2 459.6L460.8 461.1L461.2 462.9L461.5 464.6L461.5 470.4L460.7 475.1L459.5 478.7L457.7 481.5L456.5 482.7ZM404.7 473.4L403.2 473.4L402 472.8L401 471.6L400.5 470.1L400.7 468.6L401.5 467.4L402.7 466.4L404.2 466L405.5 466.1L406.7 466.7L407.5 467.6L408 469.1L407.8 470.6L407.2 471.9L406.1 472.9L404.7 473.4ZM435.7 496.7L432.7 496.7L430.2 496L429.3 495.4L428.7 494.6L428.6 493.9L428.8 493.1L429.4 492.4L430.2 491.9L431.5 491.4L433 491.2L436 491.4L437.7 491.9L438.7 492.4L439.3 492.9L439.7 493.6L439.7 494.4L439.4 494.9L439 495.4L438 496L435.7 496.7Z" fill="#57acd9" fill-rule="evenodd"/><path d="M458 477.8L453.2 475L449.7 473.5L447 472.9L440 471.9L430.7 470.2L428.5 469.4L426.8 468.4L425.7 467.4L424.7 466.1L423.9 464.6L423.3 462.9L422.8 460.1L422.2 453.4L421.6 449.9L422.8 449.1L433.5 444.8L437.5 443.4L440.7 443L445 443.2L447.5 443.9L448.8 444.6L450 445.7L451.5 447.7L458.7 459.6L459.6 461.6L460.2 464.9L460.1 470.1L459.4 474.9L458.7 476.8L458 477.8Z" fill="#1f90d0" fill-rule="evenodd"/><path d="M450.2 468.2L448.5 468.3L446.5 468.2L438.5 466.8L436.7 466.9L433 467.5L431.2 467.6L429.5 467.2L428 466.3L426.8 465.1L425.9 463.6L425.3 461.9L425 459.9L424.9 457.6L425.1 455.4L426.2 449.4L427.3 448.6L429 447.9L433.7 446.2L435 446.1L435.7 446.6L439.9 450.1L442.6 452.6L443.8 454.1L445.5 457.1L446.4 458.1L447.5 458.9L451.7 460.7L452.9 461.6L453.7 462.5L454.3 464.1L454.2 465.1L453.9 465.9L453.3 466.6L452.5 467.3L450.2 468.2Z" fill="#0b6db8" fill-rule="evenodd"/><path d="M432 464.7L430.2 464.8L429.2 464.4L428.5 463.8L427.3 461.9L426.8 459.6L426.9 456.6L427.9 453.9L429.2 452.2L430 451.7L431 451.5L431.7 451.6L432.7 452L434.1 453.4L435.2 455.4L435.7 457.6L435.5 460.1L434.9 462.1L433.5 463.9L432 464.7Z" fill="#0a50a0" fill-rule="evenodd"/><path d="M431 461.2L430.2 461.2L429.7 460.9L429.3 460.1L429.1 459.4L429.1 458.4L429.5 457.4L430 456.8L430.5 456.6L431.2 456.7L431.7 457.1L432.2 458.6L432 460.2L431.5 460.9L431 461.2Z" fill="#08306b" fill-rule="evenodd"/><path d="M441.2 501.4L432.7 501.4L432.5 501.3L430.7 501.3L430.5 501L429.7 501L429.5 500.8L429 500.8L426.5 499.5L426 499L425 498.5L424.2 497.8L424 497.8L422 496.3L421.7 496.3L419.7 494.8L417.7 493.8L417.2 493.3L416.5 493L416 492.5L415.2 492.3L414.7 491.8L414 491.5L413.5 491L412.7 490.8L412.2 490.3L411.5 490L410.2 489L410 489L407.2 487L407 487L406.2 486.3L406 486.3L404.7 485.3L404.5 485.3L401.7 483L401.5 483L398.3 479.9L398.3 479.6L397.3 478.4L396.1 475.9L396.1 475.1L395.8 474.9L395.8 474.1L395.6 473.9L395.6 472.4L395.4 472.1L395.6 463.6L395.8 463.4L395.8 462.4L396.3 461.4L396.3 460.9L397.8 457.9L398.6 457.1L398.6 456.9L401.5 454L401.7 454L402.7 453L403 453L405.7 450.8L406.7 450.3L408.2 449L409 448.8L409.5 448.3L412 447L412.5 447L412.7 446.8L413.2 446.8L413.5 446.5L414 446.5L414.2 446.3L414.7 446.3L415 446L416.2 445.8L416.5 445.5L417.2 445.5L418.2 445L419 445L420 444.5L420.7 444.5L421 444.3L421.5 444.3L421.7 444L422.2 444L422.5 443.8L423 443.8L423.2 443.5L424.5 443.3L427 442L427.5 442L431.7 439.8L432.2 439.8L433 439.3L433.5 439.3L435 438.5L435.7 438.5L436 438.3L437 438.3L437.2 438L439 438L439.2 437.9L446.5 437.9L446.7 438L448 438L448.2 438.3L449 438.3L449.2 438.5L449.7 438.5L451.2 439.3L453.3 441.1L453.3 441.4L454.6 442.6L454.6 442.9L455.6 444.1L455.6 444.4L456.1 444.9L456.3 445.6L456.8 446.1L457.8 448.1L458.3 448.6L459.6 451.1L460.6 452.4L460.8 453.1L461.3 453.6L462.1 455.1L462.6 455.6L462.8 456.4L463.3 456.9L464.1 458.4L464.1 458.9L464.6 459.6L464.6 460.1L464.8 460.4L464.8 461.4L465.1 461.6L465.1 463.1L465.2 463.4L465.2 471.6L465.1 471.9L465.1 473.9L464.8 474.1L464.8 475.4L464.6 475.6L464.6 476.4L464.3 476.6L464.1 477.9L463.8 478.1L463.8 478.6L463.3 479.4L463.3 479.9L462.8 480.9L462.3 481.4L462.1 482.1L461.6 482.6L461.1 483.6L460.3 484.4L459.8 485.4L458.1 487.4L458.1 487.6L457.3 488.4L457.3 488.6L456.1 489.9L456.1 490.1L452.3 494.1L452.3 494.4L447.7 499L447.5 499L446.7 499.8L444.7 500.8L444.2 500.8L444 501L443.2 501L443 501.3L441.5 501.3L441.2 501.4Z" fill="none" stroke="#1a1a1a" stroke-width="0.65"/><path d="M456 484.7L455.5 484.8L452.2 482.1L449.4 480.1L447.2 479L445 478.1L440.8 476.9L424.7 473.4L422 472.9L420 472.9L417.7 473.1L415 473.6L412.9 474.1L411.1 475.1L406.5 478.8L404.2 480L403.7 479.9L401.5 478L400.4 476.6L399.4 474.9L398.7 472.9L398.4 471.1L398.5 466.9L398.9 464.6L399.7 462.1L400.9 459.6L401.5 458.6L403.2 456.9L409.2 452.4L413 450.2L425.5 446.2L432.7 442.9L437 441.5L440.2 441L445.2 441L447 441.2L448.7 441.7L449.5 442.1L450.6 443.1L451.7 444.4L453.2 446.6L460.5 458.6L461.5 460.9L461.9 462.6L462.1 464.4L462.1 470.6L461.4 475.4L460 479.1L457 483.6L456 484.7ZM437.7 498.4L433.7 498.4L431.7 498.2L430 497.7L428.2 496.9L426.7 495.9L424.2 493.9L424.1 493.4L426.3 491.6L428.5 490.7L431 490L433.5 489.9L437.6 490.4L440.8 491.1L442.6 491.9L447.2 494.4L446 496.1L445 496.9L443.5 497.6L440.2 498.4L437.7 498.4Z" fill="none" stroke="#1a1a1a" stroke-width="0.65"/><path d="M450.2 468.2L448.5 468.3L446.5 468.2L438.5 466.8L436.7 466.9L433 467.5L431.2 467.6L429.5 467.2L428 466.3L426.8 465.1L425.9 463.6L425.3 461.9L425 459.9L424.9 457.6L425.1 455.4L426.2 449.4L427.3 448.6L429 447.9L433.7 446.2L435 446.1L435.7 446.6L439.9 450.1L442.6 452.6L443.8 454.1L445.5 457.1L446.4 458.1L447.5 458.9L451.7 460.7L452.9 461.6L453.7 462.5L454.3 464.1L454.2 465.1L453.9 465.9L453.3 466.6L452.5 467.3L450.2 468.2Z" fill="none" stroke="#1a1a1a" stroke-width="0.65"/><path d="M431.2 462.2L430.2 462.2L429.5 461.8L428.7 460.6L428.5 459.4L428.6 457.9L429 456.6L429.7 455.8L430.7 455.4L431.5 455.6L432.2 456.3L432.7 457.2L433 458.4L432.9 459.6L432.5 460.9L432 461.7L431.2 462.2Z" fill="none" stroke="#1a1a1a" stroke-width="0.65"/><path d="M423 442.9L421.8 446.3L420 452.4L417.8 458.9L416 464.4L414.4 469.2L414.8 474.9L415.5 480.7L416.5 485.4L417.3 489.9L419 496.7L420 501.9" fill="none" stroke="#fff" stroke-width="0.7" opacity="0.9" stroke-linejoin="round"/><path d="M399.5 452.9L405.8 458.9L410 464.4L414.4 469.2" fill="none" stroke="#fff" stroke-width="0.7" opacity="0.9" stroke-linejoin="round"/><path d="M428.5 442.4L431 446.3L439 450.9L443.6 453.2L449.3 448.6L452 442.9" fill="none" stroke="#fff" stroke-width="0.7" opacity="0.9" stroke-linejoin="round"/><path d="M443.6 453.2L444.7 462.3L441.3 470.4L440.2 475L441.3 479.5" fill="none" stroke="#fff" stroke-width="0.7" opacity="0.9" stroke-linejoin="round"/><path d="M415 480.1L421.8 478.9L431 479.5L441.3 480.1L448.2 481.8L452.8 485.3L456.5 488.4" fill="none" stroke="#fff" stroke-width="0.7" opacity="0.9" stroke-linejoin="round"/><path d="M419.5 495.6L427.5 494.4L435.6 495L442.5 496.1L448.2 497.9" fill="none" stroke="#fff" stroke-width="0.7" opacity="0.9" stroke-linejoin="round"/></g>
<text x="430.4" y="433.6" font-size="11.8" text-anchor="middle" fill="#111" font-style="italic">SUZ12</text>
<rect x="469.7" y="437.9" width="69.8" height="63.6" fill="#f2f7fd"/>
<g clip-path="url(#fc6)"><path d="M515.4 501.4L506.9 501.4L506.7 501.3L504.9 501.3L504.7 501L503.9 501L503.7 500.8L503.2 500.8L500.7 499.5L500.2 499L499.2 498.5L498.4 497.8L498.2 497.8L496.2 496.3L495.9 496.3L493.9 494.8L493.2 494.5L491.4 493.3L490.7 493L488.9 491.8L488.2 491.5L487.7 491L486.9 490.8L486.4 490.3L485.7 490L483.7 488.5L482.7 488L482.2 487.5L481.9 487.5L481.4 487L481.2 487L480.4 486.3L480.2 486.3L478.9 485.3L478.7 485.3L475.9 483L475.7 483L472.6 479.9L472.6 479.6L471.6 478.4L470.3 475.9L470.3 475.1L470.1 474.9L470 474.1L469.8 473.9L469.7 472.1L469.8 463.6L470 463.4L470.1 462.4L470.6 461.4L470.6 460.9L472.1 457.9L472.8 457.1L472.8 456.9L475.7 454L475.9 454L476.9 453L477.2 453L479.9 450.8L480.9 450.3L481.7 449.5L483.2 448.8L483.7 448.3L486.2 447L486.7 447L486.9 446.8L487.4 446.8L487.7 446.5L488.2 446.5L488.4 446.3L488.9 446.3L489.2 446L490.4 445.8L490.7 445.5L491.4 445.5L492.4 445L493.2 445L494.2 444.5L494.9 444.5L495.2 444.2L495.7 444.2L496.7 443.7L498.7 443.2L501.2 441.9L501.7 441.9L505.9 439.7L506.4 439.7L507.2 439.2L507.7 439.2L509.2 438.5L509.9 438.5L510.2 438.2L511.2 438.2L511.4 438L513.4 437.9L520.7 437.9L520.9 438L522.2 438L522.4 438.3L523.2 438.3L523.4 438.5L523.9 438.5L525.4 439.3L527.6 441.1L527.6 441.4L528.8 442.6L529.3 443.6L529.8 444.1L529.8 444.4L530.3 444.9L530.6 445.6L531.8 447.4L532.1 448.1L532.6 448.6L533.8 451.1L534.8 452.4L535.1 453.1L535.6 453.6L536.3 455.1L536.8 455.6L537.1 456.4L537.6 456.9L538.3 458.4L538.3 458.9L538.8 459.6L538.8 460.1L539.1 460.4L539.1 461.4L539.3 461.6L539.5 468.9L539.3 473.9L539.1 474.1L539.1 475.4L538.8 475.6L538.8 476.4L538.6 476.6L538.3 477.9L538.1 478.1L538.1 478.6L537.6 479.4L537.6 479.9L537.1 480.9L536.6 481.4L536.3 482.1L535.3 483.4L535.3 483.6L534.6 484.4L534.1 485.4L532.3 487.4L532.3 487.6L531.6 488.4L531.6 488.6L530.3 489.9L530.3 490.1L526.6 494.1L526.6 494.4L521.9 499L521.7 499L520.9 499.8L518.9 500.8L518.4 500.8L518.2 501L517.4 501L517.2 501.3L515.7 501.3L515.4 501.4Z" fill="#d8e7f6" fill-rule="evenodd"/><path d="M515.2 500.2L514.7 500.3L507.7 500.3L506.9 500.1L505.4 500.1L503.7 499.6L501.2 498.3L494.7 493.8L486.2 488.8L481.7 485.8L476.2 481.8L473.8 479.4L472.7 477.7L471.5 475.4L470.7 471.6L470.7 466.1L470.9 465.6L471.2 462.9L471.8 461.4L473.2 458.6L474.1 457.4L477.4 454.3L482.2 450.8L484.4 449.4L486.7 448.2L498.9 444.1L506.4 440.8L509.7 439.6L511.9 439.1L513.4 439.1L513.9 438.9L520.2 439L523.4 439.7L524.9 440.5L526.3 441.6L527.6 443.1L529.1 445.4L532.8 451.9L536.4 457.6L537.8 460.9L538.1 463.4L538.4 463.9L538.3 471.1L538.1 471.6L537.8 474.9L536.3 479.4L534.1 483.1L530.3 488.1L525.7 493.3L525.3 493.9L521.4 497.8L520.4 498.5L518.4 499.6L516.7 500.1L515.2 500.2Z" fill="#bed8ee" fill-rule="evenodd"/><path d="M514.7 498.9L507.9 499L505.9 498.7L503.9 498.2L502.2 497.3L495.3 492.6L486.9 487.6L476.9 480.6L474.9 478.6L472.8 475.1L471.9 471.1L471.9 466.6L472.2 464.4L473 461.9L474.3 459.4L475.2 458.1L478.2 455.4L482.9 451.9L485.2 450.5L487.2 449.5L499.4 445.1L506.4 442.1L509.2 441.1L510.9 440.7L514.4 440.2L519.7 440.3L522.4 440.9L523.7 441.4L525.2 442.5L526.4 443.9L535.4 458.4L536.5 461.1L537.1 464.4L537.1 470.6L536.5 474.6L535 479.1L532.9 482.4L529.2 487.4L524.2 493.1L520.7 496.6L519.4 497.5L517.9 498.3L514.7 498.9ZM489.3 469.6L489.7 469.4L489.9 468.9L489.7 468.4L489.2 468.2L488.7 468.4L488.5 468.9L488.7 469.4L489.3 469.6Z" fill="#94c5e2" fill-rule="evenodd"/><path d="M514.2 497.7L508.2 497.7L506.1 497.4L504.4 496.9L502.7 496L495.9 491.5L487.7 486.5L477.9 479.6L475.9 477.8L473.9 474.6L473 470.9L473 466.9L473.4 464.6L474.2 462.1L475.3 460.1L476.3 458.9L479.1 456.4L483.9 452.9L485.9 451.6L487.4 450.8L495.9 447.8L507 443.1L509.7 442.3L514.7 441.5L519.4 441.6L521.9 442.1L523.2 442.6L525.3 444.6L534.3 459.1L535.2 461.4L535.8 464.6L535.8 470.4L535 475.1L533.7 478.6L531.9 481.5L528 486.6L523 492.4L519.9 495.5L517.7 496.9L514.2 497.7ZM489.7 470.9L490.4 470.5L490.9 469.9L491.1 469.1L491 468.4L490.6 467.6L489.9 467.1L489.2 466.9L488.4 467L487.7 467.5L487.3 468.1L487.1 468.9L487.2 469.6L487.7 470.4L488.2 470.8L488.9 471L489.7 470.9Z" fill="#57acd9" fill-rule="evenodd"/><path d="M492.9 487.4L492.3 487.4L489.8 486.1L484.7 482.9L478.4 478.4L476.9 477L475.9 475.6L475.1 474.4L474.5 472.6L474 470.9L473.9 468.1L474 466.9L474.9 463.6L476.4 460.8L478.7 458.5L484.7 453.9L486.7 452.7L487.9 452L496.4 448.9L507.4 444.3L510.7 443.3L514.9 442.9L519.2 443.2L521.7 443.9L522.9 444.6L524.2 445.8L526.4 448.9L529.4 453.9L533.2 459.8L533.9 461.4L534.3 462.9L534.6 464.9L534.7 467.4L534.6 470.1L534.2 472.6L533.7 474.9L533 476.9L532.5 478.1L531.2 480.1L528.7 483.4L527.4 484.3L524.7 482.7L522.7 481.8L520.7 481.3L518.7 481.3L516.2 481.8L510.2 484L507.2 484.8L504.4 485L498.4 484.9L496.2 485.1L494.4 486L492.9 487.4ZM490 472.1L490.9 471.6L491.7 470.4L492 469.1L491.8 467.9L491 466.6L489.9 465.9L488.7 465.7L487.4 466L486.5 466.6L485.8 467.6L485.6 468.9L485.8 470.4L486.7 471.6L487.7 472.2L488.9 472.4L490 472.1Z" fill="#1f90d0" fill-rule="evenodd"/><path d="M506.2 478.4L502.9 478.6L499.4 477.8L495.9 476.3L493.6 474.4L493 473.6L492.8 472.9L493.2 469.9L493 468.1L492.3 466.4L490.4 463.4L490.2 462.1L490.3 460.1L491.3 454.9L492.1 452.4L492.5 451.9L494.2 451L507.7 445.5L509.4 445.1L510.4 445L512.5 446.6L515.4 449.4L517.5 451.9L518.9 454.1L519.7 456.1L520.3 458.4L520.7 462.1L520.6 464.6L520.1 466.6L518.8 469.1L517.3 471.4L515.5 473.4L513.4 475.1L510.9 476.7L508.4 477.8L506.2 478.4ZM529.4 471.4L527.7 471.4L525.9 470.6L524.5 469.1L523.5 467.1L523.4 465.6L524 464.1L525.2 462.9L526.9 462.1L528.7 461.9L530.4 462.5L531.7 463.6L532.6 465.4L532.8 467.4L532.3 469.1L531.1 470.6L529.4 471.4ZM478.2 472.4L476.9 472.5L475.9 472.1L475.2 470.6L475 468.9L475.2 467.1L475.9 465.7L476.9 465.3L478.2 465.4L479.2 465.9L480.1 466.9L480.5 468.1L480.5 469.6L480 470.9L479.2 471.9L478.2 472.4Z" fill="#0b6db8" fill-rule="evenodd"/><path d="M505.4 474.9L503.2 475L500.9 474.5L498.7 473.4L497 471.9L495.9 470.4L495.2 468.6L494.4 465.4L494.3 462.9L494.6 459.6L495.3 456.6L496.5 453.6L498 451.1L499.1 450.4L501.8 449.1L503.7 448.4L505.9 447.9L507.7 448.7L509.6 450.1L511.2 451.8L512.5 453.6L513.5 455.6L514.2 457.9L514.6 460.1L514.7 462.6L514.5 464.9L514 467.1L513.2 469.1L512.1 470.9L510.7 472.4L509.2 473.5L507.4 474.4L505.4 474.9Z" fill="#0a50a0" fill-rule="evenodd"/><path d="M504.7 471.7L503.2 471.6L501.9 471.3L500.7 470.6L499.6 469.6L498.7 468.4L498.1 467.1L497.7 465.4L497.5 463.6L497.6 461.6L497.9 459.6L498.6 457.6L499.4 456L500.4 454.7L501.7 453.6L502.9 453L504.2 452.8L505.4 453L506.7 453.5L507.9 454.5L508.9 455.6L509.7 456.9L510.4 458.6L510.9 460.4L511.1 462.4L511 464.1L510.7 465.9L510.2 467.4L509.4 468.7L508.4 469.9L507.4 470.7L506.2 471.3L504.7 471.7Z" fill="#08306b" fill-rule="evenodd"/><path d="M515.4 501.4L506.9 501.4L506.7 501.3L504.9 501.3L504.7 501L503.9 501L503.7 500.8L503.2 500.8L500.7 499.5L500.2 499L499.2 498.5L498.4 497.8L498.2 497.8L496.2 496.3L495.9 496.3L493.9 494.8L493.2 494.5L491.4 493.3L490.7 493L488.9 491.8L488.2 491.5L487.7 491L486.9 490.8L486.4 490.3L485.7 490L483.7 488.5L482.7 488L482.2 487.5L481.9 487.5L481.4 487L481.2 487L480.4 486.3L480.2 486.3L478.9 485.3L478.7 485.3L475.9 483L475.7 483L472.6 479.9L472.6 479.6L471.6 478.4L470.3 475.9L470.3 475.1L470.1 474.9L470 474.1L469.8 473.9L469.7 472.1L469.8 463.6L470 463.4L470.1 462.4L470.6 461.4L470.6 460.9L472.1 457.9L472.8 457.1L472.8 456.9L475.7 454L475.9 454L476.9 453L477.2 453L479.9 450.8L480.9 450.3L481.7 449.5L483.2 448.8L483.7 448.3L486.2 447L486.7 447L486.9 446.8L487.4 446.8L487.7 446.5L488.2 446.5L488.4 446.3L488.9 446.3L489.2 446L490.4 445.8L490.7 445.5L491.4 445.5L492.4 445L493.2 445L494.2 444.5L494.9 444.5L495.2 444.2L495.7 444.2L496.7 443.7L498.7 443.2L501.2 441.9L501.7 441.9L505.9 439.7L506.4 439.7L507.2 439.2L507.7 439.2L509.2 438.5L509.9 438.5L510.2 438.2L511.2 438.2L511.4 438L513.4 437.9L520.7 437.9L520.9 438L522.2 438L522.4 438.3L523.2 438.3L523.4 438.5L523.9 438.5L525.4 439.3L527.6 441.1L527.6 441.4L528.8 442.6L529.3 443.6L529.8 444.1L529.8 444.4L530.3 444.9L530.6 445.6L531.8 447.4L532.1 448.1L532.6 448.6L533.8 451.1L534.8 452.4L535.1 453.1L535.6 453.6L536.3 455.1L536.8 455.6L537.1 456.4L537.6 456.9L538.3 458.4L538.3 458.9L538.8 459.6L538.8 460.1L539.1 460.4L539.1 461.4L539.3 461.6L539.5 468.9L539.3 473.9L539.1 474.1L539.1 475.4L538.8 475.6L538.8 476.4L538.6 476.6L538.3 477.9L538.1 478.1L538.1 478.6L537.6 479.4L537.6 479.9L537.1 480.9L536.6 481.4L536.3 482.1L535.3 483.4L535.3 483.6L534.6 484.4L534.1 485.4L532.3 487.4L532.3 487.6L531.6 488.4L531.6 488.6L530.3 489.9L530.3 490.1L526.6 494.1L526.6 494.4L521.9 499L521.7 499L520.9 499.8L518.9 500.8L518.4 500.8L518.2 501L517.4 501L517.2 501.3L515.7 501.3L515.4 501.4Z" fill="none" stroke="#1a1a1a" stroke-width="0.65"/><path d="M514.9 498.2L514.2 498.3L507.9 498.3L505.9 498.1L504.2 497.6L502.4 496.7L495.7 492.1L487.4 487.2L480.4 482.4L477.4 480.1L475.4 478.2L473.4 474.9L472.4 471.1L472.4 466.6L473.1 463.4L473.7 461.9L474.9 459.6L475.7 458.6L478.7 455.9L483.4 452.4L485.4 451.1L487.3 450.1L495.9 447.1L506.7 442.6L509.4 441.7L512.4 441.1L514.4 440.9L519.7 441L522.2 441.5L523.7 442.1L525.9 444.4L534.7 458.6L535.9 461.4L536.4 464.4L536.4 470.6L535.9 474.4L534.3 478.9L532.5 481.9L528.7 486.9L523.7 492.7L520.2 496.1L519.2 496.9L517.7 497.6L516.2 498.1L514.9 498.2ZM489.2 470.4L490.2 470L490.6 468.9L490.1 467.9L489.7 467.6L488.9 467.5L488.4 467.7L488 468.1L487.7 469.1L488.2 470L489.2 470.4Z" fill="none" stroke="#1a1a1a" stroke-width="0.65"/><path d="M506.2 478.4L502.9 478.6L499.4 477.8L495.9 476.3L493.6 474.4L493 473.6L492.8 472.9L493.2 469.9L493 468.1L492.3 466.4L490.4 463.4L490.2 462.1L490.3 460.1L491.3 454.9L492.1 452.4L492.5 451.9L494.2 451L507.7 445.5L509.4 445.1L510.4 445L512.5 446.6L515.4 449.4L517.5 451.9L518.9 454.1L519.7 456.1L520.3 458.4L520.7 462.1L520.6 464.6L520.1 466.6L518.8 469.1L517.3 471.4L515.5 473.4L513.4 475.1L510.9 476.7L508.4 477.8L506.2 478.4ZM529.4 471.4L527.7 471.4L525.9 470.6L524.5 469.1L523.5 467.1L523.4 465.6L524 464.1L525.2 462.9L526.9 462.1L528.7 461.9L530.4 462.5L531.7 463.6L532.6 465.4L532.8 467.4L532.3 469.1L531.1 470.6L529.4 471.4ZM478.2 472.4L476.9 472.5L475.9 472.1L475.2 470.6L475 468.9L475.2 467.1L475.9 465.7L476.9 465.3L478.2 465.4L479.2 465.9L480.1 466.9L480.5 468.1L480.5 469.6L480 470.9L479.2 471.9L478.2 472.4Z" fill="none" stroke="#1a1a1a" stroke-width="0.65"/><path d="M505.7 472.2L503.9 472.4L502.4 472.2L500.9 471.6L499.7 470.7L498.7 469.6L497.8 468.1L497.2 466.4L496.9 464.6L496.9 462.4L497.2 460.1L497.7 458.1L498.5 456.1L499.7 454.3L500.9 453.1L502.2 452.3L503.7 451.8L504.9 451.9L506.4 452.3L507.7 453.1L508.9 454.3L509.9 455.7L510.8 457.4L511.3 459.1L511.7 461.1L511.8 463.1L511.6 465.1L511.1 466.9L510.4 468.4L509.6 469.6L508.4 470.8L507.2 471.6L505.7 472.2Z" fill="none" stroke="#1a1a1a" stroke-width="0.65"/><path d="M497.2 442.9L496 446.3L494.2 452.4L492 458.9L490.2 464.4L488.6 469.2L489 474.9L489.7 480.7L490.7 485.4L491.5 489.9L493.2 496.7L494.2 501.9" fill="none" stroke="#fff" stroke-width="0.7" opacity="0.9" stroke-linejoin="round"/><path d="M473.7 452.9L480 458.9L484.2 464.4L488.6 469.2" fill="none" stroke="#fff" stroke-width="0.7" opacity="0.9" stroke-linejoin="round"/><path d="M502.7 442.4L505.2 446.3L513.2 450.9L517.8 453.2L523.5 448.6L526.2 442.9" fill="none" stroke="#fff" stroke-width="0.7" opacity="0.9" stroke-linejoin="round"/><path d="M517.8 453.2L518.9 462.3L515.5 470.4L514.4 475L515.5 479.5" fill="none" stroke="#fff" stroke-width="0.7" opacity="0.9" stroke-linejoin="round"/><path d="M489.2 480.1L496 478.9L505.2 479.5L515.5 480.1L522.4 481.8L527 485.3L530.7 488.4" fill="none" stroke="#fff" stroke-width="0.7" opacity="0.9" stroke-linejoin="round"/><path d="M493.7 495.6L501.7 494.4L509.8 495L516.7 496.1L522.4 497.9" fill="none" stroke="#fff" stroke-width="0.7" opacity="0.9" stroke-linejoin="round"/></g>
<text x="504.6" y="433.6" font-size="11.8" text-anchor="middle" fill="#111" font-style="italic">ING4</text>
<rect x="543.9" y="437.9" width="69.8" height="63.6" fill="#f2f7fd"/>
<g clip-path="url(#fc7)"><path d="M589.7 501.4L581.2 501.4L580.9 501.2L579.2 501.2L577.2 500L570.2 491.4L569.6 489.6L568.8 485.1L567.8 482.9L566.2 481L563.9 479.6L562.4 479L560.9 478.7L557.9 478.8L554.2 480L551.9 481.2L551.1 481.9L550.4 482L549.2 481.6L547.7 480.7L546.8 479.9L546.8 479.6L545.7 478.4L544.4 475.9L544.4 475.1L543.9 474L544 463.6L544.2 463.4L544.2 462.4L544.7 461.4L544.7 460.9L546.3 457.9L547 457.1L547 456.9L549.9 454L550.2 454L551.2 453L551.4 453L554.2 450.8L555.2 450.3L556.7 449L557.4 448.8L557.9 448.3L560.4 447L561.7 446.8L561.9 446.5L562.4 446.5L562.7 446.3L563.2 446.3L564.2 445.8L564.7 445.8L564.9 445.5L565.7 445.5L566.7 445L567.4 445L568.4 444.5L569.2 444.5L570.2 444L570.7 444L570.9 443.8L571.4 443.8L571.7 443.5L572.2 443.5L572.4 443.3L572.9 443.3L575.4 442L575.9 442L580.2 439.8L580.7 439.8L581.4 439.3L581.9 439.3L583.4 438.5L584.2 438.5L584.4 438.3L585.4 438.3L585.7 438L587.4 438L587.7 437.9L594.9 437.9L595.2 438L596.4 438L596.7 438.3L597.4 438.3L597.7 438.5L598.2 438.5L599.7 439.3L601.8 441.1L601.8 441.4L603 442.6L603.5 443.6L604.5 444.9L604.8 445.6L605.3 446.1L606.3 448.1L606.8 448.6L608 451.1L609 452.4L609.3 453.1L610.3 454.4L611.3 456.4L611.8 456.9L612.5 458.4L612.5 458.9L613.1 459.6L613.1 460.1L613.3 460.4L613.3 461.4L613.6 461.6L613.7 467.6L613.6 473.9L613.4 474.1L613.3 475.4L613.1 475.6L613.1 476.4L612.8 476.6L612.5 477.9L612.3 478.1L612.3 478.6L611.8 479.4L611.8 479.9L611.3 480.9L610.8 481.4L610.5 482.1L610 482.6L609.5 483.6L608.8 484.4L608.3 485.4L606.5 487.4L606.5 487.6L605.8 488.4L605.8 488.6L604.5 489.9L604.5 490.1L600.8 494.1L600.8 494.4L596.2 499L595.9 499L595.2 499.8L593.2 500.8L592.7 500.8L592.4 501L591.7 501L591.4 501.3L589.7 501.4Z" fill="#d8e7f6" fill-rule="evenodd"/><path d="M589.2 500.4L586.2 500.5L581.9 500.2L579.9 499.8L578.9 499.3L577.1 497.9L576.4 496.9L575.7 494.6L573.5 490.1L573.2 488.4L573.2 483.9L572.8 482.4L572.3 481.1L571.2 479.4L569.7 477.8L567.4 476L565.4 474.7L563.4 474L561.4 474L559.4 474.7L553.7 477.4L550.4 478.6L548.7 479.2L548.2 479.1L547.5 478.6L546.8 477.9L545.3 475.6L544.7 473.6L544.3 471.6L544.5 466.1L545.2 462.9L545.8 461.4L547.4 458.7L548.4 457.4L550.7 455.6L551.2 455.5L554.9 457.4L557.4 458.2L558.4 458.2L559.2 457.9L560.7 456.9L562.2 455.2L563 453.6L563.4 451.4L563.2 448.1L563.3 447.9L564.1 447.4L565.4 446.8L573.4 444.4L576.4 443.1L580.7 441L583.9 439.8L588.2 439L594.4 439L597.7 439.8L599.2 440.5L600.5 441.6L601.8 443.1L603.3 445.4L607.1 451.9L610.7 457.6L612.2 460.9L612.8 463.4L613.1 463.9L613.4 467.1L613.3 470.1L612.2 474.9L610.6 479.4L608.3 483.1L604.5 488.1L599.9 493.3L599.5 493.9L595.7 497.8L594.7 498.5L592.7 499.6L589.2 500.4Z" fill="#bed8ee" fill-rule="evenodd"/><path d="M602.9 487.4L602.6 487.4L598.6 483.6L595.6 481.4L592.2 479.4L588.4 477.8L586.9 476.9L580.1 471.4L573.9 467.4L571.4 464.9L570.3 462.9L570 460.9L570.4 459.1L572.4 455.9L573 454.4L572.9 452.6L571.4 447.1L571.4 446.9L571.9 446.4L576.9 444.4L580.9 442.4L583.6 441.4L584.4 441.3L585.4 441.4L589.4 444.1L592.9 445.6L594.7 445.9L596.7 446.1L601.2 445.6L602.2 446.3L609.6 458.4L610.7 460.4L612.1 464.1L612.5 467.6L612.2 470.9L609.2 479.1L607.2 482.4L605.2 485.1L603.4 487.1L602.9 487.4ZM550.7 475.2L548.7 475.1L547 474.4L545.9 473.2L545.5 471.4L545.7 468.7L546.4 467.5L548.2 466.1L550.2 465.6L552.2 465.9L553.8 466.9L555 468.4L555.5 470.1L555.2 471.9L554.2 473.4L552.7 474.5L550.7 475.2ZM588.7 499.2L586.7 499.3L584.5 499.1L582.3 498.6L582 498.1L581.9 492.4L582.3 489.6L583 486.6L583.8 484.4L584.7 482.6L585.9 481.3L586.9 480.9L587.7 481L588.2 481.4L589.5 483.6L590.5 486.6L591.9 492.8L592.4 494L593.4 494.9L595.4 495.4L594.7 496.4L593.5 497.4L592.1 498.1L588.7 499.2Z" fill="#94c5e2" fill-rule="evenodd"/><path d="M605.7 481.4L600.2 477.7L594.6 474.6L585.8 470.4L578.9 468L576.2 466.5L574.4 464.9L573.2 462.9L573.1 461.9L573.2 460.9L574 459.1L575.4 457.7L577.4 456.3L580.4 454.8L582.9 453.8L585.2 453.5L589.9 453.5L592.7 453.3L596.9 452.2L602.4 450.2L602.9 450.4L603.4 450.9L609.6 460.9L611 464.4L611.4 466.9L611.4 468.6L611.1 470.6L608.5 477.4L607.2 480L606.2 481.2L605.7 481.4ZM587.2 496.2L586.2 496.2L585.2 495.2L584.4 493.4L584.1 491.1L584.3 488.6L584.8 486.6L585.7 485.1L586.7 484.6L587.7 485L588.4 486L589 487.9L589.3 490.1L589.2 492.1L588.8 494.1L588.1 495.4L587.2 496.2Z" fill="#57acd9" fill-rule="evenodd"/><path d="M608.2 473.8L604.7 473.4L598.9 472.3L594.4 471L587.2 468.6L581.4 467.4L579.2 466.8L577.1 465.6L575.5 464.1L574.8 462.4L575.1 460.6L576.2 459.1L577.7 458.1L579.7 457.3L582.2 456.9L584.7 457.1L590.9 458.4L601.4 458.8L604.2 459.1L606.9 459.7L607.7 460.3L608.7 461.7L609.9 464.6L610.3 466.9L610.3 468.6L609.9 470.4L609 472.6L608.2 473.8ZM586.9 493.2L586.4 493.2L585.9 492.6L585.5 491.6L585.3 490.4L585.7 488.2L586.2 487.3L586.7 487.1L587.2 487.3L587.7 487.9L588.1 489.9L587.8 492.1L587.4 492.9L586.9 493.2Z" fill="#1f90d0" fill-rule="evenodd"/><path d="M606.7 470.2L602.9 470.3L598.9 469.9L594.9 469.1L587.9 467.1L582.4 466.6L580.4 466.2L578.4 465.4L576.9 464.2L576.2 462.9L576.2 461.4L576.8 460.1L578.2 459.1L580.2 458.3L582.2 458.1L584.9 458.6L590.4 460.4L598.2 461.3L602.7 462.3L606.5 463.6L608.2 464.5L608.7 465L609.2 466.9L608.9 469.1L608.4 469.8L606.7 470.2Z" fill="#0b6db8" fill-rule="evenodd"/><path d="M602.2 467.7L599.9 467.9L596.9 467.6L588.9 465.4L583.4 465.7L580.9 465.5L579.2 464.8L578 463.9L577.4 462.9L577.3 461.6L578.1 460.4L579.7 459.4L581.7 459.1L583.7 459.3L585.7 460.1L588.7 461.8L590.2 462.4L597.2 463.2L599.2 463.6L601.4 464.4L603.1 465.4L603.8 466.4L603.5 467.1L602.2 467.7Z" fill="#0a50a0" fill-rule="evenodd"/><path d="M583.9 464.7L581.7 464.7L579.7 464.1L578.6 462.9L578.4 462.1L578.7 461.4L579.8 460.4L581.4 460L583.2 460.2L584.8 460.9L586.1 462.1L586.4 463.1L586.1 463.6L585.7 464.1L583.9 464.7Z" fill="#08306b" fill-rule="evenodd"/><path d="M589.7 501.4L581.2 501.4L580.9 501.2L579.2 501.2L577.2 500L570.2 491.4L569.6 489.6L568.8 485.1L567.8 482.9L566.2 481L563.9 479.6L562.4 479L560.9 478.7L557.9 478.8L554.2 480L551.9 481.2L551.1 481.9L550.4 482L549.2 481.6L547.7 480.7L546.8 479.9L546.8 479.6L545.7 478.4L544.4 475.9L544.4 475.1L543.9 474L544 463.6L544.2 463.4L544.2 462.4L544.7 461.4L544.7 460.9L546.3 457.9L547 457.1L547 456.9L549.9 454L550.2 454L551.2 453L551.4 453L554.2 450.8L555.2 450.3L556.7 449L557.4 448.8L557.9 448.3L560.4 447L561.7 446.8L561.9 446.5L562.4 446.5L562.7 446.3L563.2 446.3L564.2 445.8L564.7 445.8L564.9 445.5L565.7 445.5L566.7 445L567.4 445L568.4 444.5L569.2 444.5L570.2 444L570.7 444L570.9 443.8L571.4 443.8L571.7 443.5L572.2 443.5L572.4 443.3L572.9 443.3L575.4 442L575.9 442L580.2 439.8L580.7 439.8L581.4 439.3L581.9 439.3L583.4 438.5L584.2 438.5L584.4 438.3L585.4 438.3L585.7 438L587.4 438L587.7 437.9L594.9 437.9L595.2 438L596.4 438L596.7 438.3L597.4 438.3L597.7 438.5L598.2 438.5L599.7 439.3L601.8 441.1L601.8 441.4L603 442.6L603.5 443.6L604.5 444.9L604.8 445.6L605.3 446.1L606.3 448.1L606.8 448.6L608 451.1L609 452.4L609.3 453.1L610.3 454.4L611.3 456.4L611.8 456.9L612.5 458.4L612.5 458.9L613.1 459.6L613.1 460.1L613.3 460.4L613.3 461.4L613.6 461.6L613.7 467.6L613.6 473.9L613.4 474.1L613.3 475.4L613.1 475.6L613.1 476.4L612.8 476.6L612.5 477.9L612.3 478.1L612.3 478.6L611.8 479.4L611.8 479.9L611.3 480.9L610.8 481.4L610.5 482.1L610 482.6L609.5 483.6L608.8 484.4L608.3 485.4L606.5 487.4L606.5 487.6L605.8 488.4L605.8 488.6L604.5 489.9L604.5 490.1L600.8 494.1L600.8 494.4L596.2 499L595.9 499L595.2 499.8L593.2 500.8L592.7 500.8L592.4 501L591.7 501L591.4 501.3L589.7 501.4Z" fill="none" stroke="#1a1a1a" stroke-width="0.65"/><path d="M604.7 484.2L604.4 484.1L600.1 480.9L595.8 478.1L588.4 474L583.3 470.9L576.2 467.5L574.4 466.2L573.2 464.9L572.4 463.6L571.9 462.4L571.9 461.1L572.1 460.1L573.2 458.3L576.3 454.9L576.9 453.4L576.7 451.9L575.2 447.1L575 446.4L575.2 446.1L576.4 445.4L579.2 444.1L580.9 443.6L586.9 447.5L588.9 448.5L590.9 449.1L593.2 449.5L595.7 449.4L598.7 448.9L601.9 448L602.4 448.2L603.2 449.1L610.1 460.6L611.6 464.4L612 467.1L612 469.1L611.7 470.7L608.6 478.9L606.7 481.9L605.4 483.6L604.7 484.2ZM551.2 472.7L550.2 472.8L549.4 472.7L548.6 472.1L548.2 471.4L548.1 470.4L548.4 469.6L548.9 469L549.7 468.6L550.7 468.4L551.4 468.6L552.1 469.1L552.6 469.9L552.7 470.9L552.4 471.6L551.9 472.2L551.2 472.7ZM586.9 498.4L585.7 498L584.9 497.3L584.4 496.4L583.7 494.1L583.4 491.4L583.6 488.4L584.4 485.6L585.4 483.9L585.9 483.4L586.7 483.2L587.4 483.3L587.9 483.7L589 485.4L589.7 487.9L590.1 490.9L589.9 493.9L589.2 496.1L588.2 497.8L586.9 498.4Z" fill="none" stroke="#1a1a1a" stroke-width="0.65"/><path d="M606.7 470.2L602.9 470.3L598.9 469.9L594.9 469.1L587.9 467.1L582.4 466.6L580.4 466.2L578.4 465.4L576.9 464.2L576.2 462.9L576.2 461.4L576.8 460.1L578.2 459.1L580.2 458.3L582.2 458.1L584.9 458.6L590.4 460.4L598.2 461.3L602.7 462.3L606.5 463.6L608.2 464.5L608.7 465L609.2 466.9L608.9 469.1L608.4 469.8L606.7 470.2Z" fill="none" stroke="#1a1a1a" stroke-width="0.65"/><path d="M583.7 464.9L581.2 464.8L579.9 464.4L579.2 463.9L578.6 463.4L578.3 462.6L578.2 461.9L578.6 461.1L579.9 460.1L581.7 459.8L583.7 460.1L585.6 461.1L586.8 462.4L587 463.1L586.8 463.6L585.8 464.4L583.7 464.9Z" fill="none" stroke="#1a1a1a" stroke-width="0.65"/><path d="M571.4 442.9L570.2 446.3L568.4 452.4L566.2 458.9L564.4 464.4L562.8 469.2L563.2 474.9L563.9 480.7L564.9 485.4L565.7 489.9L567.4 496.7L568.4 501.9" fill="none" stroke="#fff" stroke-width="0.7" opacity="0.9" stroke-linejoin="round"/><path d="M547.9 452.9L554.2 458.9L558.4 464.4L562.8 469.2" fill="none" stroke="#fff" stroke-width="0.7" opacity="0.9" stroke-linejoin="round"/><path d="M576.9 442.4L579.4 446.3L587.4 450.9L592 453.2L597.7 448.6L600.4 442.9" fill="none" stroke="#fff" stroke-width="0.7" opacity="0.9" stroke-linejoin="round"/><path d="M592 453.2L593.1 462.3L589.7 470.4L588.6 475L589.7 479.5" fill="none" stroke="#fff" stroke-width="0.7" opacity="0.9" stroke-linejoin="round"/><path d="M563.4 480.1L570.2 478.9L579.4 479.5L589.7 480.1L596.6 481.8L601.2 485.3L604.9 488.4" fill="none" stroke="#fff" stroke-width="0.7" opacity="0.9" stroke-linejoin="round"/><path d="M567.9 495.6L575.9 494.4L584 495L590.9 496.1L596.6 497.9" fill="none" stroke="#fff" stroke-width="0.7" opacity="0.9" stroke-linejoin="round"/></g>
<text x="578.8" y="433.6" font-size="11.8" text-anchor="middle" fill="#111" font-style="italic">ING5</text>
<rect x="24.8" y="528.5" width="69.8" height="63.6" fill="#f2f7fd"/>
<g clip-path="url(#fc8)"><path d="M70.5 592L60 591.9L59.8 591.6L59 591.6L58.8 591.4L58.3 591.4L55.8 590.1L54.5 589.1L54.3 589.1L53.5 588.4L53.3 588.4L49.8 585.8L49.5 585.8L49 585.3L47 584.2L46.7 583.8L43.5 581.3L39.8 577.8L37.8 576.2L35.8 575L31.1 572.7L28 570.5L26.8 569L25.7 567L25.4 566.5L25.4 565.8L25.2 565.5L25.2 564.8L24.9 564.5L24.9 563L24.8 562.8L24.9 554.2L25.2 554L25.2 553L25.4 552.8L25.7 551.5L27.2 548.5L27.9 547.8L27.9 547.5L30.8 544.6L31.1 544.6L32 543.6L32.3 543.6L35 541.4L36 540.9L36.8 540.1L38.3 539.4L38.8 538.9L41.3 537.6L41.8 537.6L42 537.4L42.5 537.4L42.8 537.1L43.3 537.1L43.5 536.9L44 536.9L44.3 536.6L45.5 536.4L45.8 536.1L46.5 536.1L47.5 535.6L48.3 535.6L49.3 535.1L50 535.1L50.3 534.9L50.8 534.9L51 534.6L51.5 534.6L51.8 534.4L52.3 534.4L52.5 534.1L53.8 533.9L56.3 532.6L56.8 532.6L61 530.4L61.5 530.4L62.3 529.9L62.8 529.9L64.3 529.1L65 529.1L65.3 528.9L66.3 528.9L66.5 528.6L68.3 528.6L68.5 528.5L75.8 528.5L76 528.6L77.3 528.6L77.5 528.9L78.3 528.9L78.5 529.1L79 529.1L80.5 529.9L82.7 531.8L82.7 532L83.9 533.2L84.4 534.2L85.4 535.5L85.7 536.2L86.2 536.8L87.2 538.8L87.7 539.2L88.9 541.8L89.9 543L90.2 543.8L91.2 545L91.4 545.8L92.7 547.5L93.4 549L93.4 549.5L93.9 550.2L93.9 550.8L94.2 551L94.2 552L94.4 552.2L94.6 562.2L94.4 564.5L94.2 564.8L94.2 566L93.9 566.2L93.9 567L93.7 567.2L93.4 568.5L93.2 568.8L93.2 569.2L92.7 570L92.7 570.5L92.2 571.5L91.7 572L91.4 572.8L90.4 574L90.4 574.2L89.2 575.8L89.2 576L87.4 578L87.4 578.2L86.7 579L86.7 579.2L85.4 580.5L85.4 580.8L81.7 584.8L81.7 585L77 589.6L76.8 589.6L76 590.4L74 591.4L73.5 591.4L73.3 591.6L72.5 591.6L72.3 591.9L70.8 591.9L70.5 592Z" fill="#d8e7f6" fill-rule="evenodd"/><path d="M70.3 590.8L69.8 590.9L62.5 590.9L62 590.7L60.5 590.7L59.5 590.4L56.8 589.2L47.8 582.9L38.8 575.8L36.3 574.2L31.8 571.6L29.6 569.9L28 568.2L26.7 566L26.4 565L25.9 562L25.9 556.8L26.1 556.2L26.4 553.5L26.9 552L28.3 549.2L29.2 548L32.5 544.9L37.3 541.4L39.5 540L41.8 538.9L54.3 535L57.3 533.7L61.5 531.6L64.8 530.3L69 529.6L75.3 529.6L78.5 530.3L80 531.1L81.4 532.2L84.2 536L88 542.5L91.6 548L92.8 550.8L93.3 552.8L93.3 554L93.6 554.5L93.5 561.8L93.3 562.2L93.3 564L93.1 564.5L93 565.5L91.5 570L89.2 573.8L85.4 578.8L80.8 583.9L80.4 584.5L76.5 588.4L75.5 589.1L73.5 590.2L71.8 590.7L70.3 590.8Z" fill="#bed8ee" fill-rule="evenodd"/><path d="M70 589.5L69.5 589.7L63 589.7L61 589.4L59 588.8L57 587.8L48.5 581.8L37.8 573.9L32.3 570.6L30.3 569L29.1 567.5L28.1 565.8L27.2 561.8L27.2 557.2L27.7 554L28.2 552.5L29.4 550L30.3 548.8L33.3 546L38.1 542.5L40.3 541.1L42.3 540.1L54.8 536.2L57.8 535L61.8 533L65 531.7L69.5 530.9L74.8 530.9L77.5 531.5L78.9 532L80.3 533.1L81.6 534.5L90.5 548.8L91.7 551.8L92.3 555L92.3 561.2L91.7 565.2L90.2 569.8L88.1 573L84.3 578L79.3 583.8L75.8 587.3L74.5 588.2L73 588.9L70 589.5Z" fill="#94c5e2" fill-rule="evenodd"/><path d="M70 588.3L68.5 588.5L63.3 588.4L61 588.1L59.5 587.6L57 586.2L38.5 573.1L33.1 569.8L31.3 568.2L30.2 566.8L29.3 565.2L28.6 561.5L28.6 557.5L29 554.2L29.4 553L30.5 550.8L31.5 549.5L34.2 547L39 543.5L41 542.2L42.8 541.4L55.3 537.5L58.5 536.1L62.3 534.2L65.5 533L69.8 532.2L74.5 532.2L77 532.7L78.3 533.2L80.4 535.2L89.4 549.5L90.5 552L91 555.2L91 561L90.2 565.8L88.9 569.2L85 574.9L78.2 583L75 586.2L72.8 587.7L70 588.3Z" fill="#57acd9" fill-rule="evenodd"/><path d="M83.5 574.3L83 574.5L79.5 572.4L75.8 570.8L67 567.9L64.3 566.8L61.3 565.2L55.8 561.8L53.8 560.9L51.3 560.3L45.3 559.7L42 558.6L39.5 557.2L37.6 555.5L33.5 550.1L33.6 549.8L35 548.2L38 545.8L40.3 544.2L43 542.7L55.6 538.8L65.5 534.3L70 533.5L74.3 533.6L77.3 534.2L79.3 536L80.9 538.2L88.4 550.2L89.1 552L89.5 553.5L89.8 555.5L89.7 560.8L88.9 565.5L87.7 568.8L84.8 573L83.5 574.3ZM67.8 586.3L66.5 586.4L65.3 586.2L64.3 585.8L63.3 585L62.7 584L62.7 583L63 582L63.7 581.2L65.3 580.4L67.3 580.2L69 580.7L70.4 581.8L70.9 583L70.9 583.8L70.6 584.5L69.5 585.6L67.8 586.3Z" fill="#1f90d0" fill-rule="evenodd"/><path d="M85.5 568.8L81 567.3L69.5 564.2L66.9 563L64.8 561.5L63.2 559.8L61.8 557.2L60.7 554.5L59 549L57.9 546.5L56.5 544.3L54.2 541.2L54.2 541L63.3 536.7L66 535.6L68 535.2L70.3 535.3L76 537.8L79.5 539.1L81.4 541.5L87.3 550.9L88 552.5L88.2 553.8L88.5 555.5L88.5 558.2L88.5 560.8L88.2 563L87.7 565.2L87 567L86.3 568.3L85.5 568.8ZM42.3 552L41.8 552.1L41.2 551.8L41.2 551L41.5 550.6L42 550.5L42.6 551L42.7 551.5L42.3 552Z" fill="#0b6db8" fill-rule="evenodd"/><path d="M75.8 560.5L72 560.4L69 559.5L67.8 558.7L66.5 557.6L64.7 555L63.9 553L63.4 551L63 548.8L63.1 546.5L63.3 544.8L63.9 543.2L64.8 542L65.8 541.3L67.5 540.7L69.5 540.7L71.5 541.1L73.5 542.1L75.3 543.5L77 545.2L78.3 547.2L79.9 550L81 552.2L81.6 554.2L81.7 556L81.4 557.5L80.6 558.8L79.5 559.5L77.8 560.2L75.8 560.5Z" fill="#0a50a0" fill-rule="evenodd"/><path d="M71.8 555.8L70.8 555.9L69.8 555.7L68 554.8L66.8 553.2L65.8 551L65.6 548.8L66.1 546.5L66.6 545.5L67.3 544.8L68.8 544L69.8 543.9L70.8 544.1L72.5 545L73.9 546.5L74.8 548.8L75.1 551L74.6 553.2L73.5 554.8L72.8 555.4L71.8 555.8Z" fill="#08306b" fill-rule="evenodd"/><path d="M70.5 592L60 591.9L59.8 591.6L59 591.6L58.8 591.4L58.3 591.4L55.8 590.1L54.5 589.1L54.3 589.1L53.5 588.4L53.3 588.4L49.8 585.8L49.5 585.8L49 585.3L47 584.2L46.7 583.8L43.5 581.3L39.8 577.8L37.8 576.2L35.8 575L31.1 572.7L28 570.5L26.8 569L25.7 567L25.4 566.5L25.4 565.8L25.2 565.5L25.2 564.8L24.9 564.5L24.9 563L24.8 562.8L24.9 554.2L25.2 554L25.2 553L25.4 552.8L25.7 551.5L27.2 548.5L27.9 547.8L27.9 547.5L30.8 544.6L31.1 544.6L32 543.6L32.3 543.6L35 541.4L36 540.9L36.8 540.1L38.3 539.4L38.8 538.9L41.3 537.6L41.8 537.6L42 537.4L42.5 537.4L42.8 537.1L43.3 537.1L43.5 536.9L44 536.9L44.3 536.6L45.5 536.4L45.8 536.1L46.5 536.1L47.5 535.6L48.3 535.6L49.3 535.1L50 535.1L50.3 534.9L50.8 534.9L51 534.6L51.5 534.6L51.8 534.4L52.3 534.4L52.5 534.1L53.8 533.9L56.3 532.6L56.8 532.6L61 530.4L61.5 530.4L62.3 529.9L62.8 529.9L64.3 529.1L65 529.1L65.3 528.9L66.3 528.9L66.5 528.6L68.3 528.6L68.5 528.5L75.8 528.5L76 528.6L77.3 528.6L77.5 528.9L78.3 528.9L78.5 529.1L79 529.1L80.5 529.9L82.7 531.8L82.7 532L83.9 533.2L84.4 534.2L85.4 535.5L85.7 536.2L86.2 536.8L87.2 538.8L87.7 539.2L88.9 541.8L89.9 543L90.2 543.8L91.2 545L91.4 545.8L92.7 547.5L93.4 549L93.4 549.5L93.9 550.2L93.9 550.8L94.2 551L94.2 552L94.4 552.2L94.6 562.2L94.4 564.5L94.2 564.8L94.2 566L93.9 566.2L93.9 567L93.7 567.2L93.4 568.5L93.2 568.8L93.2 569.2L92.7 570L92.7 570.5L92.2 571.5L91.7 572L91.4 572.8L90.4 574L90.4 574.2L89.2 575.8L89.2 576L87.4 578L87.4 578.2L86.7 579L86.7 579.2L85.4 580.5L85.4 580.8L81.7 584.8L81.7 585L77 589.6L76.8 589.6L76 590.4L74 591.4L73.5 591.4L73.3 591.6L72.5 591.6L72.3 591.9L70.8 591.9L70.5 592Z" fill="none" stroke="#1a1a1a" stroke-width="0.65"/><path d="M69.5 589.1L63 589L61 588.7L58.8 588L57.5 587.3L47.8 580.6L38 573.5L32.8 570.2L30.7 568.5L29.6 567L28.7 565.5L27.9 561.8L27.9 557.2L28.4 554L28.8 552.7L30 550.2L30.8 549.2L33.8 546.5L38.5 543L40.5 541.7L42.5 540.7L55 536.8L58.2 535.5L62 533.6L65.3 532.3L69.5 531.6L74.8 531.6L77.3 532.1L78.8 532.7L81 534.9L90 549.2L91.1 552L91.7 555L91.6 561.2L91.1 565L89.5 569.5L87.6 572.5L83.8 577.6L78.8 583.3L75.4 586.8L74.3 587.6L73 588.3L71.3 588.8L69.5 589.1Z" fill="none" stroke="#1a1a1a" stroke-width="0.65"/><path d="M85.5 568.8L81 567.3L69.5 564.2L66.9 563L64.8 561.5L63.2 559.8L61.8 557.2L60.7 554.5L59 549L57.9 546.5L56.5 544.3L54.2 541.2L54.2 541L63.3 536.7L66 535.6L68 535.2L70.3 535.3L76 537.8L79.5 539.1L81.4 541.5L87.3 550.9L88 552.5L88.2 553.8L88.5 555.5L88.5 558.2L88.5 560.8L88.2 563L87.7 565.2L87 567L86.3 568.3L85.5 568.8ZM42.3 552L41.8 552.1L41.2 551.8L41.2 551L41.5 550.6L42 550.5L42.6 551L42.7 551.5L42.3 552Z" fill="none" stroke="#1a1a1a" stroke-width="0.65"/><path d="M72.3 556.5L70.3 556.6L68.3 555.7L66.6 554L65.6 551.8L65.1 549L65.5 546.5L66.5 544.6L67.3 544L68.3 543.5L69.3 543.3L70.5 543.4L72.5 544.3L74.2 546L75.4 548.5L75.8 551.2L75.3 553.8L74.1 555.5L73.3 556.1L72.3 556.5Z" fill="none" stroke="#1a1a1a" stroke-width="0.65"/><path d="M52.3 533.5L51.1 536.9L49.3 543L47.1 549.5L45.3 555L43.7 559.8L44.1 565.5L44.8 571.3L45.8 576L46.6 580.5L48.3 587.3L49.3 592.5" fill="none" stroke="#fff" stroke-width="0.7" opacity="0.9" stroke-linejoin="round"/><path d="M28.8 543.5L35.1 549.5L39.3 555L43.7 559.8" fill="none" stroke="#fff" stroke-width="0.7" opacity="0.9" stroke-linejoin="round"/><path d="M57.8 533L60.3 536.9L68.3 541.5L72.9 543.8L78.6 539.2L81.3 533.5" fill="none" stroke="#fff" stroke-width="0.7" opacity="0.9" stroke-linejoin="round"/><path d="M72.9 543.8L74 552.9L70.6 561L69.5 565.6L70.6 570.1" fill="none" stroke="#fff" stroke-width="0.7" opacity="0.9" stroke-linejoin="round"/><path d="M44.3 570.7L51.1 569.5L60.3 570.1L70.6 570.7L77.5 572.4L82.1 575.9L85.8 579" fill="none" stroke="#fff" stroke-width="0.7" opacity="0.9" stroke-linejoin="round"/><path d="M48.8 586.2L56.8 585L64.9 585.6L71.8 586.7L77.5 588.5" fill="none" stroke="#fff" stroke-width="0.7" opacity="0.9" stroke-linejoin="round"/></g>
<text x="59.7" y="524.8" font-size="11.8" text-anchor="middle" fill="#111" font-style="italic">JADE1</text>
<rect x="99" y="528.5" width="69.8" height="63.6" fill="#f2f7fd"/>
<g clip-path="url(#fc9)"><path d="M144.8 592L136.3 592L136 591.9L134.3 591.9L134 591.6L133.3 591.6L133 591.4L132.5 591.4L130 590.1L128.8 589.1L128.5 589.1L127.8 588.4L126.8 587.9L126.3 587.4L126 587.4L125.5 586.9L125.3 586.9L124.8 586.4L124.5 586.4L124 585.9L123.8 585.9L123.3 585.4L121.3 584.4L120.8 583.9L120 583.6L119.5 583.1L118.8 582.9L118.3 582.4L117.5 582.1L117 581.6L116.3 581.4L115.8 580.9L115 580.6L113.8 579.6L113.5 579.6L112.3 578.6L112 578.6L111.5 578.1L111.3 578.1L110.8 577.6L110.5 577.6L109.8 576.9L109.5 576.9L108.3 575.9L108 575.9L105.3 573.6L105 573.6L101.9 570.5L101.9 570.2L100.9 569L99.7 566.5L99.7 565.8L99.4 565.5L99.4 564.8L99.2 564.5L99 562.8L99.2 554.2L99.4 554L99.4 553L99.9 552L99.9 551.5L101.4 548.5L102.2 547.8L102.2 547.5L105 544.6L105.3 544.6L106.3 543.6L106.5 543.6L109.3 541.4L110.3 540.9L111.8 539.6L112.5 539.4L113 538.9L115.5 537.6L116.8 537.4L117 537.1L117.5 537.1L117.8 536.9L118.3 536.9L118.5 536.6L119 536.6L119.3 536.4L119.8 536.4L120 536.1L120.8 536.1L121.8 535.6L122.5 535.6L123.5 535.1L124.3 535.1L125.3 534.6L125.8 534.6L126 534.4L126.5 534.4L126.8 534.1L127.3 534.1L127.5 533.9L128 533.9L130.5 532.6L131 532.6L135.3 530.4L135.8 530.4L136.5 529.9L137 529.9L138.5 529.1L139.3 529.1L139.5 528.9L140.5 528.9L140.8 528.6L142.5 528.6L142.8 528.5L150 528.5L150.3 528.6L151.5 528.6L151.8 528.9L152.5 528.9L152.8 529.1L153.3 529.1L154.8 529.9L156.9 531.8L156.9 532L158.2 533.2L158.7 534.2L159.7 535.5L159.9 536.2L160.4 536.8L161.4 538.8L161.9 539.2L163.2 541.8L164.2 543L164.4 543.8L165.4 545L165.7 545.8L166.9 547.5L167.7 549L167.7 549.5L168.2 550.2L168.2 550.8L168.4 551L168.4 552L168.7 552.2L168.7 553.8L168.8 554L168.7 564.5L168.4 564.8L168.4 566L168.2 566.2L168.2 567L167.9 567.2L167.9 567.8L167.7 568L167.4 569.2L166.9 570L166.9 570.5L166.4 571.5L165.9 572L165.7 572.8L165.2 573.2L164.7 574.2L163.9 575L163.4 576L161.7 578L161.7 578.2L160.9 579L160.9 579.2L159.7 580.5L159.7 580.8L155.9 584.8L155.9 585L151.3 589.6L151 589.6L150.3 590.4L148.3 591.4L147.8 591.4L147.5 591.6L146.8 591.6L146.5 591.9L145 591.9L144.8 592Z" fill="#d8e7f6" fill-rule="evenodd"/><path d="M144.5 590.8L144 590.9L136.8 590.9L136.3 590.7L134.8 590.7L133 590.2L130.5 588.9L124 584.4L115.5 579.4L111 576.4L105.5 572.4L103.2 570L102 568.3L100.8 566L100.1 562.2L100.1 556.8L100.3 556.2L100.6 553.5L101.1 552L102.5 549.2L103.4 548L106.8 544.9L111.5 541.4L113.7 540L116 538.9L128.5 535L131.5 533.7L135.8 531.6L139 530.4L143.3 529.6L149.5 529.6L152.8 530.4L154.3 531.1L155.7 532.2L156.9 533.8L158.4 536L162.2 542.5L165.8 548.2L167.2 551.5L167.5 554L167.7 554.5L167.7 561.8L167.5 562.2L167.2 565.5L165.7 570L163.4 573.8L159.7 578.8L155 583.9L154.7 584.5L150.8 588.4L149.8 589.1L147.8 590.2L146 590.7L144.5 590.8Z" fill="#bed8ee" fill-rule="evenodd"/><path d="M144 589.6L137.3 589.7L135 589.4L133.3 588.8L131.3 587.8L124.7 583.2L116.3 578.2L111.8 575.2L106.3 571.2L104.3 569.2L102.1 565.8L101.5 563.8L101.2 561.8L101.4 557.2L101.9 554L102.4 552.5L103.6 550L104.5 548.8L107.5 546L112.3 542.5L114.5 541.1L116.5 540.1L129 536.2L138.8 531.9L141.8 531.2L143.8 530.9L149 530.9L151.5 531.4L153.1 532L154.5 533.1L155.8 534.5L164.7 549L165.8 551.8L166.4 555L166.4 561.2L165.8 565.2L164.4 569.8L162.4 573L158.6 578L153.5 583.8L150 587.3L148.8 588.2L147.3 588.9L144 589.6Z" fill="#94c5e2" fill-rule="evenodd"/><path d="M143.8 588.3L137.5 588.5L135.3 588.1L133.8 587.7L132 586.8L125.5 582.2L117.2 577.2L112.7 574.2L107 570.1L105.4 568.5L104.3 567L103.3 565.3L102.6 563.5L102.3 561.5L102.4 559.8L102.6 557.5L103.3 554L104.8 550.7L107 548.2L111.5 544.8L115.2 542.2L117 541.4L129.5 537.5L132.8 536.1L136.5 534.2L139.8 533L144 532.2L148.8 532.2L151.3 532.7L152.5 533.2L154.6 535.2L156.3 537.7L163.5 549.7L164.5 552L165 555.2L165.1 561L164.4 565.8L163.2 569.2L161.8 571.5L159.3 575L152.4 583L149.3 586.1L147 587.6L143.8 588.3Z" fill="#57acd9" fill-rule="evenodd"/><path d="M142 587.3L137.5 587.3L134.3 586.6L132.8 585.8L126 580.9L117.9 576L114.2 573.5L108 569L105.3 566.3L104.4 565L103.7 563.2L103.3 561L103.8 557.8L105 553.6L106.1 551.5L107 550.5L108 549.7L108.3 549.5L110 551.2L111.3 552L112.5 552.2L113.5 552L115.3 550.7L117 548.6L118.2 546.2L119.4 542.5L119.8 542.2L121.4 541.5L130 538.7L133.3 537.3L137 535.5L139.7 534.5L142.3 534.1L144 534.1L146.8 535.4L148.5 535.9L150.5 536.3L153.3 536.4L155 538.4L162.3 550.2L163.1 552L163.7 555.5L163.8 560.8L163.2 565.5L162.1 568.8L160.4 571.5L158.3 574.2L151.3 582.2L148.3 585.2L147.3 586L146 586.6L143.5 587.1L142 587.3Z" fill="#1f90d0" fill-rule="evenodd"/><path d="M130.8 561.3L128.3 561.4L126 561L123.8 560.1L122.2 559L121.1 557.5L120.7 556L120.9 554.5L122 552.9L123.3 551.8L125 550.9L127 550.2L129 550L131 550.1L132.8 550.6L134.5 551.4L136 552.5L137 553.8L137.5 555L137.5 556.5L137 557.8L136 559L134.5 560L132.8 560.8L130.8 561.3ZM155 573.3L153.3 573.4L151.8 573L150.3 572.3L148.7 571L147.4 569.2L146.4 567.2L145.8 565.2L145.5 563L145.6 560.8L146 558.8L146.8 556.8L147.8 555L149.3 553.3L150.8 552.2L152.5 551.4L154 551.2L155.5 551.3L157 551.8L158.3 552.6L159.4 553.8L160.5 555.2L161.4 557L162 558.9L162.3 560.5L162.2 563L161.9 565.2L161.3 567.2L160.3 569.3L159.3 570.7L158 572.1L156.5 572.9L155 573.3ZM106.3 562.6L105.4 562.5L104.8 561.8L104.9 561L105.5 560.5L106.4 560.5L107 561.2L106.9 562L106.3 562.6ZM140 585.5L138.5 585.6L137.3 585.3L136.2 584.8L135.4 584L134.9 583L134.9 582L135.4 581L136.2 580.2L137.8 579.5L139.8 579.4L141.5 580L142.7 581L143.2 582.2L143.1 583L142.8 583.8L141.8 584.8L140 585.5Z" fill="#0b6db8" fill-rule="evenodd"/><path d="M130.3 558.5L129 558.7L127.5 558.7L126.3 558.4L125.1 557.8L124.3 557L123.9 556.2L123.9 555.2L124.3 554.5L125.8 553.3L127.8 552.7L130 552.8L132 553.6L133.1 554.8L133.3 555.5L133.3 556.2L132.9 557L132.3 557.6L130.3 558.5ZM154.5 569.8L153.5 569.9L152.5 569.8L151.5 569.4L150.5 568.6L149.8 567.7L149.1 566.5L148.4 564L148.5 561.2L149.4 558.8L150.1 557.8L151 556.9L152 556.3L153 556.1L154 556.1L155 556.3L156.6 557.5L157.9 559.5L158.6 562L158.6 564.5L157.8 567L157.1 568L156.3 568.9L154.5 569.8Z" fill="#0a50a0" fill-rule="evenodd"/><path d="M154 567L152.8 567L151.8 566.4L151 565.2L150.5 563.5L150.6 562L151.2 560.5L152.2 559.5L153.3 559.1L154.3 559.3L155.3 560L156 561.2L156.4 562.8L156.3 564.2L155.8 565.5L155 566.5L154 567Z" fill="#08306b" fill-rule="evenodd"/><path d="M144.8 592L136.3 592L136 591.9L134.3 591.9L134 591.6L133.3 591.6L133 591.4L132.5 591.4L130 590.1L128.8 589.1L128.5 589.1L127.8 588.4L126.8 587.9L126.3 587.4L126 587.4L125.5 586.9L125.3 586.9L124.8 586.4L124.5 586.4L124 585.9L123.8 585.9L123.3 585.4L121.3 584.4L120.8 583.9L120 583.6L119.5 583.1L118.8 582.9L118.3 582.4L117.5 582.1L117 581.6L116.3 581.4L115.8 580.9L115 580.6L113.8 579.6L113.5 579.6L112.3 578.6L112 578.6L111.5 578.1L111.3 578.1L110.8 577.6L110.5 577.6L109.8 576.9L109.5 576.9L108.3 575.9L108 575.9L105.3 573.6L105 573.6L101.9 570.5L101.9 570.2L100.9 569L99.7 566.5L99.7 565.8L99.4 565.5L99.4 564.8L99.2 564.5L99 562.8L99.2 554.2L99.4 554L99.4 553L99.9 552L99.9 551.5L101.4 548.5L102.2 547.8L102.2 547.5L105 544.6L105.3 544.6L106.3 543.6L106.5 543.6L109.3 541.4L110.3 540.9L111.8 539.6L112.5 539.4L113 538.9L115.5 537.6L116.8 537.4L117 537.1L117.5 537.1L117.8 536.9L118.3 536.9L118.5 536.6L119 536.6L119.3 536.4L119.8 536.4L120 536.1L120.8 536.1L121.8 535.6L122.5 535.6L123.5 535.1L124.3 535.1L125.3 534.6L125.8 534.6L126 534.4L126.5 534.4L126.8 534.1L127.3 534.1L127.5 533.9L128 533.9L130.5 532.6L131 532.6L135.3 530.4L135.8 530.4L136.5 529.9L137 529.9L138.5 529.1L139.3 529.1L139.5 528.9L140.5 528.9L140.8 528.6L142.5 528.6L142.8 528.5L150 528.5L150.3 528.6L151.5 528.6L151.8 528.9L152.5 528.9L152.8 529.1L153.3 529.1L154.8 529.9L156.9 531.8L156.9 532L158.2 533.2L158.7 534.2L159.7 535.5L159.9 536.2L160.4 536.8L161.4 538.8L161.9 539.2L163.2 541.8L164.2 543L164.4 543.8L165.4 545L165.7 545.8L166.9 547.5L167.7 549L167.7 549.5L168.2 550.2L168.2 550.8L168.4 551L168.4 552L168.7 552.2L168.7 553.8L168.8 554L168.7 564.5L168.4 564.8L168.4 566L168.2 566.2L168.2 567L167.9 567.2L167.9 567.8L167.7 568L167.4 569.2L166.9 570L166.9 570.5L166.4 571.5L165.9 572L165.7 572.8L165.2 573.2L164.7 574.2L163.9 575L163.4 576L161.7 578L161.7 578.2L160.9 579L160.9 579.2L159.7 580.5L159.7 580.8L155.9 584.8L155.9 585L151.3 589.6L151 589.6L150.3 590.4L148.3 591.4L147.8 591.4L147.5 591.6L146.8 591.6L146.5 591.9L145 591.9L144.8 592Z" fill="none" stroke="#1a1a1a" stroke-width="0.65"/><path d="M143.3 589L137.3 589.1L135.3 588.8L133.5 588.3L131.8 587.4L125 582.7L116.8 577.8L112.3 574.8L106.8 570.8L104.7 568.8L102.7 565.5L102.1 563.5L101.8 561.8L102 557.2L102.6 554L103 552.7L104.3 550.2L105 549.2L108 546.5L112.8 543L114.8 541.7L116.8 540.7L129.3 536.8L132.5 535.5L136.3 533.6L139.5 532.3L143.8 531.6L149 531.6L151.5 532.1L153 532.7L155.3 535L164.1 549.2L165.2 552L165.7 555L165.7 561.2L165.2 565L163.8 569.5L161.9 572.5L158 577.6L153 583.3L149.5 586.8L148.5 587.5L147 588.3L145.5 588.7L143.3 589Z" fill="none" stroke="#1a1a1a" stroke-width="0.65"/><path d="M130.8 561.3L128.3 561.4L126 561L123.8 560.1L122.2 559L121.1 557.5L120.7 556L120.9 554.5L122 552.9L123.3 551.8L125 550.9L127 550.2L129 550L131 550.1L132.8 550.6L134.5 551.4L136 552.5L137 553.8L137.5 555L137.5 556.5L137 557.8L136 559L134.5 560L132.8 560.8L130.8 561.3ZM155 573.3L153.3 573.4L151.8 573L150.3 572.3L148.7 571L147.4 569.2L146.4 567.2L145.8 565.2L145.5 563L145.6 560.8L146 558.8L146.8 556.8L147.8 555L149.3 553.3L150.8 552.2L152.5 551.4L154 551.2L155.5 551.3L157 551.8L158.3 552.6L159.4 553.8L160.5 555.2L161.4 557L162 558.9L162.3 560.5L162.2 563L161.9 565.2L161.3 567.2L160.3 569.3L159.3 570.7L158 572.1L156.5 572.9L155 573.3ZM106.3 562.6L105.4 562.5L104.8 561.8L104.9 561L105.5 560.5L106.4 560.5L107 561.2L106.9 562L106.3 562.6ZM140 585.5L138.5 585.6L137.3 585.3L136.2 584.8L135.4 584L134.9 583L134.9 582L135.4 581L136.2 580.2L137.8 579.5L139.8 579.4L141.5 580L142.7 581L143.2 582.2L143.1 583L142.8 583.8L141.8 584.8L140 585.5Z" fill="none" stroke="#1a1a1a" stroke-width="0.65"/><path d="M128.8 556.5L128 556.5L127.4 556.2L127.1 555.8L127.3 555.2L127.8 555L128.5 554.9L129.6 555.2L129.8 555.5L129.8 556L128.8 556.5ZM154.3 567.6L153 567.6L151.7 567L150.7 565.8L150.1 564L150.1 562.2L150.7 560.5L151.8 559.1L153 558.5L154.3 558.7L155.5 559.5L156.3 560.8L156.8 562.2L156.8 564L156.3 565.7L155.5 566.8L154.3 567.6Z" fill="none" stroke="#1a1a1a" stroke-width="0.65"/><path d="M126.5 533.5L125.3 536.9L123.5 543L121.3 549.5L119.5 555L117.9 559.8L118.3 565.5L119 571.3L120 576L120.8 580.5L122.5 587.3L123.5 592.5" fill="none" stroke="#fff" stroke-width="0.7" opacity="0.9" stroke-linejoin="round"/><path d="M103 543.5L109.3 549.5L113.5 555L117.9 559.8" fill="none" stroke="#fff" stroke-width="0.7" opacity="0.9" stroke-linejoin="round"/><path d="M132 533L134.5 536.9L142.5 541.5L147.1 543.8L152.8 539.2L155.5 533.5" fill="none" stroke="#fff" stroke-width="0.7" opacity="0.9" stroke-linejoin="round"/><path d="M147.1 543.8L148.2 552.9L144.8 561L143.7 565.6L144.8 570.1" fill="none" stroke="#fff" stroke-width="0.7" opacity="0.9" stroke-linejoin="round"/><path d="M118.5 570.7L125.3 569.5L134.5 570.1L144.8 570.7L151.7 572.4L156.3 575.9L160 579" fill="none" stroke="#fff" stroke-width="0.7" opacity="0.9" stroke-linejoin="round"/><path d="M123 586.2L131 585L139.1 585.6L146 586.7L151.7 588.5" fill="none" stroke="#fff" stroke-width="0.7" opacity="0.9" stroke-linejoin="round"/></g>
<text x="133.9" y="524.8" font-size="11.8" text-anchor="middle" fill="#111" font-style="italic">JADE2</text>
<rect x="173.3" y="528.5" width="69.8" height="63.6" fill="#f2f7fd"/>
<g clip-path="url(#fc10)"><path d="M219 592L210.5 592L210.3 591.9L208.5 591.9L208.3 591.6L207.5 591.6L207.3 591.4L206.8 591.4L204.3 590.1L203.8 589.6L202.8 589.1L202 588.4L201.8 588.4L201.3 587.9L201 587.9L197.5 585.4L196.8 585.1L196.3 584.6L195.5 584.4L195 583.9L194.3 583.6L193.8 583.1L193 582.9L192.5 582.4L191.8 582.1L190 580.9L189.3 580.6L186.5 578.6L186.3 578.6L185 577.6L184.8 577.6L184 576.9L183.8 576.9L183.3 576.4L182.3 575.9L179.5 573.6L179.3 573.6L176.1 570.5L176.1 570.2L175.1 569L173.9 566.5L173.6 564.8L173.4 564.5L173.4 563L173.2 562.8L173.4 554.2L173.6 554L173.6 553L174.1 552L174.1 551.5L175.6 548.5L176.4 547.8L176.4 547.5L179.3 544.6L179.5 544.6L180.5 543.6L180.8 543.6L183.5 541.4L184.5 540.9L185.3 540.1L186.8 539.4L187.3 538.9L189.8 537.6L190.3 537.6L190.5 537.4L191.8 537.1L192 536.9L192.5 536.9L192.8 536.6L193.3 536.6L194.3 536.1L195 536.1L196 535.6L196.8 535.6L197.8 535.1L198.5 535.1L198.8 534.9L199.3 534.9L199.5 534.6L200 534.6L200.3 534.4L200.8 534.4L201 534.1L202.3 533.9L203 533.4L203.5 533.5L204.3 533.1L207 532.8L208.8 533L211.3 533L215.3 532.2L217.3 531.2L218.5 530.2L218.8 529.5L219.5 529L221.3 528.5L224.3 528.5L224.5 528.6L225.8 528.6L226 528.9L226.8 528.9L227 529.2L227.5 529.2L228.5 529.7L229 530.3L230 531.8L230.8 534.7L232.2 537.2L233.3 538.5L235.3 539.8L237.8 542.2L238.6 543.8L239.6 545L239.9 545.8L240.4 546.2L240.6 547L241.1 547.5L241.9 549L241.9 549.5L242.4 550.2L242.4 550.8L242.6 551L242.6 552L242.9 552.2L242.9 553.8L243 554L243 562.2L242.9 562.5L242.9 564.5L242.6 564.8L242.6 566L242.4 566.2L242.4 567L242.1 567.2L241.9 568.5L241.6 568.8L241.6 569.2L241.1 570L241.1 570.5L240.6 571.5L240.1 572L239.9 572.8L238.9 574L238.9 574.2L237.6 575.8L237.6 576L235.9 578L235.9 578.2L235.1 579L235.1 579.2L233.9 580.5L233.9 580.8L230.1 584.8L230.1 585L225.5 589.6L225.3 589.6L224.5 590.4L222.5 591.4L222 591.4L221.8 591.6L221 591.6L220.8 591.9L219.3 591.9L219 592Z" fill="#d8e7f6" fill-rule="evenodd"/><path d="M218.8 590.8L218.3 590.9L211.3 590.9L210.5 590.7L209 590.6L207.3 590.1L204.8 588.9L198.3 584.4L189.8 579.4L179.8 572.4L177.3 570L176.3 568.4L175.1 566L174.4 562.2L174.4 556.8L174.6 556.2L174.9 553.5L175.4 552L176.8 549.2L177.6 548L181 544.9L185.8 541.4L188 540L190.3 538.9L205 534.3L212.5 533.6L215.8 533L217.5 532.3L221.8 530L223.8 529.7L226.3 530.2L227.3 530.8L228.1 531.5L229 533L230.3 536.1L231.5 538L237.1 543.8L240 548.2L241.4 551.5L241.7 554L241.9 554.5L241.9 561.8L241.7 562.2L241.4 565.5L239.9 570L237.6 573.8L233.9 578.8L229.3 583.9L228.9 584.5L225 588.4L224 589.1L222 590.1L220.3 590.6L218.8 590.8Z" fill="#bed8ee" fill-rule="evenodd"/><path d="M218.3 589.5L211.5 589.6L209.5 589.3L207.5 588.8L205.5 587.8L198.9 583.2L190.5 578.2L180.5 571.4L178.3 569.2L177.3 567.8L176.4 565.8L175.7 561.8L175.7 557.2L176.2 554L176.6 552.5L177.9 550L178.8 548.8L181.8 546L186.5 542.5L189 541L190.8 540.1L199.3 537.5L205.5 535.2L208.5 534.7L216.8 533.9L218 533.5L220.3 532L222 531.2L223.3 530.8L224.8 531L226.5 531.7L227.4 532.5L228.2 533.8L229.2 536.2L229.9 537.5L231.5 539.6L236 544.4L239 549.1L240.1 551.8L240.6 555L240.6 561.2L240 565.2L238.5 569.8L236.5 573L232.8 578L227.7 583.8L224.2 587.2L223 588.1L221.5 588.9L218.3 589.5Z" fill="#94c5e2" fill-rule="evenodd"/><path d="M219 588L217.8 588.2L211.8 588.2L209.8 588L208 587.5L206.5 586.8L199.8 582.2L194 578.7L192.7 577.8L191.7 576.8L191.7 573.5L191.4 571L190.8 569.2L190 568.5L189.3 568.6L186 570.5L184 571L183 571L182.3 570.8L181.3 570.2L180.3 569.4L179.4 568.5L178.3 566.5L177.9 565.2L178.1 564L178.6 562.8L179.3 561.8L180.5 560.6L182.8 559L183.3 558L182.8 556.5L179.4 551.5L179.3 551L180 549.5L181.5 548L187.5 543.5L191 541.5L199.5 538.8L206 536.1L211.3 535.2L212.8 535.1L216.3 535.4L218.5 535.2L220 534.4L221.5 532.8L222.2 532.2L223.3 531.9L224.5 532L225.7 532.5L226.4 533.2L226.7 537L227.3 538.3L228.5 539.4L231 540.7L232.1 541.8L235 545.1L238 549.8L238.8 552L239.4 555.2L239.3 561L238.6 565.8L237.3 569.2L233.5 574.8L228.6 580.8L223.5 586.1L221.3 587.5L219 588Z" fill="#57acd9" fill-rule="evenodd"/><path d="M213 576L211.5 576.2L210 575.9L208.5 575.2L207.4 574.2L206.6 573.2L206.1 572L205.7 570.5L205.5 567.8L205 566.8L201.8 563.9L196.7 557.8L191 552.4L186 547L185.9 546.8L186.5 545.9L188.8 544.2L191.5 542.7L199.8 540L206.3 537.1L210.5 536.2L211.5 536.3L215.9 538L222.8 541.5L225.3 542.6L227.8 543.2L231.8 543.5L232.5 544L233.5 545.1L235.5 547.8L237.2 550.8L237.7 552.2L238.2 555.5L238.1 560.8L237.5 564.8L236.6 567.5L235.3 570L233 572.9L232 573.6L227.8 571.3L225 570.1L222.3 569.4L219.8 569.4L219 569.7L218.5 570.2L217.2 572.8L216.1 574.2L214.8 575.3L213 576Z" fill="#1f90d0" fill-rule="evenodd"/><path d="M208.5 556.8L207 556.7L205.5 556.2L204.3 555.2L203 553.8L202.1 552L201.4 550L201 547.8L200.8 545.5L201.2 542.2L201.5 541L201.9 540.5L205 538.7L206.8 538L208.8 537.6L209.5 537.8L211 538.8L212.8 541L213.7 542.8L214.3 544.5L214.8 547.8L214.6 549.5L214.2 551.2L212.8 554L211.8 555.2L210.8 556L209.8 556.5L208.5 556.8ZM232.3 563.3L231.3 563.5L230.3 563.2L229.3 562.7L228.3 561.8L226.9 559.2L226.3 556.2L226.4 553.2L227.3 550.5L228.2 549.2L229 548.5L230 548L231 547.7L232.8 548.1L233.8 548.7L234.4 549.5L235.6 551.8L236.1 554.5L236 557.5L235.2 560.2L234 562.2L233.3 562.8L232.3 563.3ZM212.5 574.1L211.3 574.1L210 573.7L208.9 572.8L208.4 571.5L208.4 570.2L208.8 569L209.8 568L211 567.4L212.3 567.4L213.5 567.8L214.5 568.8L215 570L215 571.2L214.6 572.5L213.7 573.5L212.5 574.1Z" fill="#0b6db8" fill-rule="evenodd"/><path d="M207.5 553.3L206.8 553.1L205.9 552.8L204.5 551.3L203.6 549.2L203.2 546.8L203.4 544.2L204.3 542.1L205.5 540.6L207 540L208 540.2L208.8 540.5L210.3 541.9L211.3 544L211.7 546.5L211.5 549L210.6 551.2L209.3 552.7L208.5 553.1L207.5 553.3ZM231.5 560L230.5 559.8L229.5 558.9L228.9 557.5L228.6 555.8L228.8 554L229.3 552.5L230.3 551.5L231.3 551.1L232.3 551.4L233.3 552.5L233.8 553.8L234 555.5L233.8 557.2L233.3 558.7L232.5 559.6L231.5 560ZM212.5 572.5L211.8 572.7L211 572.6L210 571.8L209.8 571L209.9 570.2L210.8 569.3L211.5 569L212.3 569.1L212.9 569.5L213.3 570L213.5 570.8L213.4 571.5L213 572.2L212.5 572.5Z" fill="#0a50a0" fill-rule="evenodd"/><path d="M208.3 550L207.3 550.2L206.5 550L205.8 549.1L205.2 547.8L205.1 546.2L205.5 544.8L206.1 543.8L207 543.2L207.8 543.2L208.6 543.8L209.3 544.7L209.6 545.8L209.7 547L209.5 548.2L209 549.2L208.3 550Z" fill="#08306b" fill-rule="evenodd"/><path d="M219 592L210.5 592L210.3 591.9L208.5 591.9L208.3 591.6L207.5 591.6L207.3 591.4L206.8 591.4L204.3 590.1L203.8 589.6L202.8 589.1L202 588.4L201.8 588.4L201.3 587.9L201 587.9L197.5 585.4L196.8 585.1L196.3 584.6L195.5 584.4L195 583.9L194.3 583.6L193.8 583.1L193 582.9L192.5 582.4L191.8 582.1L190 580.9L189.3 580.6L186.5 578.6L186.3 578.6L185 577.6L184.8 577.6L184 576.9L183.8 576.9L183.3 576.4L182.3 575.9L179.5 573.6L179.3 573.6L176.1 570.5L176.1 570.2L175.1 569L173.9 566.5L173.6 564.8L173.4 564.5L173.4 563L173.2 562.8L173.4 554.2L173.6 554L173.6 553L174.1 552L174.1 551.5L175.6 548.5L176.4 547.8L176.4 547.5L179.3 544.6L179.5 544.6L180.5 543.6L180.8 543.6L183.5 541.4L184.5 540.9L185.3 540.1L186.8 539.4L187.3 538.9L189.8 537.6L190.3 537.6L190.5 537.4L191.8 537.1L192 536.9L192.5 536.9L192.8 536.6L193.3 536.6L194.3 536.1L195 536.1L196 535.6L196.8 535.6L197.8 535.1L198.5 535.1L198.8 534.9L199.3 534.9L199.5 534.6L200 534.6L200.3 534.4L200.8 534.4L201 534.1L202.3 533.9L203 533.4L203.5 533.5L204.3 533.1L207 532.8L208.8 533L211.3 533L215.3 532.2L217.3 531.2L218.5 530.2L218.8 529.5L219.5 529L221.3 528.5L224.3 528.5L224.5 528.6L225.8 528.6L226 528.9L226.8 528.9L227 529.2L227.5 529.2L228.5 529.7L229 530.3L230 531.8L230.8 534.7L232.2 537.2L233.3 538.5L235.3 539.8L237.8 542.2L238.6 543.8L239.6 545L239.9 545.8L240.4 546.2L240.6 547L241.1 547.5L241.9 549L241.9 549.5L242.4 550.2L242.4 550.8L242.6 551L242.6 552L242.9 552.2L242.9 553.8L243 554L243 562.2L242.9 562.5L242.9 564.5L242.6 564.8L242.6 566L242.4 566.2L242.4 567L242.1 567.2L241.9 568.5L241.6 568.8L241.6 569.2L241.1 570L241.1 570.5L240.6 571.5L240.1 572L239.9 572.8L238.9 574L238.9 574.2L237.6 575.8L237.6 576L235.9 578L235.9 578.2L235.1 579L235.1 579.2L233.9 580.5L233.9 580.8L230.1 584.8L230.1 585L225.5 589.6L225.3 589.6L224.5 590.4L222.5 591.4L222 591.4L221.8 591.6L221 591.6L220.8 591.9L219.3 591.9L219 592Z" fill="none" stroke="#1a1a1a" stroke-width="0.65"/><path d="M218.5 588.8L217.8 588.9L211.5 588.9L209.5 588.7L207.8 588.2L206 587.3L199.3 582.7L191 577.8L180.8 570.8L178.9 569L177.8 567.3L176.9 565.5L176.3 561.8L176.4 557.2L176.9 554L177.3 552.7L178.5 550.2L179.3 549.2L182.3 546.5L187 543L189.3 541.6L191 540.8L199.5 538.1L205.8 535.7L211 534.8L216 534.7L217.5 534.5L219 533.9L220.6 532.5L221.9 531.8L223.3 531.4L224.8 531.5L226.3 532.2L227 532.8L227.7 534.2L228 536.2L228.5 537.5L231.5 540.3L235.5 544.8L238.5 549.5L239.5 552L240 555L240 561.2L239.4 565L237.9 569.5L236 572.5L232.3 577.5L227.3 583.3L223.8 586.8L222.8 587.5L221.3 588.2L219.8 588.7L218.5 588.8Z" fill="none" stroke="#1a1a1a" stroke-width="0.65"/><path d="M208.5 556.8L207 556.7L205.5 556.2L204.3 555.2L203 553.8L202.1 552L201.4 550L201 547.8L200.8 545.5L201.2 542.2L201.5 541L201.9 540.5L205 538.7L206.8 538L208.8 537.6L209.5 537.8L211 538.8L212.8 541L213.7 542.8L214.3 544.5L214.8 547.8L214.6 549.5L214.2 551.2L212.8 554L211.8 555.2L210.8 556L209.8 556.5L208.5 556.8ZM232.3 563.3L231.3 563.5L230.3 563.2L229.3 562.7L228.3 561.8L226.9 559.2L226.3 556.2L226.4 553.2L227.3 550.5L228.2 549.2L229 548.5L230 548L231 547.7L232.8 548.1L233.8 548.7L234.4 549.5L235.6 551.8L236.1 554.5L236 557.5L235.2 560.2L234 562.2L233.3 562.8L232.3 563.3ZM212.5 574.1L211.3 574.1L210 573.7L208.9 572.8L208.4 571.5L208.4 570.2L208.8 569L209.8 568L211 567.4L212.3 567.4L213.5 567.8L214.5 568.8L215 570L215 571.2L214.6 572.5L213.7 573.5L212.5 574.1Z" fill="none" stroke="#1a1a1a" stroke-width="0.65"/><path d="M208 550.8L207 550.8L206 550.2L205.2 549L204.7 547.2L204.8 545.5L205.3 544L206.3 542.8L207.3 542.5L208.3 542.7L209.1 543.5L209.8 544.8L210.1 546.2L210 547.8L209.6 549.2L208.9 550.2L208 550.8ZM231.3 556.3L231 556L230.9 555.5L231.3 554.9L231.5 555L231.7 555.5L231.6 556L231.3 556.3Z" fill="none" stroke="#1a1a1a" stroke-width="0.65"/><path d="M200.8 533.5L199.6 536.9L197.8 543L195.6 549.5L193.8 555L192.2 559.8L192.6 565.5L193.3 571.3L194.3 576L195.1 580.5L196.8 587.3L197.8 592.5" fill="none" stroke="#fff" stroke-width="0.7" opacity="0.9" stroke-linejoin="round"/><path d="M177.3 543.5L183.6 549.5L187.8 555L192.2 559.8" fill="none" stroke="#fff" stroke-width="0.7" opacity="0.9" stroke-linejoin="round"/><path d="M206.3 533L208.8 536.9L216.8 541.5L221.4 543.8L227.1 539.2L229.8 533.5" fill="none" stroke="#fff" stroke-width="0.7" opacity="0.9" stroke-linejoin="round"/><path d="M221.4 543.8L222.5 552.9L219.1 561L218 565.6L219.1 570.1" fill="none" stroke="#fff" stroke-width="0.7" opacity="0.9" stroke-linejoin="round"/><path d="M192.8 570.7L199.6 569.5L208.8 570.1L219.1 570.7L226 572.4L230.6 575.9L234.3 579" fill="none" stroke="#fff" stroke-width="0.7" opacity="0.9" stroke-linejoin="round"/><path d="M197.3 586.2L205.3 585L213.4 585.6L220.3 586.7L226 588.5" fill="none" stroke="#fff" stroke-width="0.7" opacity="0.9" stroke-linejoin="round"/></g>
<text x="208.2" y="524.8" font-size="11.8" text-anchor="middle" fill="#111" font-style="italic">JADE3</text>
<rect x="247.5" y="528.5" width="69.8" height="63.6" fill="#f2f7fd"/>
<g clip-path="url(#fc11)"><path d="M293.2 592L282.7 591.9L282.5 591.6L281.7 591.6L281.5 591.4L281 591.4L278.5 590.1L277.2 589.1L277 589.1L276.2 588.4L276 588.4L274 586.9L273.7 586.9L271.7 585.4L271 585.1L270.5 584.6L269.7 584.3L269.2 583.8L268.5 583.6L268 583.1L266.5 582.2L263.7 580L260.2 576L258.7 574.6L256 572.6L251.4 570L249.9 568.8L248.2 566.5L247.9 564.8L247.7 564.5L247.6 563L247.5 562.8L247.6 554.2L247.9 554L247.9 553L248.1 552.8L248.4 551.5L249.9 548.5L250.6 547.8L250.6 547.5L253.5 544.6L253.7 544.6L254.7 543.6L255 543.6L257.7 541.4L258.7 540.9L260.2 539.6L261 539.4L261.5 538.9L264 537.6L264.5 537.6L264.7 537.4L265.2 537.4L265.5 537.1L266 537.1L266.2 536.9L266.7 536.9L267 536.6L268.2 536.4L268.5 536.1L269.2 536.1L270.2 535.6L271 535.6L272 535.1L272.7 535.1L273 534.9L273.5 534.9L273.7 534.6L274.2 534.6L274.5 534.4L275 534.4L275.2 534.1L276.5 533.9L279 532.6L279.5 532.6L283.7 530.4L284.2 530.4L285 529.9L285.5 529.9L286.2 529.4L286.7 529.4L287 529.1L287.7 529.1L288 528.9L291.2 528.5L300 528.6L300.2 528.8L301.7 529.1L303.2 529.8L304.9 531.2L306.6 533.2L307.1 534.2L307.6 534.8L307.6 535L308.1 535.5L308.4 536.2L308.9 536.8L309.1 537.5L309.6 538L309.9 538.8L310.4 539.2L311.6 541.8L312.6 543L313.4 544.5L313.9 545L314.1 545.8L314.6 546.2L314.9 547L315.4 547.5L316.1 549L316.1 549.5L316.9 551L316.9 552L317.1 552.2L317.1 553.8L317.3 554L317.1 564.5L316.9 564.8L316.9 566L316.6 566.2L316.6 567L316.4 567.2L316.4 567.8L316.1 568L315.9 569.2L315.4 570L315.4 570.5L314.9 571.5L314.4 572L314.1 572.8L313.6 573.2L313.1 574.2L312.4 575L311.9 576L310.1 578L310.1 578.2L309.4 579L309.4 579.2L308.1 580.5L308.1 580.8L304.4 584.8L304.4 585L299.7 589.6L299.5 589.6L298.7 590.4L296.7 591.4L296.2 591.4L296 591.6L295.2 591.6L295 591.9L293.5 591.9L293.2 592Z" fill="#d8e7f6" fill-rule="evenodd"/><path d="M293 590.8L292.5 590.9L285.5 590.9L284.7 590.7L283.2 590.6L281.5 590.1L279 588.9L268 581.5L264 578L263.3 577L262.8 575.2L262.1 573.8L261.2 572.5L260 571.3L258.5 570.3L256.7 569.5L255 569L252.2 568.6L251.2 567.8L250.3 566.8L249.4 565L248.7 562.2L248.6 556.8L248.8 556.2L249.1 553.5L249.6 552L251 549.2L251.9 548L255.2 544.9L260 541.4L262.2 540L264.5 538.9L277 535L280 533.7L284.2 531.6L287.5 530.3L289.7 529.7L291.2 529.6L291.7 529.3L298 529.1L301.2 530L302.7 530.8L304.2 532.1L305.5 533.8L306.9 536L309.9 541.2L314.2 548.2L315.6 551.5L315.9 554L316.1 554.5L316.1 561.8L315.9 562.2L315.6 565.5L314.1 570L311.9 573.8L308.1 578.8L303.5 583.9L303.1 584.5L299.2 588.4L298.2 589.1L296.2 590.1L294.5 590.6L293 590.8Z" fill="#bed8ee" fill-rule="evenodd"/><path d="M292.5 589.5L285.7 589.6L283.7 589.3L282 588.9L279.8 587.8L271.2 582L268.8 580L268.8 575.8L268.2 569.2L268.2 566.8L268.6 564.2L270.2 559.8L270.4 558.8L270 558L268.5 557.1L267.7 556.2L267.1 555.2L267 554.2L267.2 553.2L267.6 552.5L268.5 551.6L269.9 550.8L270.3 550.2L270.3 549.8L270 548.2L267.2 540L267.7 539.5L269.3 538.8L273.5 537.6L278.7 535.7L284.5 532.9L287.7 531.6L292.2 530.3L295.2 530L297.7 530L301 530.9L302.2 531.7L303.3 532.8L304.6 534.5L308.7 541.9L313.1 549L314.3 551.8L314.8 555L314.8 561.2L314.3 565.2L312.8 569.8L310.7 573L307 578L302 583.8L298.5 587.2L297.2 588.1L295.7 588.9L292.5 589.5Z" fill="#94c5e2" fill-rule="evenodd"/><path d="M305.5 577.1L300.7 576.9L298.2 576.2L296.4 575L292.7 571.7L288.2 569.3L286.5 567.8L285.7 566.6L285.1 565L283.7 559.5L282.8 557L275.4 540.8L274.7 539L274.9 538.8L275.7 538.2L281 536.2L287.6 533L292.2 531.3L293.5 531.1L296.7 530.7L299 531.1L301 532L302.6 533.5L303.6 535L307.5 542.5L312 549.8L312.9 552L313.5 555.2L313.5 561L312.9 565L312.1 567.8L311.5 569.3L308.5 573.8L306.7 576L305.5 577.1Z" fill="#57acd9" fill-rule="evenodd"/><path d="M301.2 572.3L300.2 572.3L299.2 572L298.2 571.4L297.2 570.5L295.7 568L293.5 562.9L292.7 561.6L287.7 556.5L284.5 552.2L283.5 550.2L282.6 548L280.2 538.5L280.8 537.8L288 534.2L292.5 532.2L294.7 531.7L297.5 531.6L299.7 532.3L301.2 533.2L302 534.2L302.9 535.8L305.7 542.1L306.1 543.2L306 543.7L304.5 545L303.6 546.2L303.2 547.2L303.1 548.5L303.5 550.2L305.6 554.8L306.6 558L307 561.5L306.8 564.5L306.1 567.2L304.7 569.8L303 571.5L301.2 572.3Z" fill="#1f90d0" fill-rule="evenodd"/><path d="M291.7 551.8L290 551.9L288.2 551.1L286.7 549.5L285.9 547.2L285.8 545.5L286.1 544L286.7 542.7L288.2 540.8L288.6 539.8L288.8 535.5L289.6 534.8L290.7 534.1L292.5 533.2L294 532.6L296.7 532.3L298.7 532.7L300.2 533.5L301.3 534.8L302.4 537L302.7 538.8L301.7 540L300.2 541.4L296 543.8L295.2 544.5L294.7 545.5L294.3 548.2L293.8 549.8L293 551L291.7 551.8ZM301.2 569.5L300.5 569.7L299.7 569.5L299 569.2L298.2 568.4L297 566.2L296.4 563.5L296.3 560.8L296.9 558.2L298 556.5L298.7 556L299.5 555.7L301 556L302.5 557.3L303.5 559.2L304.1 561.8L304.2 564.2L303.6 566.8L302.6 568.5L301.2 569.5Z" fill="#0b6db8" fill-rule="evenodd"/><path d="M296.7 540.8L295.2 540.8L294 540.4L293 539.7L292.2 538.8L291.6 537.2L291.6 535.5L291.8 534.8L292.7 534L295 533.2L297.2 533.1L299.5 534L300.1 534.5L300.7 535.4L301.1 537L300.4 538.5L298.7 540L296.7 540.8ZM300.7 567L299.7 566.9L299 566.3L298.4 565L298.1 563.5L298.1 562L298.5 560.7L299.2 559.6L300 559.3L301 559.5L301.7 560.2L302.2 561.5L302.5 562.8L302.4 564.2L302.1 565.5L301.5 566.5L300.7 567Z" fill="#0a50a0" fill-rule="evenodd"/><path d="M297 539.1L296 539.1L295.2 539L294.4 538.5L293.7 537.8L293.4 537L293.2 536L293.4 535L293.8 534.5L295.2 533.9L297 533.8L298.5 534.3L299.4 535L299.7 536L299.2 537.5L298.2 538.5L297 539.1Z" fill="#08306b" fill-rule="evenodd"/><path d="M293.2 592L282.7 591.9L282.5 591.6L281.7 591.6L281.5 591.4L281 591.4L278.5 590.1L277.2 589.1L277 589.1L276.2 588.4L276 588.4L274 586.9L273.7 586.9L271.7 585.4L271 585.1L270.5 584.6L269.7 584.3L269.2 583.8L268.5 583.6L268 583.1L266.5 582.2L263.7 580L260.2 576L258.7 574.6L256 572.6L251.4 570L249.9 568.8L248.2 566.5L247.9 564.8L247.7 564.5L247.6 563L247.5 562.8L247.6 554.2L247.9 554L247.9 553L248.1 552.8L248.4 551.5L249.9 548.5L250.6 547.8L250.6 547.5L253.5 544.6L253.7 544.6L254.7 543.6L255 543.6L257.7 541.4L258.7 540.9L260.2 539.6L261 539.4L261.5 538.9L264 537.6L264.5 537.6L264.7 537.4L265.2 537.4L265.5 537.1L266 537.1L266.2 536.9L266.7 536.9L267 536.6L268.2 536.4L268.5 536.1L269.2 536.1L270.2 535.6L271 535.6L272 535.1L272.7 535.1L273 534.9L273.5 534.9L273.7 534.6L274.2 534.6L274.5 534.4L275 534.4L275.2 534.1L276.5 533.9L279 532.6L279.5 532.6L283.7 530.4L284.2 530.4L285 529.9L285.5 529.9L286.2 529.4L286.7 529.4L287 529.1L287.7 529.1L288 528.9L291.2 528.5L300 528.6L300.2 528.8L301.7 529.1L303.2 529.8L304.9 531.2L306.6 533.2L307.1 534.2L307.6 534.8L307.6 535L308.1 535.5L308.4 536.2L308.9 536.8L309.1 537.5L309.6 538L309.9 538.8L310.4 539.2L311.6 541.8L312.6 543L313.4 544.5L313.9 545L314.1 545.8L314.6 546.2L314.9 547L315.4 547.5L316.1 549L316.1 549.5L316.9 551L316.9 552L317.1 552.2L317.1 553.8L317.3 554L317.1 564.5L316.9 564.8L316.9 566L316.6 566.2L316.6 567L316.4 567.2L316.4 567.8L316.1 568L315.9 569.2L315.4 570L315.4 570.5L314.9 571.5L314.4 572L314.1 572.8L313.6 573.2L313.1 574.2L312.4 575L311.9 576L310.1 578L310.1 578.2L309.4 579L309.4 579.2L308.1 580.5L308.1 580.8L304.4 584.8L304.4 585L299.7 589.6L299.5 589.6L298.7 590.4L296.7 591.4L296.2 591.4L296 591.6L295.2 591.6L295 591.9L293.5 591.9L293.2 592Z" fill="none" stroke="#1a1a1a" stroke-width="0.65"/><path d="M292.2 588.5L286 588.5L282.7 588L279.7 586.5L275.7 583.8L274.6 582.8L274.1 575.2L274.2 573.2L274.5 571.5L275.5 569L278.3 565.8L279.2 564.2L280 562L280.1 559.8L279.6 557L278.5 553.9L276.5 549.3L273.2 542.8L271.8 539.2L271.9 539L272.7 538.5L279 536.3L284.7 533.6L289 531.8L293.5 530.6L295.7 530.3L297.7 530.4L299.2 530.7L301 531.5L302 532.2L303.1 533.2L304.1 534.8L308.2 542.2L312.6 549.5L313.7 552L314.2 555L314.2 561.2L313.7 565L312.1 569.5L310.3 572.5L306.5 577.6L301.3 583.2L297.9 586.5L296.7 587.3L295.5 587.9L292.2 588.5Z" fill="none" stroke="#1a1a1a" stroke-width="0.65"/><path d="M291.7 551.8L290 551.9L288.2 551.1L286.7 549.5L285.9 547.2L285.8 545.5L286.1 544L286.7 542.7L288.2 540.8L288.6 539.8L288.8 535.5L289.6 534.8L290.7 534.1L292.5 533.2L294 532.6L296.7 532.3L298.7 532.7L300.2 533.5L301.3 534.8L302.4 537L302.7 538.8L301.7 540L300.2 541.4L296 543.8L295.2 544.5L294.7 545.5L294.3 548.2L293.8 549.8L293 551L291.7 551.8ZM301.2 569.5L300.5 569.7L299.7 569.5L299 569.2L298.2 568.4L297 566.2L296.4 563.5L296.3 560.8L296.9 558.2L298 556.5L298.7 556L299.5 555.7L301 556L302.5 557.3L303.5 559.2L304.1 561.8L304.2 564.2L303.6 566.8L302.6 568.5L301.2 569.5Z" fill="none" stroke="#1a1a1a" stroke-width="0.65"/><path d="M297.2 539.3L296.2 539.5L295.2 539.3L294.5 539L293.7 538.2L293.1 537.2L292.9 536.2L293.1 535L293.4 534.5L295 533.8L297 533.6L298.5 534.1L299.7 535L300 536L299.6 537.5L298.5 538.7L297.2 539.3Z" fill="none" stroke="#1a1a1a" stroke-width="0.65"/><path d="M275 533.5L273.8 536.9L272 543L269.8 549.5L268 555L266.4 559.8L266.8 565.5L267.5 571.3L268.5 576L269.3 580.5L271 587.3L272 592.5" fill="none" stroke="#fff" stroke-width="0.7" opacity="0.9" stroke-linejoin="round"/><path d="M251.5 543.5L257.8 549.5L262 555L266.4 559.8" fill="none" stroke="#fff" stroke-width="0.7" opacity="0.9" stroke-linejoin="round"/><path d="M280.5 533L283 536.9L291 541.5L295.6 543.8L301.3 539.2L304 533.5" fill="none" stroke="#fff" stroke-width="0.7" opacity="0.9" stroke-linejoin="round"/><path d="M295.6 543.8L296.7 552.9L293.3 561L292.2 565.6L293.3 570.1" fill="none" stroke="#fff" stroke-width="0.7" opacity="0.9" stroke-linejoin="round"/><path d="M267 570.7L273.8 569.5L283 570.1L293.3 570.7L300.2 572.4L304.8 575.9L308.5 579" fill="none" stroke="#fff" stroke-width="0.7" opacity="0.9" stroke-linejoin="round"/><path d="M271.5 586.2L279.5 585L287.6 585.6L294.5 586.7L300.2 588.5" fill="none" stroke="#fff" stroke-width="0.7" opacity="0.9" stroke-linejoin="round"/></g>
<text x="282.4" y="524.8" font-size="11.8" text-anchor="middle" fill="#111" font-style="italic">KAT7</text>
<rect x="321.7" y="528.5" width="69.8" height="63.6" fill="#f2f7fd"/>
<g clip-path="url(#fc12)"><path d="M367.5 592L359 592L358.7 591.9L357 591.9L356.7 591.6L356 591.6L355.7 591.4L355.2 591.4L352.7 590.1L351.5 589.1L351.2 589.1L350.5 588.4L349.5 587.9L349 587.4L348.7 587.4L348.2 586.9L348 586.9L347.5 586.4L347.2 586.4L346.7 585.9L346.5 585.9L346 585.4L345.2 585.1L344.7 584.6L344 584.4L343.5 583.9L342.7 583.6L342.2 583.1L341.5 582.9L341 582.4L340.2 582.1L339.7 581.6L337.7 580.6L337.2 580.1L337 580.1L333.5 577.6L333.2 577.6L332.5 576.9L332.2 576.9L331 575.8L330.7 575.8L328.7 574.2L327.7 573L326.6 571L325.5 566.8L325.4 565.5L325.9 558.8L325.6 552.5L326.5 548L327.8 545.2L329 543.8L330 542.9L330.2 542.9L332 541.4L332.2 541.4L333.7 540.1L335.2 539.4L335.7 538.9L338.2 537.6L339.5 537.4L339.7 537.1L340.2 537.1L340.5 536.9L341 536.9L341.2 536.6L341.7 536.6L342 536.4L342.5 536.4L342.7 536.1L343.5 536.1L344.5 535.6L345.2 535.6L346.2 535.1L347 535.1L347.2 534.9L347.7 534.9L348 534.6L348.5 534.6L348.7 534.4L349.2 534.4L349.5 534.1L350.7 533.9L353.2 532.6L353.7 532.6L358 530.4L358.5 530.4L359.2 529.9L359.7 529.9L361.2 529.1L362 529.1L362.2 528.9L363.2 528.9L363.5 528.6L365.2 528.6L365.5 528.5L372.7 528.5L373 528.6L374.2 528.6L374.5 528.9L375.2 528.9L375.5 529.1L376 529.1L377.5 529.9L379.6 531.8L379.6 532L380.8 533.2L381.3 534.2L382.3 535.5L382.6 536.2L383.1 536.8L384.1 538.8L384.6 539.2L385.9 541.8L386.9 543L387.1 543.8L388.1 545L388.4 545.8L389.6 547.5L390.4 549L390.4 549.5L390.9 550.2L390.9 550.8L391.1 551L391.1 552L391.4 552.2L391.5 561.2L391.4 564.5L391.1 564.8L391.1 566L390.9 566.2L390.9 567L390.6 567.2L390.6 567.8L390.1 568.8L390.1 569.2L389.6 570L389.6 570.5L389.1 571.5L388.6 572L388.4 572.8L387.4 574L387.4 574.2L386.1 575.8L386.1 576L384.3 578L384.3 578.2L383.6 579L383.6 579.2L382.3 580.5L382.3 580.8L378.6 584.8L378.6 585L374 589.6L373.7 589.6L373 590.4L371 591.4L370.5 591.4L370.2 591.6L369.5 591.6L369.2 591.9L367.7 591.9L367.5 592Z" fill="#d8e7f6" fill-rule="evenodd"/><path d="M367.2 590.8L366.7 590.9L359.7 590.9L359 590.7L357.5 590.6L355.7 590.1L353.2 588.9L346.7 584.4L338.2 579.4L333.7 576.3L331.3 574.5L329.5 572.8L328.5 571.8L327.7 570.4L327.2 569.2L326.9 568.2L327.5 563L327.7 559L327.5 555L327 550.2L327.4 548.8L328.6 546.5L330.6 544.2L335 540.9L338.7 538.9L351.2 535L354.2 533.7L358.5 531.6L361.7 530.4L366 529.6L372.2 529.6L375.5 530.4L377 531.1L378.3 532.2L379.6 533.8L381.1 536L384.2 541.2L388.5 548L389.8 550.8L390.3 552.8L390.3 554L390.5 554.5L390.5 561.8L390.3 562.2L390 565.5L388.5 570L386.2 573.8L382.4 578.8L377.7 583.9L377.3 584.5L373.5 588.4L372.5 589.1L370.5 590.2L368.7 590.7L367.2 590.8Z" fill="#bed8ee" fill-rule="evenodd"/><path d="M367 589.6L366.5 589.7L360 589.6L358 589.3L356 588.8L354 587.8L347.4 583.2L339 578.2L332.2 573.5L330.4 571.8L329.9 570.8L330.6 564.2L330.6 558.5L330.1 553.8L329.1 548.2L329.4 547.5L330.4 546.2L333.3 543.8L336 541.9L339.2 540.1L351.7 536.2L354.7 535L358.7 533L362 531.7L366.5 530.9L371.7 530.9L375.2 531.7L376.2 532.2L377.4 533.2L378.5 534.5L380 536.8L383 541.8L387.6 548.8L388.6 551L389.1 553L389.3 555L389.3 561.2L388.8 565.2L387.3 569.8L385.7 572.2L383.1 575.8L376.2 583.8L372.7 587.3L371.5 588.2L370 589L368.5 589.4L367 589.6ZM354.9 566.5L356 565.9L356.8 564.8L357.1 563.2L357 561.8L356.5 560.4L355.5 559.2L354.5 558.7L353.2 558.7L352 559.4L351.2 560.5L350.8 562L350.9 563.5L351.5 564.9L352.5 566L353.7 566.6L354.9 566.5Z" fill="#94c5e2" fill-rule="evenodd"/><path d="M366.5 588.5L360.2 588.3L358.2 588L356.5 587.5L354 586.1L346.2 580.9L345.6 580.2L345.5 579.8L347.2 574.8L347.7 573.8L348.5 572.9L349.2 572.4L350 572.3L353.7 572.4L355.7 572L357.5 571.2L358.9 569.8L359.8 567.8L360.2 565.2L360.2 562.2L359.7 559.5L358.7 556.9L357.2 554.8L355.2 552.9L352 550.6L349 548.8L347 548L345.2 547.7L342 547.6L340.2 547.2L337.7 545.7L336 544.2L336 544L338 542.4L339.7 541.5L352.2 537.5L362 533.1L366.7 532.2L371.5 532.2L374 532.7L375.2 533.2L377.3 535.2L381.9 542.5L386.6 549.5L387.7 552L388.2 555L388.1 561.2L387.6 565L386.7 568L385.2 570.8L382.8 574L378.9 578.8L372 586.3L369.7 587.8L368.2 588.3L366.5 588.5Z" fill="#57acd9" fill-rule="evenodd"/><path d="M379.7 575.3L373 573.4L369.5 572L366.5 569.9L365.3 568.5L364.5 567.2L363.8 565.2L363.4 562.8L363.3 559.8L363.5 555L363.4 553.5L362.8 552L360.1 547.8L359.5 546.2L359.1 544.5L359 542.2L359.3 539.2L359.7 537.9L360.4 537.2L362.2 537L371 537.2L376 536.4L377.7 538.3L380.7 543L384 547.5L385.9 550.5L386.5 552.2L387 555.2L387 561L386.5 564.8L385.9 567L385 569L381.8 573.2L381 574.3L379.7 575.3ZM367.2 587.3L366.2 587.4L365.2 587.2L364.4 586.8L363.8 586L363.5 585.2L363.6 584.2L364.1 583.5L365 582.8L366.2 582.4L367.7 582.5L369 583.1L369.7 584L369.9 585.2L369.5 586.2L368.4 587L367.2 587.3Z" fill="#1f90d0" fill-rule="evenodd"/><path d="M381.5 571L376.7 571L374.7 570.7L372.7 570.1L371.2 569.4L369.7 568.5L368.4 567.2L367.5 566L366.9 564.8L366.6 563.2L366.5 561.8L366.8 560.2L367.7 557.9L370.7 553L371.1 551.8L371.2 550.5L371 549.8L370.6 549.5L366.5 548.9L365.2 548.4L364.2 547.5L363.5 546.2L363.4 545L364 543.8L365 542.9L366 542.5L367 542.4L369 542.7L370.4 543.5L372.7 545.7L373.5 546L374.7 545.8L378.7 544L379.5 543.9L381.6 546.2L384.7 550.7L385.5 552.5L385.9 555.5L386 560.8L385.7 563L385.2 565.8L384 568.5L382.7 570.2L382 570.9L381.5 571Z" fill="#0b6db8" fill-rule="evenodd"/><path d="M378.2 568.5L376.5 568.6L374.7 568.4L373 567.8L371.6 567L370.5 566L369.7 564.8L369.3 563.5L369.3 562L369.7 560.3L370.6 558.8L376.5 551.8L377.5 550.9L378.5 550.3L379.5 550L380.7 549.9L382 550.4L383 551.1L383.7 552.1L384.2 553.4L384.6 557.2L384.7 560.5L384.5 563L383.9 565L382.5 566.8L380.5 568L378.2 568.5Z" fill="#0a50a0" fill-rule="evenodd"/><path d="M376.2 566.3L374.2 565.8L372.8 564.8L372 563.2L372.1 561.8L373.1 560L375 558.4L377.2 557.3L378.7 557.3L379.7 558L380.5 559.5L380.9 561.2L380.8 563L380.2 564.2L379.2 565.3L377.9 566L376.2 566.3Z" fill="#08306b" fill-rule="evenodd"/><path d="M367.5 592L359 592L358.7 591.9L357 591.9L356.7 591.6L356 591.6L355.7 591.4L355.2 591.4L352.7 590.1L351.5 589.1L351.2 589.1L350.5 588.4L349.5 587.9L349 587.4L348.7 587.4L348.2 586.9L348 586.9L347.5 586.4L347.2 586.4L346.7 585.9L346.5 585.9L346 585.4L345.2 585.1L344.7 584.6L344 584.4L343.5 583.9L342.7 583.6L342.2 583.1L341.5 582.9L341 582.4L340.2 582.1L339.7 581.6L337.7 580.6L337.2 580.1L337 580.1L333.5 577.6L333.2 577.6L332.5 576.9L332.2 576.9L331 575.8L330.7 575.8L328.7 574.2L327.7 573L326.6 571L325.5 566.8L325.4 565.5L325.9 558.8L325.6 552.5L326.5 548L327.8 545.2L329 543.8L330 542.9L330.2 542.9L332 541.4L332.2 541.4L333.7 540.1L335.2 539.4L335.7 538.9L338.2 537.6L339.5 537.4L339.7 537.1L340.2 537.1L340.5 536.9L341 536.9L341.2 536.6L341.7 536.6L342 536.4L342.5 536.4L342.7 536.1L343.5 536.1L344.5 535.6L345.2 535.6L346.2 535.1L347 535.1L347.2 534.9L347.7 534.9L348 534.6L348.5 534.6L348.7 534.4L349.2 534.4L349.5 534.1L350.7 533.9L353.2 532.6L353.7 532.6L358 530.4L358.5 530.4L359.2 529.9L359.7 529.9L361.2 529.1L362 529.1L362.2 528.9L363.2 528.9L363.5 528.6L365.2 528.6L365.5 528.5L372.7 528.5L373 528.6L374.2 528.6L374.5 528.9L375.2 528.9L375.5 529.1L376 529.1L377.5 529.9L379.6 531.8L379.6 532L380.8 533.2L381.3 534.2L382.3 535.5L382.6 536.2L383.1 536.8L384.1 538.8L384.6 539.2L385.9 541.8L386.9 543L387.1 543.8L388.1 545L388.4 545.8L389.6 547.5L390.4 549L390.4 549.5L390.9 550.2L390.9 550.8L391.1 551L391.1 552L391.4 552.2L391.5 561.2L391.4 564.5L391.1 564.8L391.1 566L390.9 566.2L390.9 567L390.6 567.2L390.6 567.8L390.1 568.8L390.1 569.2L389.6 570L389.6 570.5L389.1 571.5L388.6 572L388.4 572.8L387.4 574L387.4 574.2L386.1 575.8L386.1 576L384.3 578L384.3 578.2L383.6 579L383.6 579.2L382.3 580.5L382.3 580.8L378.6 584.8L378.6 585L374 589.6L373.7 589.6L373 590.4L371 591.4L370.5 591.4L370.2 591.6L369.5 591.6L369.2 591.9L367.7 591.9L367.5 592Z" fill="none" stroke="#1a1a1a" stroke-width="0.65"/><path d="M366.7 589L360 588.9L358 588.7L356.2 588.2L354.5 587.3L347.7 582.7L342 579.2L339.8 577.5L340.8 567.5L340.8 565.5L340.6 563.8L340.1 562.5L339.3 561.2L335.7 557.1L334.2 554.8L332.7 551.7L331 547L331.7 546L333.7 544.3L336.2 542.5L339.5 540.8L352 536.8L355.2 535.5L359 533.6L362.2 532.3L366.5 531.6L371.7 531.6L374.2 532.1L375.7 532.7L378 535L382.5 542.2L387 549L388 551.2L388.5 553.2L388.8 555L388.7 561.2L388 566L386.7 569.5L385.1 572L382.6 575.2L375.7 583.3L372.4 586.8L371.2 587.7L370 588.3L368.2 588.9L366.7 589ZM355.1 569L356 568.7L357 568L358.2 566.2L358.7 563.8L358.5 561L357.6 558.8L356.2 557L355.2 556.3L354.2 555.9L352.2 555.8L351.2 556.2L350.2 556.8L348.6 558.8L347.7 561.2L347.8 563.5L348.2 564.8L348.9 566L350.7 567.9L351.7 568.5L353 569L354 569.1L355.1 569Z" fill="none" stroke="#1a1a1a" stroke-width="0.65"/><path d="M381.5 571L376.7 571L374.7 570.7L372.7 570.1L371.2 569.4L369.7 568.5L368.4 567.2L367.5 566L366.9 564.8L366.6 563.2L366.5 561.8L366.8 560.2L367.7 557.9L370.7 553L371.1 551.8L371.2 550.5L371 549.8L370.6 549.5L366.5 548.9L365.2 548.4L364.2 547.5L363.5 546.2L363.4 545L364 543.8L365 542.9L366 542.5L367 542.4L369 542.7L370.4 543.5L372.7 545.7L373.5 546L374.7 545.8L378.7 544L379.5 543.9L381.6 546.2L384.7 550.7L385.5 552.5L385.9 555.5L386 560.8L385.7 563L385.2 565.8L384 568.5L382.7 570.2L382 570.9L381.5 571Z" fill="none" stroke="#1a1a1a" stroke-width="0.65"/><path d="M376.7 566.8L374.5 566.5L373.4 566L372.5 565.3L371.9 564.5L371.5 563.5L371.5 561.8L372.5 559.9L374.5 558L377.5 556.1L378.5 555.8L379.2 555.9L380.3 556.8L381.2 558.5L381.7 561L381.5 563L380.9 564.5L380 565.5L378.5 566.4L376.7 566.8Z" fill="none" stroke="#1a1a1a" stroke-width="0.65"/><path d="M349.2 533.5L348 536.9L346.2 543L344 549.5L342.2 555L340.6 559.8L341 565.5L341.7 571.3L342.7 576L343.5 580.5L345.2 587.3L346.2 592.5" fill="none" stroke="#fff" stroke-width="0.7" opacity="0.9" stroke-linejoin="round"/><path d="M325.7 543.5L332 549.5L336.2 555L340.6 559.8" fill="none" stroke="#fff" stroke-width="0.7" opacity="0.9" stroke-linejoin="round"/><path d="M354.7 533L357.2 536.9L365.2 541.5L369.8 543.8L375.5 539.2L378.2 533.5" fill="none" stroke="#fff" stroke-width="0.7" opacity="0.9" stroke-linejoin="round"/><path d="M369.8 543.8L370.9 552.9L367.5 561L366.4 565.6L367.5 570.1" fill="none" stroke="#fff" stroke-width="0.7" opacity="0.9" stroke-linejoin="round"/><path d="M341.2 570.7L348 569.5L357.2 570.1L367.5 570.7L374.4 572.4L379 575.9L382.7 579" fill="none" stroke="#fff" stroke-width="0.7" opacity="0.9" stroke-linejoin="round"/><path d="M345.7 586.2L353.7 585L361.8 585.6L368.7 586.7L374.4 588.5" fill="none" stroke="#fff" stroke-width="0.7" opacity="0.9" stroke-linejoin="round"/><path d="M382.7 569.5L379.7 569.6L376.7 569.2L374 568.2L371.5 566.8L369.4 565L365.8 560.8L360.9 556.2L360 554.8L360 554L360.2 553.5L361.5 552.9L364 552.8L372.5 554.4L378.7 555.3L382.5 556.3L385.7 558L387.7 559.8L388.8 561.5L389.4 563.2L389.2 565L388.5 566.6L387 568L385 569L382.7 569.5Z" fill="none" stroke="#a81c2c" stroke-width="1.1"/><path d="M381 566.8L379.2 566.8L377.2 566.5L375.5 565.9L373.7 564.8L371.7 563.1L367.7 558.5L367.1 557.5L367.1 556.8L367.7 556.4L369.2 556.4L377 557.5L380.5 558.4L383 559.7L384.1 560.8L384.8 561.8L385.2 563L385.1 564L384.6 565L383.7 565.8L382.5 566.4L381 566.8Z" fill="none" stroke="#a81c2c" stroke-width="1.1"/></g>
<text x="356.6" y="524.8" font-size="11.8" text-anchor="middle" fill="#111" font-style="italic">KAT6A</text>
<rect x="396" y="528.5" width="69.8" height="63.6" fill="#f2f7fd"/>
<g clip-path="url(#fc13)"><path d="M441.7 592L433.2 592L433 591.9L431.2 591.9L431 591.6L430.2 591.6L430 591.4L429.5 591.4L427 590.1L425.7 589.1L425.5 589.1L424.7 588.4L424.5 588.4L422.5 586.9L422.2 586.9L420.2 585.4L418.2 584.4L417.7 583.9L417 583.6L416.5 583.1L415.7 582.9L415.2 582.4L414.5 582.1L414 581.6L413.2 581.4L412.7 580.9L412 580.6L408.5 578.1L408.2 578.1L407.7 577.6L407.5 577.6L406.7 576.9L406.5 576.9L406 576.4L405 575.9L402.2 573.6L402 573.6L398.8 570.5L398.8 570.2L397.8 569L396.6 566.5L396.6 565.8L396.3 565.5L396.3 564.8L396.1 564.5L396.1 563L395.9 562.8L396.1 554.2L396.3 554L396.3 553L396.8 552L396.8 551.5L398.3 548.5L399.1 547.8L399.1 547.5L402 544.6L402.2 544.6L403.2 543.6L403.5 543.6L406.2 541.4L406.5 541.4L408 540.1L409.5 539.4L410 538.9L412.5 537.6L413 537.6L413.2 537.4L413.7 537.4L414 537.1L414.5 537.1L414.7 536.9L415.2 536.9L415.5 536.6L416 536.6L417 536.1L417.7 536.1L418.7 535.7L419.5 535.7L420.5 535.2L421.2 535.2L421.5 535L424 534.7L429 534.7L431.5 534.4L434.2 533.8L435.6 533.2L438 532L439.9 530.5L440.3 529.5L441.1 529L443.6 528.5L447 528.5L447.2 528.7L448.5 528.7L448.7 528.9L449.5 528.9L449.7 529.2L450.2 529.2L451.7 530L453.1 532L454 535.2L455 537.2L456.1 538.5L457.8 539.8L460.5 542.2L461.3 543.8L462.3 545L462.6 545.8L463.1 546.2L463.3 547L463.8 547.5L464.6 549L464.6 549.5L465.1 550.2L465.1 550.8L465.3 551L465.3 552L465.6 552.2L465.6 553.8L465.7 554L465.6 564.5L465.4 564.8L465.4 566L465.1 566.2L465.1 567L464.9 567.2L464.4 569.2L463.8 570L463.8 570.5L463.3 571.5L462.8 572L462.6 572.8L462.1 573.2L461.6 574.2L460.8 575L460.3 576L458.6 578L458.6 578.2L457.8 579L457.8 579.2L456.6 580.5L456.6 580.8L452.8 584.8L452.8 585L448.2 589.6L448 589.6L447.2 590.4L445.2 591.4L444.7 591.4L444.5 591.6L443.7 591.6L443.5 591.9L442 591.9L441.7 592Z" fill="#d8e7f6" fill-rule="evenodd"/><path d="M441.5 590.8L441 590.9L434 590.9L433.2 590.7L431.7 590.7L430 590.2L427.5 588.9L421 584.4L412.5 579.4L408 576.4L402.5 572.4L400.1 570L399 568.3L397.8 566L397 562.2L397 556.8L397.3 556.2L397.5 553.5L398 552L399.5 549.2L400.3 548L403.7 544.9L408.5 541.4L410.7 540L413 538.9L419.2 536.9L423.7 536.1L430.5 535.3L434.5 534.5L438 533.1L442.5 530.6L444.2 530.1L446.2 529.7L449 530.3L450 530.7L450.9 531.5L451.8 532.8L453.2 536L454.4 538L456 540L459.7 543.8L462.7 548.2L463.9 550.8L464.4 552.8L464.4 554L464.6 554.8L464.9 561.8L464.4 565.5L462.7 570L460.3 573.8L456.6 578.8L452 583.9L451.6 584.5L447.7 588.4L446.7 589.1L444.7 590.2L443 590.7L441.5 590.8Z" fill="#bed8ee" fill-rule="evenodd"/><path d="M441.2 589.5L439 589.7L434.2 589.6L432.2 589.3L430.2 588.8L428.2 587.8L421.6 583.2L413.2 578.2L408.7 575.2L403.2 571.2L401.2 569.2L399.2 565.8L398.3 561.8L398.3 557.2L398.9 554L399.3 552.5L400.6 550L401.5 548.8L404.5 546L409.2 542.5L411.5 541.1L413.5 540.1L420.7 538L437.5 534.8L439.2 534.1L441.8 532.2L444 531.4L446 531.1L448.5 531.5L449.2 531.8L450.2 532.5L451.1 533.8L453.6 538.5L458.6 544.5L461.6 549L462.7 551.8L463.3 555L463.9 561.5L463.7 563.8L463.1 566.2L461.3 570L458 574.8L454.2 579.5L450.9 583L450.4 583.8L446.9 587.2L445.7 588.2L444.2 588.9L441.2 589.5Z" fill="#94c5e2" fill-rule="evenodd"/><path d="M440.5 588.5L437.7 588.7L434.5 588.4L430.7 587.6L429 586.6L422.2 582L414 577.1L404.1 570.2L402.2 568.3L400.4 565.2L399.6 561.5L399.6 557.5L400.2 554.2L400.6 552.8L401.7 550.8L402.6 549.5L405.4 547L410.1 543.5L412.2 542.2L413.7 541.5L418.2 540L429 537.2L431.7 536.7L436 536.7L438.7 536.3L441 535.3L443.9 532.8L445.7 532.2L447.2 532.4L448.4 532.8L449.5 533.5L450.1 534.5L451.4 537.5L457.6 545.2L460.7 550.2L461.4 552L462.1 555.2L462.8 561.2L462.7 563.5L462 566L460.2 569.5L454.3 577.2L451.3 580.8L446.2 586.1L445 587L443.2 587.9L440.5 588.5ZM423.7 572.8L425.5 572L427.1 570.5L428.4 568.2L429.2 565.8L429.5 563L429.2 560.8L428.2 559.1L427 558.4L426.2 558.3L425.2 558.6L423.5 560L421.8 562.5L420.7 565.5L420.4 568.2L420.8 570.8L421.4 571.8L422 572.3L422.7 572.7L423.7 572.8Z" fill="#57acd9" fill-rule="evenodd"/><path d="M454.2 574.6L454 574.6L451.1 573L445 570.1L441.2 567.7L439.4 566L438 564.2L437 562.5L435.7 559.5L434.9 558.2L433.4 557L427.9 553.5L426.2 552L425.4 550.5L425.1 548.8L425.3 547.2L426.4 544L426.5 543L426.1 542L425 540.5L425.1 540L426.7 539.7L430.2 539.6L434 539.8L439.2 540.4L441 540.3L441.7 540L442.3 539.5L443.6 537.2L444.4 536.2L445.2 535.7L446 535.7L446.5 535.9L447 536.5L447.2 537.5L447.4 539.8L448.1 540.8L450 541.6L453.5 542.3L454.2 542.9L456.5 545.9L459.5 550.8L460.4 553.5L461.7 561L461.7 563.2L461.4 564.8L460.4 567L458.4 570L455 574L454.2 574.6ZM412 548L411.2 548.1L410.2 547.8L408.7 547L408.7 546.8L411.1 544.8L413.2 543.5L414.9 542.8L416.7 542.2L417.4 542.2L413.7 546.9L413 547.6L412 548ZM407 565L405.7 565.1L404.5 564.8L403.5 564.4L402.5 563.6L401.7 562.8L401.2 561.6L401 559.5L401.2 557.6L401.7 556.5L402.6 555.5L403.7 554.6L404.7 554.1L406 553.8L407.2 553.7L409 554.1L410.5 555.2L411.4 557L411.8 559.2L411.4 561.2L410.4 563L409 564.3L407 565ZM438.5 587.8L435.2 587.5L434.5 587.2L433.3 586.5L432.9 585.2L433.1 584L433.9 582.8L435 581.9L437 581.2L439.2 581.2L441.2 582.1L442.5 583.5L443 585L442.8 586L442.6 586.5L440.5 587.5L438.5 587.8Z" fill="#1f90d0" fill-rule="evenodd"/><path d="M437 554.3L435 554.2L433 553.8L431.2 553L429.9 552L429.1 550.8L428.8 549.5L429.2 548.2L430.1 547L431.2 546.2L432.7 545.6L434.2 545.3L435.7 545.2L437.2 545.4L438.7 545.9L440.2 546.7L441.3 547.5L442 548.5L442.4 549.5L442.4 550.8L441.9 551.8L441 552.8L440 553.4L438.5 554L437 554.3ZM457.2 569.3L454.2 569.4L451 568.8L448 567.8L445.7 566.3L444.2 564.5L443.6 562.8L443.8 560.8L445 558.8L446.2 557.6L447.7 556.7L449.5 555.9L451.5 555.3L453.5 555L455.5 555L457.7 555.3L459.2 555.8L459.7 557L460.6 560.5L460.7 563.2L460.4 564.8L459.4 566.8L458.2 568.5L457.2 569.3ZM438.7 586.6L437.2 586.6L436.2 585.9L435.9 585.5L435.8 584.8L436.4 583.8L437.2 583.3L438.2 583.2L439.1 583.5L439.8 584L440.1 584.8L440 585.5L439.5 586.2L438.7 586.6Z" fill="#0b6db8" fill-rule="evenodd"/><path d="M436.7 552.3L435.5 552.5L434.2 552.4L433 552L432.2 551.5L431.5 550.8L431.2 550L431.3 549.2L431.7 548.5L433 547.6L434.7 547.2L436.5 547.4L438 548L438.9 549.2L439 550.5L438.2 551.5L436.7 552.3ZM455.2 567.3L453.2 567.3L451.2 567L449.5 566.3L448 565.3L447 564.2L446.6 563L446.7 561.8L447.4 560.5L448.5 559.6L449.7 558.9L451.2 558.4L453 558.2L454.7 558.2L456.2 558.5L457.7 559L459 559.8L459.6 560.8L459.8 562.8L459.5 564.5L459.2 565.2L458.5 566.2L458 566.6L455.2 567.3Z" fill="#0a50a0" fill-rule="evenodd"/><path d="M455 565.5L452.5 565.5L450.4 564.8L449.6 564L449.2 563.2L449.2 562.5L449.5 561.8L450.7 560.7L452.7 560.1L455 560.2L456.7 561L457.8 562.2L457.8 563.5L457.4 564.2L456.8 564.8L455 565.5Z" fill="#08306b" fill-rule="evenodd"/><path d="M441.7 592L433.2 592L433 591.9L431.2 591.9L431 591.6L430.2 591.6L430 591.4L429.5 591.4L427 590.1L425.7 589.1L425.5 589.1L424.7 588.4L424.5 588.4L422.5 586.9L422.2 586.9L420.2 585.4L418.2 584.4L417.7 583.9L417 583.6L416.5 583.1L415.7 582.9L415.2 582.4L414.5 582.1L414 581.6L413.2 581.4L412.7 580.9L412 580.6L408.5 578.1L408.2 578.1L407.7 577.6L407.5 577.6L406.7 576.9L406.5 576.9L406 576.4L405 575.9L402.2 573.6L402 573.6L398.8 570.5L398.8 570.2L397.8 569L396.6 566.5L396.6 565.8L396.3 565.5L396.3 564.8L396.1 564.5L396.1 563L395.9 562.8L396.1 554.2L396.3 554L396.3 553L396.8 552L396.8 551.5L398.3 548.5L399.1 547.8L399.1 547.5L402 544.6L402.2 544.6L403.2 543.6L403.5 543.6L406.2 541.4L406.5 541.4L408 540.1L409.5 539.4L410 538.9L412.5 537.6L413 537.6L413.2 537.4L413.7 537.4L414 537.1L414.5 537.1L414.7 536.9L415.2 536.9L415.5 536.6L416 536.6L417 536.1L417.7 536.1L418.7 535.7L419.5 535.7L420.5 535.2L421.2 535.2L421.5 535L424 534.7L429 534.7L431.5 534.4L434.2 533.8L435.6 533.2L438 532L439.9 530.5L440.3 529.5L441.1 529L443.6 528.5L447 528.5L447.2 528.7L448.5 528.7L448.7 528.9L449.5 528.9L449.7 529.2L450.2 529.2L451.7 530L453.1 532L454 535.2L455 537.2L456.1 538.5L457.8 539.8L460.5 542.2L461.3 543.8L462.3 545L462.6 545.8L463.1 546.2L463.3 547L463.8 547.5L464.6 549L464.6 549.5L465.1 550.2L465.1 550.8L465.3 551L465.3 552L465.6 552.2L465.6 553.8L465.7 554L465.6 564.5L465.4 564.8L465.4 566L465.1 566.2L465.1 567L464.9 567.2L464.4 569.2L463.8 570L463.8 570.5L463.3 571.5L462.8 572L462.6 572.8L462.1 573.2L461.6 574.2L460.8 575L460.3 576L458.6 578L458.6 578.2L457.8 579L457.8 579.2L456.6 580.5L456.6 580.8L452.8 584.8L452.8 585L448.2 589.6L448 589.6L447.2 590.4L445.2 591.4L444.7 591.4L444.5 591.6L443.7 591.6L443.5 591.9L442 591.9L441.7 592Z" fill="none" stroke="#1a1a1a" stroke-width="0.65"/><path d="M440.7 589.1L437.7 589.2L434.2 589L432.2 588.7L430.5 588.2L428.7 587.3L422 582.7L413.7 577.8L409.2 574.8L403.7 570.8L401.7 568.8L399.8 565.5L399 561.8L399 557.2L399.5 554L400 552.7L401.2 550.2L402 549.2L405 546.5L409.7 543L411.7 541.7L413.5 540.8L417.5 539.5L424.2 537.8L432.5 536.1L436.2 535.9L438.2 535.5L440.2 534.6L442.7 532.5L444.2 532L446 531.6L448.5 532.1L449.8 533L450.6 534L453.2 538.8L458 544.8L461 549.2L462.1 552L462.7 555L463.3 561.2L463.2 563.5L462.5 566.2L460.8 569.8L455 577.5L452 581L446.7 586.5L445.5 587.5L443.5 588.5L440.7 589.1ZM424.7 569.8L425.7 569.1L426.6 568L427.2 566.8L427.6 565.2L427.8 563.8L427.5 562.5L427 561.5L426.2 561.1L425 561.4L423.8 562.5L422.9 564L422.3 566L422.2 567.8L422.7 569.2L423.5 569.8L424 569.9L424.7 569.8Z" fill="none" stroke="#1a1a1a" stroke-width="0.65"/><path d="M437 554.3L435 554.2L433 553.8L431.2 553L429.9 552L429.1 550.8L428.8 549.5L429.2 548.2L430.1 547L431.2 546.2L432.7 545.6L434.2 545.3L435.7 545.2L437.2 545.4L438.7 545.9L440.2 546.7L441.3 547.5L442 548.5L442.4 549.5L442.4 550.8L441.9 551.8L441 552.8L440 553.4L438.5 554L437 554.3ZM457.2 569.3L454.2 569.4L451 568.8L448 567.8L445.7 566.3L444.2 564.5L443.6 562.8L443.8 560.8L445 558.8L446.2 557.6L447.7 556.7L449.5 555.9L451.5 555.3L453.5 555L455.5 555L457.7 555.3L459.2 555.8L459.7 557L460.6 560.5L460.7 563.2L460.4 564.8L459.4 566.8L458.2 568.5L457.2 569.3ZM438.7 586.6L437.2 586.6L436.2 585.9L435.9 585.5L435.8 584.8L436.4 583.8L437.2 583.3L438.2 583.2L439.1 583.5L439.8 584L440.1 584.8L440 585.5L439.5 586.2L438.7 586.6Z" fill="none" stroke="#1a1a1a" stroke-width="0.65"/><path d="M435.7 550.5L435 550.6L434.3 550.5L433.8 550L433.9 549.5L434.7 549.1L435.8 549.2L436.1 549.5L436.2 550L435.7 550.5ZM455.5 565.8L454.2 566L452.7 565.9L451.2 565.6L450.1 565L449.2 564.2L448.7 563.2L448.7 562.2L449.1 561.5L450.5 560.4L452.7 559.7L455.2 559.9L457.2 560.8L458.3 562L458.5 562.8L458.4 563.5L458 564.2L457.5 564.8L455.5 565.8Z" fill="none" stroke="#1a1a1a" stroke-width="0.65"/><path d="M423.5 533.5L422.3 536.9L420.5 543L418.3 549.5L416.5 555L414.9 559.8L415.3 565.5L416 571.3L417 576L417.8 580.5L419.5 587.3L420.5 592.5" fill="none" stroke="#fff" stroke-width="0.7" opacity="0.9" stroke-linejoin="round"/><path d="M400 543.5L406.3 549.5L410.5 555L414.9 559.8" fill="none" stroke="#fff" stroke-width="0.7" opacity="0.9" stroke-linejoin="round"/><path d="M429 533L431.5 536.9L439.5 541.5L444.1 543.8L449.8 539.2L452.5 533.5" fill="none" stroke="#fff" stroke-width="0.7" opacity="0.9" stroke-linejoin="round"/><path d="M444.1 543.8L445.2 552.9L441.8 561L440.7 565.6L441.8 570.1" fill="none" stroke="#fff" stroke-width="0.7" opacity="0.9" stroke-linejoin="round"/><path d="M415.5 570.7L422.3 569.5L431.5 570.1L441.8 570.7L448.7 572.4L453.3 575.9L457 579" fill="none" stroke="#fff" stroke-width="0.7" opacity="0.9" stroke-linejoin="round"/><path d="M420 586.2L428 585L436.1 585.6L443 586.7L448.7 588.5" fill="none" stroke="#fff" stroke-width="0.7" opacity="0.9" stroke-linejoin="round"/><path d="M458 569L455.2 569.1L452.5 568.8L449.7 568L447.2 566.9L445 565.3L441.1 561.8L436.1 558L435.1 556.8L434.9 556L435 555.5L435.8 554.8L437.2 554.3L439.5 554.1L442.2 554.3L454.5 555.8L457.7 556.7L460.5 558L462.5 559.4L463.8 561L464.6 562.8L464.6 564.5L463.9 566L462.5 567.4L460.5 568.4L458 569Z" fill="none" stroke="#a81c2c" stroke-width="1.1"/><path d="M455.7 566.5L454 566.5L452 566.1L450.2 565.4L448.7 564.6L447 563.2L442.6 559.2L441.9 558.2L441.9 557.5L442.7 557.1L444.5 557L451 557.5L455 558.3L456.7 559L458.1 559.8L459.3 560.8L460.1 561.8L460.5 563L460.3 564L459.7 565L458.7 565.7L457.3 566.2L455.7 566.5Z" fill="none" stroke="#a81c2c" stroke-width="1.1"/></g>
<text x="430.9" y="524.8" font-size="11.8" text-anchor="middle" fill="#111" font-style="italic">DOT1L</text>
<rect x="470.2" y="528.5" width="69.8" height="63.6" fill="#f2f7fd"/>
<g clip-path="url(#fc14)"><path d="M515.9 592L507.4 592L507.2 591.9L505.4 591.9L505.2 591.6L504.4 591.6L504.2 591.4L503.7 591.4L501.2 590.1L500.7 589.6L499.7 589.1L498.9 588.4L498.7 588.4L498.2 587.9L497.9 587.9L494.4 585.4L493.7 585.1L493.2 584.6L492.4 584.4L491.9 583.9L491.2 583.6L490.7 583.1L489.9 582.9L489.4 582.4L488.7 582.1L488.2 581.6L486.2 580.6L482.7 578.1L481.7 577.6L480.9 576.9L480.7 576.9L480.2 576.4L479.2 575.9L476.4 573.6L476.2 573.6L473.1 570.5L472.6 569.5L472.1 569L470.8 566.5L470.6 564.8L470.3 564.5L470.3 563L470.2 562.8L470.3 554.2L470.6 554L470.6 553L470.8 552.8L471.1 551.5L472.6 548.5L473.3 547.8L473.3 547.5L476.2 544.6L476.4 544.6L477.4 543.6L477.7 543.6L480.4 541.4L480.7 541.4L482.2 540.1L483.7 539.4L484.2 538.9L486.7 537.6L487.2 537.6L487.4 537.4L487.9 537.4L488.2 537.1L488.7 537.1L488.9 536.9L489.4 536.9L489.7 536.6L490.2 536.6L491.2 536.1L491.9 536.1L492.2 535.9L492.7 535.9L492.9 535.7L493.7 535.7L494.7 535.2L495.4 535.2L495.7 535L498.2 534.6L500.4 534.5L502.2 535.4L505.2 536L507.7 536L509.9 535.6L511.9 534.8L513.3 533.5L513.9 532L513.7 530.2L514.4 529.1L517.4 528.5L521.2 528.5L521.4 528.7L522.7 528.7L522.9 528.9L523.7 528.9L523.9 529.2L524.4 529.2L525.9 530L527.2 531.3L528.2 533.5L528.9 536L529.6 537.2L530.5 538.2L532.2 539.6L534.7 542.2L535.5 543.8L536.5 545L536.8 545.8L537.3 546.2L537.6 547L538.1 547.5L538.8 549L538.8 549.5L539.3 550.2L539.3 550.8L539.6 551L539.6 552L539.8 552.2L539.9 564.7L539.8 566L539.3 567.8L537.7 571.5L537.2 572L536.9 572.8L536.4 573.2L535.9 574.2L535.1 575L534.6 576L532.8 578L532.8 578.2L532.1 579L532.1 579.2L530.8 580.5L530.8 580.8L527.1 584.8L527.1 585L522.4 589.6L522.2 589.6L521.4 590.4L519.4 591.4L518.9 591.4L518.7 591.6L517.9 591.6L517.7 591.9L516.2 591.9L515.9 592Z" fill="#d8e7f6" fill-rule="evenodd"/><path d="M515.2 590.8L508.2 590.8L507.4 590.6L506 590.5L504.2 590L501.9 588.9L495.2 584.3L486.7 579.4L479.7 574.6L476.7 572.4L474.3 570L473.2 568.3L472 566L471.3 562.2L471.3 556.8L471.5 556.2L471.8 553.5L472.3 552L473.8 549L474.6 548L476.7 545.9L479.2 544.2L480.2 543.9L484.2 546.9L490.9 550.9L493.2 551.4L495.2 551.1L496.4 550.4L497.4 549.5L498.1 548.5L498.5 547.2L498.7 546L498.6 544.8L497.3 541.2L497.4 540.5L497.7 540L498.4 539.6L499.4 539.4L506.9 539.1L509.4 538.7L511.2 538.2L512.4 537.4L513.4 536.4L516.4 532.2L517.2 530.5L518.4 530L520.4 529.8L523.2 530.3L524.2 530.8L525.2 531.5L525.9 533L525.2 534.5L525 536L525.2 537.5L525.8 538.8L526.7 539.6L527.7 540.2L528.9 540.5L530.4 540.5L531.2 540.9L534 543.8L536.9 548.1L538.5 551.5L538.8 554L539.1 554.5L539.3 561.8L539.1 562.5L539.2 564L538.8 566.8L537.4 570.2L533.6 575.5L529.7 580.2L526.2 583.8L525.7 584.5L521.9 588.2L520.9 589L518.2 590.2L515.2 590.8Z" fill="#bed8ee" fill-rule="evenodd"/><path d="M518.9 539.3L517.7 539.1L516.7 538.6L516.1 537.8L515.9 536.5L516.3 535.2L517.2 534.1L518.2 533.5L519.4 533.3L520.2 533.5L521 534.2L521.4 535.2L521.5 536.2L521.2 537.5L520.7 538.4L519.9 538.9L518.9 539.3ZM532.2 574.8L522.9 572.9L517.4 571.4L512.7 569.5L508.4 567L506.4 565.5L504.9 564L503.7 562.5L502.7 560.8L502.1 559L502 557.5L502.3 556L503 554.8L503.9 553.8L504.9 552.9L507.9 551.6L517.2 549.5L520 548.5L523.9 546.7L525.7 546.2L532.7 545.3L533.2 545.5L534.2 546.5L535.9 549.1L537.1 551.8L537.9 555L538.3 561.5L538.1 562.2L538.3 563.8L538 566.5L537.2 568.8L536.3 570.2L535.1 571.8L533.9 573.2L532.2 574.8ZM482.9 568.3L481.7 568.5L480.4 568.2L479.4 567.4L478.7 566.2L478.6 565L478.9 563.8L479.7 562.8L480.7 562.2L481.9 562L483.2 562.3L484.2 563L485 564.2L485.1 565.5L484.8 566.8L483.9 567.8L482.9 568.3Z" fill="#94c5e2" fill-rule="evenodd"/><path d="M533.7 570.3L529.9 570.4L525.4 569.9L520.7 568.7L516.9 567.1L513.7 565L511.5 562.8L510.8 561.5L510.6 560.5L510.6 559.5L510.9 558.5L512.1 557.2L513.9 556.2L516.7 555.3L519.9 554.7L522.4 554.5L524.7 554.6L526.7 555.1L528.7 555.9L530.7 557.1L533.2 559L535.9 561.6L536.9 562.9L537.3 565.2L537.2 566.2L536.7 567.8L535.4 569.7L534.9 570L533.7 570.3Z" fill="#57acd9" fill-rule="evenodd"/><path d="M531.9 568.8L529.2 568.9L525.9 568.6L522.7 567.8L519.4 566.5L517 565L515.2 563.2L514.5 561.8L514.5 561L514.7 560.2L515.7 559.3L516.9 558.6L518.7 558.1L520.9 557.9L523.2 558.1L525.2 558.4L527.4 559.2L529.7 560.1L531.9 561.5L533.6 562.8L534.9 564.2L535.5 565.5L535.5 566.5L534.9 567.5L533.7 568.3L531.9 568.8Z" fill="#1f90d0" fill-rule="evenodd"/><path d="M530.9 567.8L528.7 567.9L526.2 567.7L523.7 567.1L521.2 566.2L519 565L517.6 563.8L516.9 562.5L517 561.2L517.6 560.5L518.7 559.9L519.9 559.6L521.7 559.4L525.2 559.9L528.9 561.2L531.9 563L532.8 564L533.4 565L533.5 566L533.1 566.8L532.2 567.4L530.9 567.8Z" fill="#0b6db8" fill-rule="evenodd"/><path d="M529.4 567L527.7 567.1L525.7 566.9L523.7 566.3L521.7 565.5L520.1 564.5L519.1 563.5L518.7 562.5L518.9 561.8L519.4 561.2L520.2 560.8L522.7 560.5L525.7 560.9L528.5 562L530.8 563.5L531.4 564.2L531.8 565L531.7 565.8L531.3 566.2L530.5 566.8L529.4 567Z" fill="#0a50a0" fill-rule="evenodd"/><path d="M527.9 566.3L525.2 566L522.7 565.1L520.9 563.8L520.5 563L520.6 562.5L521.4 561.7L523.4 561.5L525.7 561.8L527.9 562.6L529.5 563.8L530 564.5L530.1 565L529.9 565.5L529.4 565.9L527.9 566.3Z" fill="#08306b" fill-rule="evenodd"/><path d="M515.9 592L507.4 592L507.2 591.9L505.4 591.9L505.2 591.6L504.4 591.6L504.2 591.4L503.7 591.4L501.2 590.1L500.7 589.6L499.7 589.1L498.9 588.4L498.7 588.4L498.2 587.9L497.9 587.9L494.4 585.4L493.7 585.1L493.2 584.6L492.4 584.4L491.9 583.9L491.2 583.6L490.7 583.1L489.9 582.9L489.4 582.4L488.7 582.1L488.2 581.6L486.2 580.6L482.7 578.1L481.7 577.6L480.9 576.9L480.7 576.9L480.2 576.4L479.2 575.9L476.4 573.6L476.2 573.6L473.1 570.5L472.6 569.5L472.1 569L470.8 566.5L470.6 564.8L470.3 564.5L470.3 563L470.2 562.8L470.3 554.2L470.6 554L470.6 553L470.8 552.8L471.1 551.5L472.6 548.5L473.3 547.8L473.3 547.5L476.2 544.6L476.4 544.6L477.4 543.6L477.7 543.6L480.4 541.4L480.7 541.4L482.2 540.1L483.7 539.4L484.2 538.9L486.7 537.6L487.2 537.6L487.4 537.4L487.9 537.4L488.2 537.1L488.7 537.1L488.9 536.9L489.4 536.9L489.7 536.6L490.2 536.6L491.2 536.1L491.9 536.1L492.2 535.9L492.7 535.9L492.9 535.7L493.7 535.7L494.7 535.2L495.4 535.2L495.7 535L498.2 534.6L500.4 534.5L502.2 535.4L505.2 536L507.7 536L509.9 535.6L511.9 534.8L513.3 533.5L513.9 532L513.7 530.2L514.4 529.1L517.4 528.5L521.2 528.5L521.4 528.7L522.7 528.7L522.9 528.9L523.7 528.9L523.9 529.2L524.4 529.2L525.9 530L527.2 531.3L528.2 533.5L528.9 536L529.6 537.2L530.5 538.2L532.2 539.6L534.7 542.2L535.5 543.8L536.5 545L536.8 545.8L537.3 546.2L537.6 547L538.1 547.5L538.8 549L538.8 549.5L539.3 550.2L539.3 550.8L539.6 551L539.6 552L539.8 552.2L539.9 564.7L539.8 566L539.3 567.8L537.7 571.5L537.2 572L536.9 572.8L536.4 573.2L535.9 574.2L535.1 575L534.6 576L532.8 578L532.8 578.2L532.1 579L532.1 579.2L530.8 580.5L530.8 580.8L527.1 584.8L527.1 585L522.4 589.6L522.2 589.6L521.4 590.4L519.4 591.4L518.9 591.4L518.7 591.6L517.9 591.6L517.7 591.9L516.2 591.9L515.9 592Z" fill="none" stroke="#1a1a1a" stroke-width="0.65"/><path d="M519.2 537.5L518.4 537.7L517.9 537.6L517.5 537.2L517.2 536.8L517.1 536L517.3 535.5L517.8 535L518.4 534.7L519.4 534.8L519.9 535.2L520.1 535.8L519.9 536.8L519.2 537.5ZM533.9 571.8L529.2 571.7L523.2 570.7L518.2 569.2L514.2 567.3L510.4 564.8L509.1 563.5L508 562L507.2 560.5L506.9 559.2L507 558L507.4 557L508.1 556L508.9 555.3L511.4 554.1L514.9 553.1L522.7 551.5L525.4 551.2L527.7 551.4L529.9 552.1L532.2 553.1L534.7 554.8L536.9 556.7L537.7 561.2L537.8 565.2L537.2 567.8L535.9 570L534.7 571.3L533.9 571.8ZM482.4 566.6L481.7 566.7L481.2 566.5L480.5 565.8L480.5 564.8L481.2 563.9L482.2 563.8L482.7 564L483.2 564.5L483.3 565.2L483.2 565.8L482.9 566.2L482.4 566.6Z" fill="none" stroke="#1a1a1a" stroke-width="0.65"/><path d="M530.9 567.8L528.7 567.9L526.2 567.7L523.7 567.1L521.2 566.2L519 565L517.6 563.8L516.9 562.5L517 561.2L517.6 560.5L518.7 559.9L519.9 559.6L521.7 559.4L525.2 559.9L528.9 561.2L531.9 563L532.8 564L533.4 565L533.5 566L533.1 566.8L532.2 567.4L530.9 567.8Z" fill="none" stroke="#1a1a1a" stroke-width="0.65"/><path d="M528.9 566.3L527.4 566.4L525.9 566.3L522.7 565.3L521.4 564.5L520.6 563.8L520.2 563L520.3 562.2L521.3 561.5L523.2 561.3L525.4 561.6L527.7 562.3L529.5 563.5L530.4 564.8L530.4 565.2L530.1 565.8L528.9 566.3Z" fill="none" stroke="#1a1a1a" stroke-width="0.65"/><path d="M497.7 533.5L496.5 536.9L494.7 543L492.5 549.5L490.7 555L489.1 559.8L489.5 565.5L490.2 571.3L491.2 576L492 580.5L493.7 587.3L494.7 592.5" fill="none" stroke="#fff" stroke-width="0.7" opacity="0.9" stroke-linejoin="round"/><path d="M474.2 543.5L480.5 549.5L484.7 555L489.1 559.8" fill="none" stroke="#fff" stroke-width="0.7" opacity="0.9" stroke-linejoin="round"/><path d="M503.2 533L505.7 536.9L513.7 541.5L518.3 543.8L524 539.2L526.7 533.5" fill="none" stroke="#fff" stroke-width="0.7" opacity="0.9" stroke-linejoin="round"/><path d="M518.3 543.8L519.4 552.9L516 561L514.9 565.6L516 570.1" fill="none" stroke="#fff" stroke-width="0.7" opacity="0.9" stroke-linejoin="round"/><path d="M489.7 570.7L496.5 569.5L505.7 570.1L516 570.7L522.9 572.4L527.5 575.9L531.2 579" fill="none" stroke="#fff" stroke-width="0.7" opacity="0.9" stroke-linejoin="round"/><path d="M494.2 586.2L502.2 585L510.3 585.6L517.2 586.7L522.9 588.5" fill="none" stroke="#fff" stroke-width="0.7" opacity="0.9" stroke-linejoin="round"/><path d="M530.7 570L527.9 570.2L524.9 569.8L521.9 568.9L519.4 567.7L517.2 566.1L508.9 559L507.6 557.2L507.4 556.5L507.5 556L508.2 555.3L509.2 555L510.9 554.9L513.2 555.1L526.7 556.9L529.9 557.9L532.7 559.2L534.7 560.7L535.9 562.2L536.7 564L536.7 565.8L536 567.2L534.8 568.5L532.9 569.4L530.7 570Z" fill="none" stroke="#a81c2c" stroke-width="1.1"/><path d="M528.4 567.5L526.7 567.5L524.7 567.2L522.7 566.5L520.9 565.6L518.5 563.8L515.1 560.5L514.2 559.2L514.2 558.5L514.9 558.2L516.4 558L523.4 558.7L527.2 559.5L530 560.8L531.3 561.8L532.1 562.8L532.5 563.8L532.5 564.8L532.1 565.8L531.2 566.6L529.9 567.2L528.4 567.5Z" fill="none" stroke="#a81c2c" stroke-width="1.1"/></g>
<text x="505.1" y="524.8" font-size="11.8" text-anchor="middle" fill="#111" font-style="italic">MEN1</text>
<rect x="544.4" y="528.5" width="69.8" height="63.6" fill="#f2f7fd"/>
<g clip-path="url(#fc15)"><path d="M590.2 592L581.7 592L581.4 591.9L579.7 591.9L579.4 591.6L578.7 591.6L578.4 591.4L577.9 591.4L575.4 590.1L574.9 589.6L573.9 589.1L573.2 588.4L572.9 588.4L572.4 587.9L572.2 587.9L568.7 585.4L567.9 585.1L567.4 584.6L566.7 584.4L566.2 583.9L565.4 583.6L564.9 583.1L564.2 582.9L563.7 582.4L562.9 582.1L561.2 580.9L560.4 580.6L558.4 579.1L558.2 579.1L557.7 578.6L557.4 578.6L556.9 578.1L555.9 577.6L555.2 576.9L554.9 576.9L554.4 576.4L553.4 575.9L550.7 573.6L550.4 573.6L547.3 570.5L546.8 569.5L546.3 569L545 566.5L545 565.8L544.8 565.5L544.8 564.8L544.5 564.5L544.5 563L544.4 562.8L544.5 554.2L544.8 554L544.8 553L545 552.8L545.3 551.5L546.8 548.5L547.5 547.8L547.5 547.5L550.4 544.6L550.7 544.6L551.7 543.6L551.9 543.6L554.7 541.4L555.7 540.9L556.4 540.1L557.9 539.4L558.4 538.9L560.9 537.6L561.4 537.6L561.7 537.4L562.2 537.4L562.4 537.1L563.7 536.9L563.9 536.6L564.4 536.6L564.7 536.4L565.2 536.4L565.4 536.1L566.2 536.1L567.2 535.6L567.9 535.6L568.9 535.1L569.7 535.1L570.7 534.6L571.2 534.6L571.4 534.4L571.9 534.4L572.2 534.1L572.7 534.1L572.9 533.9L573.4 533.9L575.9 532.6L576.4 532.6L580.7 530.4L581.2 530.4L581.9 529.9L582.4 529.9L583.9 529.1L584.7 529.1L584.9 528.9L585.9 528.9L586.2 528.6L587.9 528.6L588.2 528.5L595.4 528.5L595.7 528.6L596.9 528.6L597.2 528.9L597.9 528.9L598.2 529.1L598.7 529.1L600.2 529.9L602.3 531.8L602.3 532L603.5 533.2L604 534.2L605 535.5L605.3 536.2L605.8 536.8L606.8 538.8L607.3 539.2L608.5 541.8L609.5 543L609.8 543.8L610.8 545L611 545.8L612.3 547.5L613 549L613 549.5L613.5 550.2L613.5 550.8L613.8 551L613.8 552L614 552.2L614.2 562.2L614 562.5L614 564.5L613.8 564.8L613.8 566L613.5 566.2L613.5 567L613.3 567.2L613 568.5L612.8 568.8L612.8 569.2L612.3 570L612.3 570.5L611.8 571.5L611.3 572L611 572.8L610.5 573.2L610 574.2L609.3 575L608.8 576L607 578L607 578.2L606.3 579L606.3 579.2L605 580.5L605 580.8L601.3 584.8L601.3 585L596.7 589.6L596.4 589.6L595.7 590.4L593.7 591.4L593.2 591.4L592.9 591.6L592.2 591.6L591.9 591.9L590.4 591.9L590.2 592Z" fill="#d8e7f6" fill-rule="evenodd"/><path d="M589.9 590.8L589.4 590.9L582.4 590.9L581.7 590.7L580.2 590.6L578.4 590.1L575.9 588.9L569.4 584.4L560.9 579.4L556.4 576.4L550.9 572.4L548.5 570L547.4 568.3L546.3 566L545.5 562.2L545.5 556.8L545.7 556.2L546 553.5L546.5 552L547.9 549.2L548.8 548L552.2 544.8L556.9 541.3L559 540L561.4 538.7L563.7 538L573.9 535L576.9 533.7L581.2 531.6L584.4 530.4L588.7 529.6L594.9 529.6L598.2 530.4L599.7 531.1L601 532.2L602.3 533.8L603.8 536L607.6 542.5L611.2 548.1L612.4 550.8L612.9 552.8L612.9 554L613.1 554.8L613.1 561.8L612.9 562.2L612.6 565.5L611.1 570L608.8 573.8L605 578.8L600.4 583.9L600 584.5L596.2 588.4L595.2 589.1L593.2 590.1L591.4 590.6L589.9 590.8Z" fill="#bed8ee" fill-rule="evenodd"/><path d="M589.4 589.5L582.7 589.6L580.7 589.3L578.7 588.8L576.7 587.8L570.1 583.2L561.7 578.2L557.2 575.2L551.7 571.2L549.7 569.2L547.6 565.8L546.8 561.8L546.8 557.2L547.3 554L547.8 552.5L549 550L549.9 548.8L552.9 546L557.7 542.4L559.8 541L561.7 540L564.9 538.9L574.4 536.2L577.4 535L581.4 533L584.7 531.7L589.2 530.9L594.4 530.9L596.9 531.4L598.5 532L599.9 533.1L601.1 534.5L610.1 549L611.3 551.8L611.8 555L611.8 561.2L611.2 565.2L609.7 569.8L607.7 573L603.9 578L598.9 583.8L595.4 587.2L594.2 588.1L592.7 588.9L589.4 589.5Z" fill="#94c5e2" fill-rule="evenodd"/><path d="M590.2 588L588.9 588.2L582.9 588.2L580.9 588L579.2 587.5L577.4 586.6L570.7 582L562.6 577.2L555.6 572.5L552.4 570.1L550.8 568.5L549.7 566.8L548.9 565.3L548.2 561.5L548.2 557.5L548.6 554.2L549.1 552.8L550.1 550.8L551 549.5L553.7 547L558.4 543.4L560.7 541.9L562.2 541.1L565.9 539.8L570.9 538.6L574.9 537.4L578.2 536.1L581.9 534.2L585.2 533L589.4 532.2L594.2 532.2L596.7 532.7L597.9 533.2L600 535.2L608.9 549.5L610 552L610.5 555.2L610.5 561L609.7 565.8L608.4 569.2L604.7 574.8L599.8 580.8L594.7 586.1L592.4 587.5L590.2 588Z" fill="#57acd9" fill-rule="evenodd"/><path d="M589.4 586.8L588.7 586.9L583.2 586.9L579.7 586.3L578.2 585.5L569.5 579.5L569.1 579L569.4 576L569.1 573.2L568.2 570.8L566.8 567.8L563.9 563.2L559.1 558L557.1 555.5L553.3 549.5L554.6 548L559.2 544.3L562.7 542.1L566.4 540.8L575.2 538.7L585.4 534.3L589.7 533.6L593.9 533.6L596.4 534L597.2 534.3L599.1 536.2L607.9 550.2L608.7 552.2L609.3 555.2L609.5 558L609.3 560.5L608.4 565.5L607.3 568.5L605.9 570.8L603.6 574L598.7 579.9L593.9 585L591.9 586.3L589.4 586.8ZM584.5 568.8L585.2 568.1L585.2 567.2L584.7 566.6L583.7 566.5L583 567.2L583 568L583.7 568.7L584.5 568.8Z" fill="#1f90d0" fill-rule="evenodd"/><path d="M605.7 567.3L601.2 565.2L598.7 564.3L596.7 564L591.4 563.8L585.4 562L583.9 562L582.2 562.2L578.2 563.7L576.9 564L575.2 563.9L573.2 563.3L570.9 562.1L565.7 558.9L563.7 557.4L562.1 556L560.7 554.2L559.5 552.2L558.3 549.2L557.8 547.8L557.8 547.2L558.7 546.2L561.7 543.9L562.9 543.2L565.2 542.3L566.9 541.8L571.7 540.9L575.7 539.9L585.7 535.7L589.7 535.2L591.5 535.5L595.1 537.5L598.9 539.1L601.5 542.8L606.9 551.2L607.4 552.5L608.3 555.5L608.4 559L608.2 560.8L607.2 564.5L606.2 566.9L605.7 567.3Z" fill="#0b6db8" fill-rule="evenodd"/><path d="M572.7 557L569.9 557L567.4 556.5L565.2 555.3L563.4 553.7L562.1 551.5L561.5 549L561.7 546.5L562 545.5L562.6 544.8L564.3 543.8L566.9 542.9L569.2 542.5L571.4 542.4L572.7 543L576.2 545.1L577.9 545.7L579.7 546.1L585.4 546.5L589.2 547.5L590.7 548.2L591.9 549L592.6 549.8L593.1 550.8L593.2 551.5L593.1 552.2L592.3 553.5L590.7 554.7L588.4 555.6L584.4 556.3L577.2 556.5L572.7 557ZM604.9 560.8L603.9 560.6L602.9 560L602.3 559.2L602 558.2L602.1 557.2L602.6 556.2L603.4 555.6L604.4 555.3L605.4 555.4L606.4 555.9L607.1 556.8L607.3 557.8L607.2 559L606.9 559.8L605.9 560.5L604.9 560.8Z" fill="#0a50a0" fill-rule="evenodd"/><path d="M570.2 553.8L568.4 553.9L566.9 553.4L565.6 552.5L564.7 551.2L564.2 549.5L564.4 548L565.2 546.7L566.4 545.8L568.2 545.5L569.9 545.9L571.8 547.2L573 549L573.4 550.5L573.1 551.8L571.9 553L570.2 553.8Z" fill="#08306b" fill-rule="evenodd"/><path d="M590.2 592L581.7 592L581.4 591.9L579.7 591.9L579.4 591.6L578.7 591.6L578.4 591.4L577.9 591.4L575.4 590.1L574.9 589.6L573.9 589.1L573.2 588.4L572.9 588.4L572.4 587.9L572.2 587.9L568.7 585.4L567.9 585.1L567.4 584.6L566.7 584.4L566.2 583.9L565.4 583.6L564.9 583.1L564.2 582.9L563.7 582.4L562.9 582.1L561.2 580.9L560.4 580.6L558.4 579.1L558.2 579.1L557.7 578.6L557.4 578.6L556.9 578.1L555.9 577.6L555.2 576.9L554.9 576.9L554.4 576.4L553.4 575.9L550.7 573.6L550.4 573.6L547.3 570.5L546.8 569.5L546.3 569L545 566.5L545 565.8L544.8 565.5L544.8 564.8L544.5 564.5L544.5 563L544.4 562.8L544.5 554.2L544.8 554L544.8 553L545 552.8L545.3 551.5L546.8 548.5L547.5 547.8L547.5 547.5L550.4 544.6L550.7 544.6L551.7 543.6L551.9 543.6L554.7 541.4L555.7 540.9L556.4 540.1L557.9 539.4L558.4 538.9L560.9 537.6L561.4 537.6L561.7 537.4L562.2 537.4L562.4 537.1L563.7 536.9L563.9 536.6L564.4 536.6L564.7 536.4L565.2 536.4L565.4 536.1L566.2 536.1L567.2 535.6L567.9 535.6L568.9 535.1L569.7 535.1L570.7 534.6L571.2 534.6L571.4 534.4L571.9 534.4L572.2 534.1L572.7 534.1L572.9 533.9L573.4 533.9L575.9 532.6L576.4 532.6L580.7 530.4L581.2 530.4L581.9 529.9L582.4 529.9L583.9 529.1L584.7 529.1L584.9 528.9L585.9 528.9L586.2 528.6L587.9 528.6L588.2 528.5L595.4 528.5L595.7 528.6L596.9 528.6L597.2 528.9L597.9 528.9L598.2 529.1L598.7 529.1L600.2 529.9L602.3 531.8L602.3 532L603.5 533.2L604 534.2L605 535.5L605.3 536.2L605.8 536.8L606.8 538.8L607.3 539.2L608.5 541.8L609.5 543L609.8 543.8L610.8 545L611 545.8L612.3 547.5L613 549L613 549.5L613.5 550.2L613.5 550.8L613.8 551L613.8 552L614 552.2L614.2 562.2L614 562.5L614 564.5L613.8 564.8L613.8 566L613.5 566.2L613.5 567L613.3 567.2L613 568.5L612.8 568.8L612.8 569.2L612.3 570L612.3 570.5L611.8 571.5L611.3 572L611 572.8L610.5 573.2L610 574.2L609.3 575L608.8 576L607 578L607 578.2L606.3 579L606.3 579.2L605 580.5L605 580.8L601.3 584.8L601.3 585L596.7 589.6L596.4 589.6L595.7 590.4L593.7 591.4L593.2 591.4L592.9 591.6L592.2 591.6L591.9 591.9L590.4 591.9L590.2 592Z" fill="none" stroke="#1a1a1a" stroke-width="0.65"/><path d="M589.7 588.8L588.9 588.9L582.7 588.9L580.7 588.7L578.9 588.2L577.2 587.3L570.4 582.7L562.2 577.8L555.2 573L552.1 570.8L550.2 568.8L548.3 565.5L547.5 561.8L547.5 557.2L548 554L548.4 552.7L549.6 550.2L550.4 549.2L553.3 546.5L560.2 541.5L561.9 540.5L565.7 539.2L570.7 538L574.7 536.8L577.8 535.5L581.7 533.6L584.9 532.3L589.2 531.6L594.4 531.6L596.9 532.1L598.4 532.7L600.7 535L609.5 549.2L610.7 552L611.2 555L611.1 561.2L610.6 565L609.1 569.5L607.2 572.5L603.4 577.5L598.4 583.3L594.9 586.8L593.9 587.5L592.4 588.2L590.9 588.7L589.7 588.8Z" fill="none" stroke="#1a1a1a" stroke-width="0.65"/><path d="M605.7 567.3L601.2 565.2L598.7 564.3L596.7 564L591.4 563.8L585.4 562L583.9 562L582.2 562.2L578.2 563.7L576.9 564L575.2 563.9L573.2 563.3L570.9 562.1L565.7 558.9L563.7 557.4L562.1 556L560.7 554.2L559.5 552.2L558.3 549.2L557.8 547.8L557.8 547.2L558.7 546.2L561.7 543.9L562.9 543.2L565.2 542.3L566.9 541.8L571.7 540.9L575.7 539.9L585.7 535.7L589.7 535.2L591.5 535.5L595.1 537.5L598.9 539.1L601.5 542.8L606.9 551.2L607.4 552.5L608.3 555.5L608.4 559L608.2 560.8L607.2 564.5L606.2 566.9L605.7 567.3Z" fill="none" stroke="#1a1a1a" stroke-width="0.65"/><path d="M569.7 554.5L567.9 554.4L566.2 553.6L564.9 552.5L563.9 550.8L563.7 549L564.1 547.2L565.2 545.8L566.7 545L567.7 544.8L568.9 544.8L571.1 545.8L573.3 547.8L574.1 549L574.6 550L574.7 550.8L574.6 551.5L573.7 552.8L571.8 554L569.7 554.5Z" fill="none" stroke="#1a1a1a" stroke-width="0.65"/><path d="M571.9 533.5L570.7 536.9L568.9 543L566.7 549.5L564.9 555L563.3 559.8L563.7 565.5L564.4 571.3L565.4 576L566.2 580.5L567.9 587.3L568.9 592.5" fill="none" stroke="#fff" stroke-width="0.7" opacity="0.9" stroke-linejoin="round"/><path d="M548.4 543.5L554.7 549.5L558.9 555L563.3 559.8" fill="none" stroke="#fff" stroke-width="0.7" opacity="0.9" stroke-linejoin="round"/><path d="M577.4 533L579.9 536.9L587.9 541.5L592.5 543.8L598.2 539.2L600.9 533.5" fill="none" stroke="#fff" stroke-width="0.7" opacity="0.9" stroke-linejoin="round"/><path d="M592.5 543.8L593.6 552.9L590.2 561L589.1 565.6L590.2 570.1" fill="none" stroke="#fff" stroke-width="0.7" opacity="0.9" stroke-linejoin="round"/><path d="M563.9 570.7L570.7 569.5L579.9 570.1L590.2 570.7L597.1 572.4L601.7 575.9L605.4 579" fill="none" stroke="#fff" stroke-width="0.7" opacity="0.9" stroke-linejoin="round"/><path d="M568.4 586.2L576.4 585L584.5 585.6L591.4 586.7L597.1 588.5" fill="none" stroke="#fff" stroke-width="0.7" opacity="0.9" stroke-linejoin="round"/></g>
<text x="579.3" y="524.8" font-size="11.8" text-anchor="middle" fill="#111" font-style="italic">PSIP1</text>
<text x="627.6" y="459.3" font-size="7.8" text-anchor="start" fill="#222">Level</text>
<rect x="627.6" y="462.4" width="10.5" height="11.3" fill="#f2f7fd"/>
<text x="642.3" y="470.7" font-size="7.7" text-anchor="start" fill="#222">(0.0, 0.2]</text>
<rect x="627.6" y="473.7" width="10.5" height="11.3" fill="#d8e7f6"/>
<text x="642.3" y="482" font-size="7.7" text-anchor="start" fill="#222">(0.2, 0.3]</text>
<rect x="627.6" y="484.9" width="10.5" height="11.3" fill="#bed8ee"/>
<text x="642.3" y="493.2" font-size="7.7" text-anchor="start" fill="#222">(0.3, 0.4]</text>
<rect x="627.6" y="496.2" width="10.5" height="11.3" fill="#94c5e2"/>
<text x="642.3" y="504.5" font-size="7.7" text-anchor="start" fill="#222">(0.4, 0.5]</text>
<rect x="627.6" y="507.5" width="10.5" height="11.3" fill="#57acd9"/>
<text x="642.3" y="515.8" font-size="7.7" text-anchor="start" fill="#222">(0.5, 0.6]</text>
<rect x="627.6" y="518.8" width="10.5" height="11.3" fill="#1f90d0"/>
<text x="642.3" y="527" font-size="7.7" text-anchor="start" fill="#222">(0.6, 0.7]</text>
<rect x="627.6" y="530" width="10.5" height="11.3" fill="#0b6db8"/>
<text x="642.3" y="538.3" font-size="7.7" text-anchor="start" fill="#222">(0.7, 0.8]</text>
<rect x="627.6" y="541.3" width="10.5" height="11.3" fill="#0a50a0"/>
<text x="642.3" y="549.6" font-size="7.7" text-anchor="start" fill="#222">(0.8, 0.9]</text>
<rect x="627.6" y="552.6" width="10.5" height="11.3" fill="#08306b"/>
<text x="642.3" y="560.9" font-size="7.7" text-anchor="start" fill="#222">(0.9, 1.0]</text>
</svg></body></html>
